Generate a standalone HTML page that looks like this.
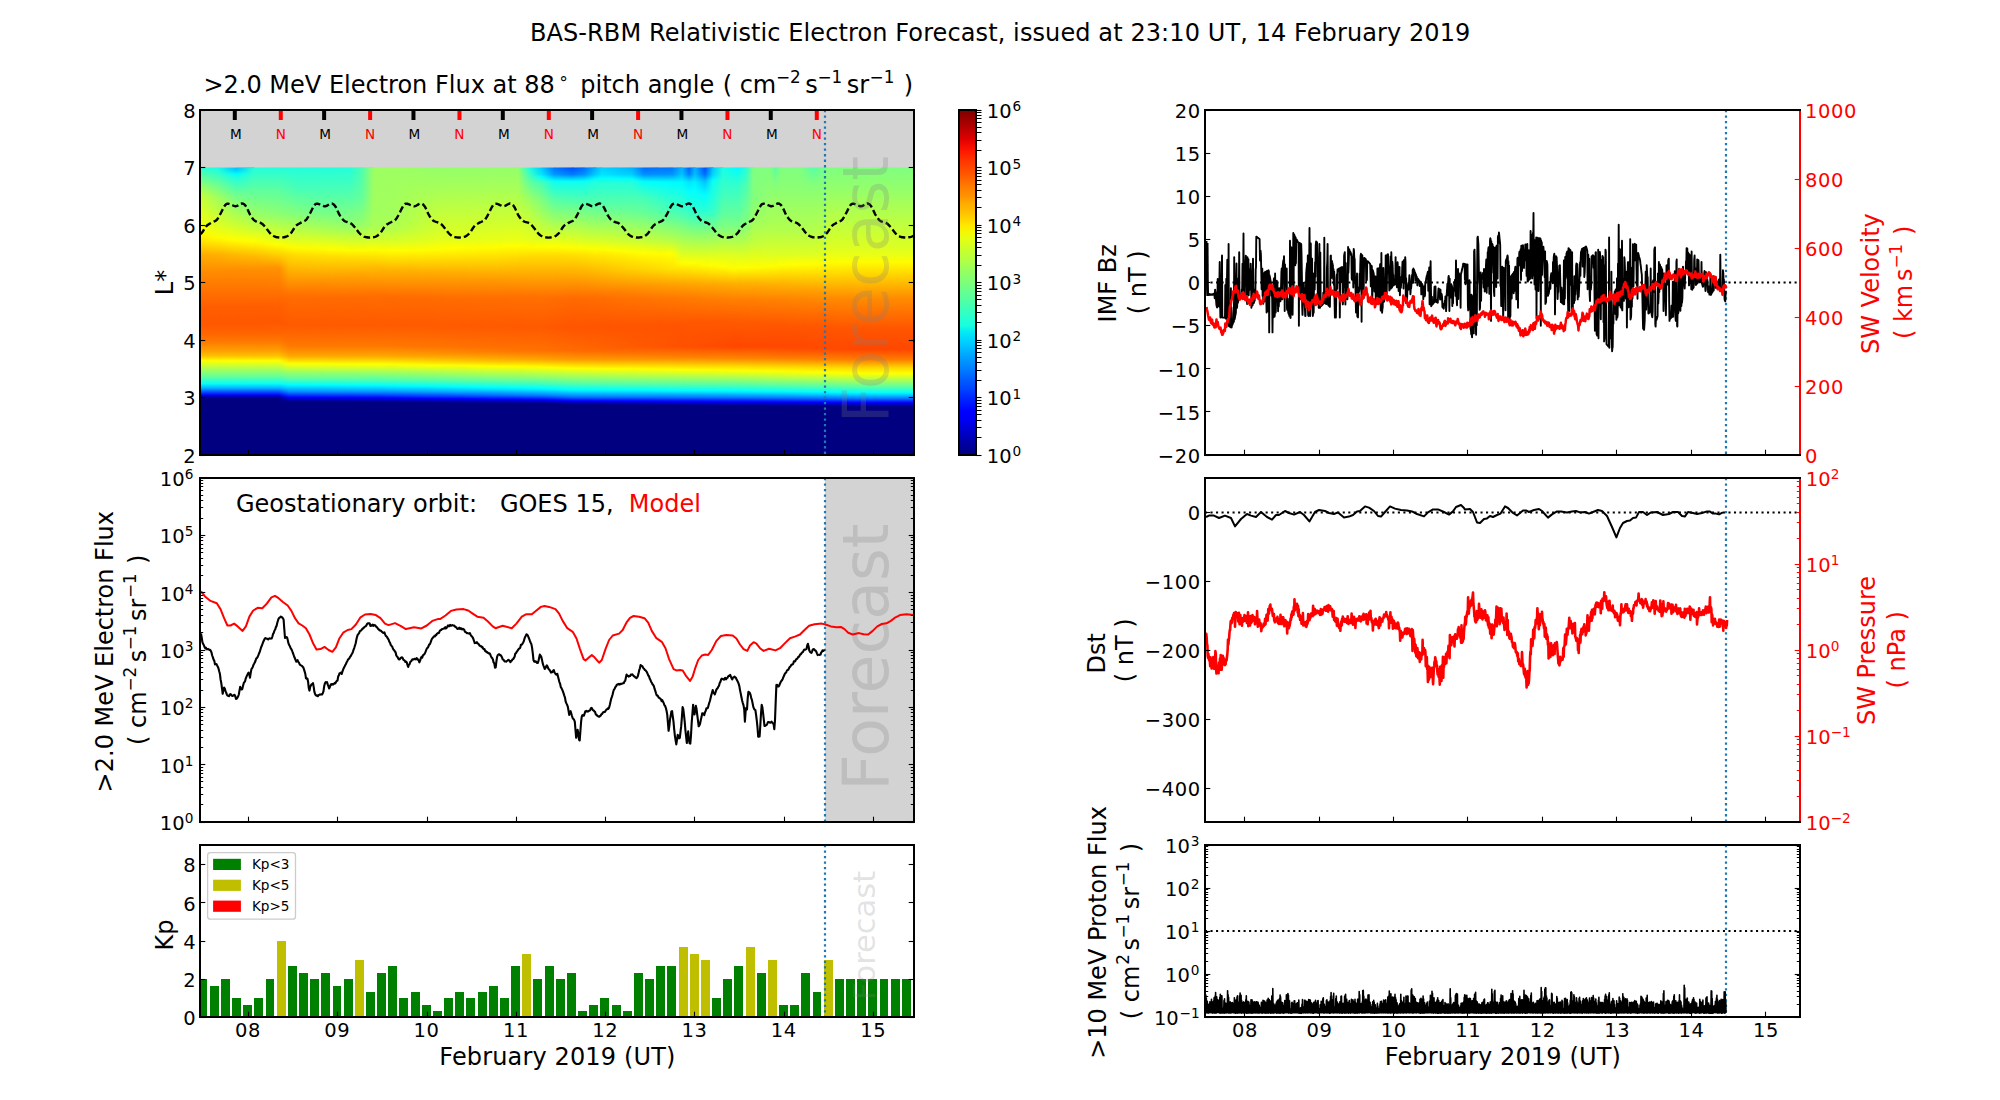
<!DOCTYPE html>
<html><head><meta charset="utf-8"><title>BAS-RBM Relativistic Electron Forecast</title>
<style>html,body{margin:0;padding:0;background:#fff}svg{display:block}text{font-family:'DejaVu Sans','Liberation Sans',sans-serif;white-space:pre}</style>
</head><body>
<svg width="2000" height="1100" viewBox="0 0 2000 1100">
<defs><linearGradient id="hg" x1="0" y1="0" x2="1" y2="0"><stop offset="0" stop-color="#000"/><stop offset="1" stop-color="#fff"/></linearGradient><mask id="mk" maskContentUnits="objectBoundingBox"><rect width="1" height="1" fill="url(#hg)"/></mask><linearGradient id="h0" gradientUnits="userSpaceOnUse" x1="0" y1="167.50" x2="0" y2="455.00"><stop offset=".000" stop-color="#2effd1"/><stop offset=".072" stop-color="#9fff60"/><stop offset=".100" stop-color="#c7ff38"/><stop offset=".172" stop-color="#e6ff19"/><stop offset=".208" stop-color="#f3ff0c"/><stop offset=".228" stop-color="#fffc00"/><stop offset=".256" stop-color="#ffe500"/><stop offset=".304" stop-color="#ffab00"/><stop offset=".380" stop-color="#ff8500"/><stop offset=".488" stop-color="#ff5d00"/><stop offset=".544" stop-color="#ff5800"/><stop offset=".580" stop-color="#ff6700"/><stop offset=".608" stop-color="#ff7c00"/><stop offset=".636" stop-color="#ff9e00"/><stop offset=".656" stop-color="#ffc200"/><stop offset=".672" stop-color="#ffff00"/><stop offset=".704" stop-color="#9fff60"/><stop offset=".724" stop-color="#6eff91"/><stop offset=".748" stop-color="#17ffe8"/><stop offset=".752" stop-color="#04fffb"/><stop offset=".764" stop-color="#00c2ff"/><stop offset=".768" stop-color="#00acff"/><stop offset=".788" stop-color="#001aff"/><stop offset=".792" stop-color="#0000ec"/><stop offset=".800" stop-color="#000094"/><stop offset=".804" stop-color="#000086"/><stop offset=".808" stop-color="#000080"/><stop offset=".840" stop-color="#000080"/></linearGradient><linearGradient id="h1" gradientUnits="userSpaceOnUse" x1="0" y1="167.50" x2="0" y2="455.00"><stop offset=".000" stop-color="#17ffe8"/><stop offset=".064" stop-color="#72ff8d"/><stop offset=".104" stop-color="#a1ff5e"/><stop offset=".172" stop-color="#ccff33"/><stop offset=".208" stop-color="#e1ff1e"/><stop offset=".244" stop-color="#fffc00"/><stop offset=".304" stop-color="#ffb000"/><stop offset=".364" stop-color="#ff8b00"/><stop offset=".484" stop-color="#ff5e00"/><stop offset=".544" stop-color="#ff5800"/><stop offset=".580" stop-color="#ff6700"/><stop offset=".608" stop-color="#ff7c00"/><stop offset=".636" stop-color="#ff9e00"/><stop offset=".656" stop-color="#ffc200"/><stop offset=".672" stop-color="#ffff00"/><stop offset=".704" stop-color="#9fff60"/><stop offset=".724" stop-color="#6eff91"/><stop offset=".748" stop-color="#17ffe8"/><stop offset=".752" stop-color="#04fffb"/><stop offset=".764" stop-color="#00c2ff"/><stop offset=".768" stop-color="#00acff"/><stop offset=".788" stop-color="#001aff"/><stop offset=".792" stop-color="#0000ec"/><stop offset=".800" stop-color="#000094"/><stop offset=".804" stop-color="#000086"/><stop offset=".808" stop-color="#000080"/><stop offset=".840" stop-color="#000080"/></linearGradient><linearGradient id="h2" gradientUnits="userSpaceOnUse" x1="0" y1="167.50" x2="0" y2="455.00"><stop offset=".000" stop-color="#00beff"/><stop offset=".008" stop-color="#00cbff"/><stop offset=".024" stop-color="#02fffd"/><stop offset=".036" stop-color="#22ffdd"/><stop offset=".100" stop-color="#75ff8a"/><stop offset=".220" stop-color="#deff21"/><stop offset=".252" stop-color="#fffe00"/><stop offset=".304" stop-color="#ffb900"/><stop offset=".356" stop-color="#ff8e00"/><stop offset=".484" stop-color="#ff5e00"/><stop offset=".544" stop-color="#ff5800"/><stop offset=".580" stop-color="#ff6700"/><stop offset=".608" stop-color="#ff7c00"/><stop offset=".636" stop-color="#ff9e00"/><stop offset=".656" stop-color="#ffc200"/><stop offset=".672" stop-color="#ffff00"/><stop offset=".704" stop-color="#9fff60"/><stop offset=".724" stop-color="#6eff91"/><stop offset=".748" stop-color="#17ffe8"/><stop offset=".752" stop-color="#04fffb"/><stop offset=".764" stop-color="#00c2ff"/><stop offset=".768" stop-color="#00acff"/><stop offset=".788" stop-color="#001aff"/><stop offset=".792" stop-color="#0000ec"/><stop offset=".800" stop-color="#000094"/><stop offset=".804" stop-color="#000086"/><stop offset=".808" stop-color="#000080"/><stop offset=".840" stop-color="#000080"/></linearGradient><linearGradient id="h3" gradientUnits="userSpaceOnUse" x1="0" y1="167.50" x2="0" y2="455.00"><stop offset=".000" stop-color="#23ffdc"/><stop offset=".068" stop-color="#58ffa7"/><stop offset=".164" stop-color="#9aff65"/><stop offset=".212" stop-color="#c9ff36"/><stop offset=".256" stop-color="#feff01"/><stop offset=".308" stop-color="#ffba00"/><stop offset=".356" stop-color="#ff8e00"/><stop offset=".484" stop-color="#ff5e00"/><stop offset=".544" stop-color="#ff5800"/><stop offset=".580" stop-color="#ff6700"/><stop offset=".608" stop-color="#ff7c00"/><stop offset=".636" stop-color="#ff9e00"/><stop offset=".656" stop-color="#ffc200"/><stop offset=".672" stop-color="#ffff00"/><stop offset=".704" stop-color="#9fff60"/><stop offset=".724" stop-color="#6eff91"/><stop offset=".748" stop-color="#17ffe8"/><stop offset=".752" stop-color="#04fffb"/><stop offset=".764" stop-color="#00c2ff"/><stop offset=".768" stop-color="#00acff"/><stop offset=".788" stop-color="#001aff"/><stop offset=".792" stop-color="#0000ec"/><stop offset=".800" stop-color="#000094"/><stop offset=".804" stop-color="#000086"/><stop offset=".808" stop-color="#000080"/><stop offset=".840" stop-color="#000080"/></linearGradient><linearGradient id="h4" gradientUnits="userSpaceOnUse" x1="0" y1="167.50" x2="0" y2="455.00"><stop offset=".000" stop-color="#24ffdb"/><stop offset=".072" stop-color="#5affa5"/><stop offset=".156" stop-color="#89ff76"/><stop offset=".248" stop-color="#e1ff1e"/><stop offset=".268" stop-color="#feff01"/><stop offset=".348" stop-color="#ff9300"/><stop offset=".476" stop-color="#ff6100"/><stop offset=".536" stop-color="#ff5700"/><stop offset=".576" stop-color="#ff6400"/><stop offset=".608" stop-color="#ff7c00"/><stop offset=".636" stop-color="#ff9e00"/><stop offset=".656" stop-color="#ffc200"/><stop offset=".672" stop-color="#ffff00"/><stop offset=".704" stop-color="#9fff60"/><stop offset=".724" stop-color="#6eff91"/><stop offset=".748" stop-color="#17ffe8"/><stop offset=".752" stop-color="#04fffb"/><stop offset=".764" stop-color="#00c2ff"/><stop offset=".768" stop-color="#00acff"/><stop offset=".788" stop-color="#001aff"/><stop offset=".792" stop-color="#0000ec"/><stop offset=".800" stop-color="#000094"/><stop offset=".804" stop-color="#000086"/><stop offset=".808" stop-color="#000080"/><stop offset=".840" stop-color="#000080"/></linearGradient><linearGradient id="h5" gradientUnits="userSpaceOnUse" x1="0" y1="167.50" x2="0" y2="455.00"><stop offset=".000" stop-color="#24ffdb"/><stop offset=".076" stop-color="#5bffa4"/><stop offset=".156" stop-color="#88ff77"/><stop offset=".248" stop-color="#e1ff1e"/><stop offset=".268" stop-color="#fdff02"/><stop offset=".352" stop-color="#ff9000"/><stop offset=".480" stop-color="#ff5f00"/><stop offset=".540" stop-color="#ff5700"/><stop offset=".576" stop-color="#ff6400"/><stop offset=".608" stop-color="#ff7c00"/><stop offset=".636" stop-color="#ff9e00"/><stop offset=".656" stop-color="#ffc200"/><stop offset=".672" stop-color="#ffff00"/><stop offset=".704" stop-color="#9fff60"/><stop offset=".724" stop-color="#6eff91"/><stop offset=".748" stop-color="#17ffe8"/><stop offset=".752" stop-color="#04fffb"/><stop offset=".764" stop-color="#00c2ff"/><stop offset=".768" stop-color="#00acff"/><stop offset=".788" stop-color="#001aff"/><stop offset=".792" stop-color="#0000ec"/><stop offset=".800" stop-color="#000094"/><stop offset=".804" stop-color="#000086"/><stop offset=".808" stop-color="#000080"/><stop offset=".840" stop-color="#000080"/></linearGradient><linearGradient id="h6" gradientUnits="userSpaceOnUse" x1="0" y1="167.50" x2="0" y2="455.00"><stop offset=".000" stop-color="#24ffdb"/><stop offset=".160" stop-color="#86ff79"/><stop offset=".248" stop-color="#dbff24"/><stop offset=".276" stop-color="#fffc00"/><stop offset=".304" stop-color="#ffd800"/><stop offset=".452" stop-color="#ff6b00"/><stop offset=".548" stop-color="#ff5a00"/><stop offset=".620" stop-color="#ff7800"/><stop offset=".640" stop-color="#ff9100"/><stop offset=".656" stop-color="#ffa800"/><stop offset=".680" stop-color="#fff800"/><stop offset=".684" stop-color="#f8ff07"/><stop offset=".712" stop-color="#99ff66"/><stop offset=".736" stop-color="#57ffa8"/><stop offset=".756" stop-color="#00feff"/><stop offset=".780" stop-color="#008aff"/><stop offset=".796" stop-color="#0014ff"/><stop offset=".800" stop-color="#0000f4"/><stop offset=".812" stop-color="#000090"/><stop offset=".816" stop-color="#000080"/><stop offset=".840" stop-color="#000080"/></linearGradient><linearGradient id="h7" gradientUnits="userSpaceOnUse" x1="0" y1="167.50" x2="0" y2="455.00"><stop offset=".000" stop-color="#24ffdb"/><stop offset=".072" stop-color="#46ffb9"/><stop offset=".164" stop-color="#86ff79"/><stop offset=".252" stop-color="#dcff23"/><stop offset=".280" stop-color="#fffc00"/><stop offset=".304" stop-color="#ffdd00"/><stop offset=".440" stop-color="#ff7200"/><stop offset=".464" stop-color="#ff6900"/><stop offset=".548" stop-color="#ff5a00"/><stop offset=".620" stop-color="#ff7800"/><stop offset=".640" stop-color="#ff9100"/><stop offset=".656" stop-color="#ffa800"/><stop offset=".680" stop-color="#fff800"/><stop offset=".684" stop-color="#f9ff06"/><stop offset=".712" stop-color="#99ff66"/><stop offset=".736" stop-color="#57ffa8"/><stop offset=".756" stop-color="#00feff"/><stop offset=".780" stop-color="#008aff"/><stop offset=".796" stop-color="#0015ff"/><stop offset=".800" stop-color="#0000f5"/><stop offset=".812" stop-color="#000091"/><stop offset=".816" stop-color="#000080"/><stop offset=".840" stop-color="#000080"/></linearGradient><linearGradient id="h8" gradientUnits="userSpaceOnUse" x1="0" y1="167.50" x2="0" y2="455.00"><stop offset=".000" stop-color="#24ffdb"/><stop offset=".072" stop-color="#46ffb9"/><stop offset=".156" stop-color="#75ff8a"/><stop offset=".216" stop-color="#aeff51"/><stop offset=".268" stop-color="#edff12"/><stop offset=".284" stop-color="#fffb00"/><stop offset=".308" stop-color="#ffde00"/><stop offset=".412" stop-color="#ff8600"/><stop offset=".456" stop-color="#ff6a00"/><stop offset=".548" stop-color="#ff5a00"/><stop offset=".620" stop-color="#ff7800"/><stop offset=".640" stop-color="#ff9100"/><stop offset=".656" stop-color="#ffa800"/><stop offset=".680" stop-color="#fff600"/><stop offset=".684" stop-color="#faff05"/><stop offset=".716" stop-color="#8fff70"/><stop offset=".736" stop-color="#59ffa6"/><stop offset=".756" stop-color="#02fffd"/><stop offset=".780" stop-color="#008dff"/><stop offset=".796" stop-color="#0019ff"/><stop offset=".800" stop-color="#0000f9"/><stop offset=".812" stop-color="#000096"/><stop offset=".816" stop-color="#000080"/><stop offset=".840" stop-color="#000080"/></linearGradient><linearGradient id="h9" gradientUnits="userSpaceOnUse" x1="0" y1="167.50" x2="0" y2="455.00"><stop offset=".000" stop-color="#24ffdb"/><stop offset=".072" stop-color="#46ffb9"/><stop offset=".164" stop-color="#7aff85"/><stop offset=".212" stop-color="#a4ff5b"/><stop offset=".264" stop-color="#e3ff1c"/><stop offset=".284" stop-color="#ffff00"/><stop offset=".308" stop-color="#ffe000"/><stop offset=".388" stop-color="#ff9900"/><stop offset=".452" stop-color="#ff6b00"/><stop offset=".548" stop-color="#ff5a00"/><stop offset=".620" stop-color="#ff7800"/><stop offset=".640" stop-color="#ff9100"/><stop offset=".656" stop-color="#ffa800"/><stop offset=".684" stop-color="#fcff03"/><stop offset=".716" stop-color="#90ff6f"/><stop offset=".736" stop-color="#59ffa6"/><stop offset=".756" stop-color="#03fffc"/><stop offset=".768" stop-color="#00c9ff"/><stop offset=".780" stop-color="#008fff"/><stop offset=".800" stop-color="#0000fc"/><stop offset=".812" stop-color="#000098"/><stop offset=".816" stop-color="#000080"/><stop offset=".840" stop-color="#000080"/></linearGradient><linearGradient id="h10" gradientUnits="userSpaceOnUse" x1="0" y1="167.50" x2="0" y2="455.00"><stop offset=".000" stop-color="#24ffdb"/><stop offset=".072" stop-color="#46ffb9"/><stop offset=".176" stop-color="#81ff7e"/><stop offset=".208" stop-color="#9bff64"/><stop offset=".260" stop-color="#d9ff26"/><stop offset=".288" stop-color="#fffc00"/><stop offset=".312" stop-color="#ffde00"/><stop offset=".376" stop-color="#ffa200"/><stop offset=".452" stop-color="#ff6b00"/><stop offset=".548" stop-color="#ff5a00"/><stop offset=".620" stop-color="#ff7800"/><stop offset=".640" stop-color="#ff9100"/><stop offset=".656" stop-color="#ffa800"/><stop offset=".684" stop-color="#fdff02"/><stop offset=".716" stop-color="#91ff6e"/><stop offset=".736" stop-color="#5affa5"/><stop offset=".756" stop-color="#05fffa"/><stop offset=".760" stop-color="#00f2ff"/><stop offset=".780" stop-color="#0090ff"/><stop offset=".800" stop-color="#0000ff"/><stop offset=".812" stop-color="#00009b"/><stop offset=".816" stop-color="#000080"/><stop offset=".840" stop-color="#000080"/></linearGradient><linearGradient id="h11" gradientUnits="userSpaceOnUse" x1="0" y1="167.50" x2="0" y2="455.00"><stop offset=".000" stop-color="#4dffb2"/><stop offset=".108" stop-color="#65ff9a"/><stop offset=".200" stop-color="#97ff68"/><stop offset=".256" stop-color="#d3ff2c"/><stop offset=".288" stop-color="#fffc00"/><stop offset=".312" stop-color="#ffde00"/><stop offset=".376" stop-color="#ffa200"/><stop offset=".452" stop-color="#ff6b00"/><stop offset=".548" stop-color="#ff5a00"/><stop offset=".620" stop-color="#ff7800"/><stop offset=".640" stop-color="#ff9100"/><stop offset=".656" stop-color="#ffa800"/><stop offset=".684" stop-color="#feff01"/><stop offset=".716" stop-color="#92ff6d"/><stop offset=".736" stop-color="#5bffa4"/><stop offset=".756" stop-color="#06fff9"/><stop offset=".760" stop-color="#00f3ff"/><stop offset=".780" stop-color="#0092ff"/><stop offset=".792" stop-color="#003dff"/><stop offset=".800" stop-color="#0002ff"/><stop offset=".816" stop-color="#000080"/><stop offset=".840" stop-color="#000080"/></linearGradient><linearGradient id="h12" gradientUnits="userSpaceOnUse" x1="0" y1="167.50" x2="0" y2="455.00"><stop offset=".000" stop-color="#9eff61"/><stop offset=".156" stop-color="#a3ff5c"/><stop offset=".204" stop-color="#aaff55"/><stop offset=".256" stop-color="#d7ff28"/><stop offset=".284" stop-color="#feff01"/><stop offset=".344" stop-color="#ffbe00"/><stop offset=".440" stop-color="#ff7200"/><stop offset=".464" stop-color="#ff6900"/><stop offset=".548" stop-color="#ff5a00"/><stop offset=".620" stop-color="#ff7800"/><stop offset=".640" stop-color="#ff9100"/><stop offset=".656" stop-color="#ffa800"/><stop offset=".684" stop-color="#ffff00"/><stop offset=".716" stop-color="#93ff6c"/><stop offset=".740" stop-color="#4dffb2"/><stop offset=".756" stop-color="#07fff8"/><stop offset=".760" stop-color="#00f4ff"/><stop offset=".780" stop-color="#0093ff"/><stop offset=".788" stop-color="#005dff"/><stop offset=".800" stop-color="#0004ff"/><stop offset=".812" stop-color="#0000a0"/><stop offset=".816" stop-color="#000080"/><stop offset=".840" stop-color="#000080"/></linearGradient><linearGradient id="h13" gradientUnits="userSpaceOnUse" x1="0" y1="167.50" x2="0" y2="455.00"><stop offset=".000" stop-color="#9eff61"/><stop offset=".152" stop-color="#a2ff5d"/><stop offset=".204" stop-color="#abff54"/><stop offset=".256" stop-color="#d7ff28"/><stop offset=".288" stop-color="#fffc00"/><stop offset=".352" stop-color="#ffb600"/><stop offset=".448" stop-color="#ff6d00"/><stop offset=".548" stop-color="#ff5a00"/><stop offset=".620" stop-color="#ff7800"/><stop offset=".640" stop-color="#ff9100"/><stop offset=".656" stop-color="#ffa800"/><stop offset=".684" stop-color="#ffff00"/><stop offset=".716" stop-color="#93ff6c"/><stop offset=".740" stop-color="#4effb1"/><stop offset=".756" stop-color="#07fff8"/><stop offset=".760" stop-color="#00f5ff"/><stop offset=".780" stop-color="#0093ff"/><stop offset=".788" stop-color="#005eff"/><stop offset=".800" stop-color="#0005ff"/><stop offset=".808" stop-color="#0000c2"/><stop offset=".816" stop-color="#000080"/><stop offset=".840" stop-color="#000080"/></linearGradient><linearGradient id="h14" gradientUnits="userSpaceOnUse" x1="0" y1="167.50" x2="0" y2="455.00"><stop offset=".000" stop-color="#9eff61"/><stop offset=".152" stop-color="#a3ff5c"/><stop offset=".204" stop-color="#aeff51"/><stop offset=".256" stop-color="#d7ff28"/><stop offset=".288" stop-color="#ffff00"/><stop offset=".360" stop-color="#ffb000"/><stop offset=".452" stop-color="#ff6b00"/><stop offset=".548" stop-color="#ff5a00"/><stop offset=".620" stop-color="#ff7700"/><stop offset=".644" stop-color="#ff9500"/><stop offset=".656" stop-color="#ffa600"/><stop offset=".684" stop-color="#fffc00"/><stop offset=".716" stop-color="#96ff69"/><stop offset=".740" stop-color="#50ffaf"/><stop offset=".756" stop-color="#0bfff4"/><stop offset=".760" stop-color="#00f8ff"/><stop offset=".780" stop-color="#0097ff"/><stop offset=".788" stop-color="#0062ff"/><stop offset=".800" stop-color="#0009ff"/><stop offset=".804" stop-color="#0000e7"/><stop offset=".816" stop-color="#000083"/><stop offset=".840" stop-color="#000080"/></linearGradient><linearGradient id="h15" gradientUnits="userSpaceOnUse" x1="0" y1="167.50" x2="0" y2="455.00"><stop offset=".000" stop-color="#9bff64"/><stop offset=".160" stop-color="#aeff51"/><stop offset=".208" stop-color="#bbff44"/><stop offset=".256" stop-color="#dcff23"/><stop offset=".288" stop-color="#fffd00"/><stop offset=".360" stop-color="#ffb000"/><stop offset=".452" stop-color="#ff6c00"/><stop offset=".548" stop-color="#ff5a00"/><stop offset=".624" stop-color="#ff7800"/><stop offset=".656" stop-color="#ffa400"/><stop offset=".684" stop-color="#fff900"/><stop offset=".688" stop-color="#f7ff08"/><stop offset=".716" stop-color="#9aff65"/><stop offset=".740" stop-color="#54ffab"/><stop offset=".760" stop-color="#00fdff"/><stop offset=".780" stop-color="#009cff"/><stop offset=".792" stop-color="#004bff"/><stop offset=".800" stop-color="#000fff"/><stop offset=".804" stop-color="#0000ed"/><stop offset=".816" stop-color="#000087"/><stop offset=".820" stop-color="#000080"/><stop offset=".840" stop-color="#000080"/></linearGradient><linearGradient id="h16" gradientUnits="userSpaceOnUse" x1="0" y1="167.50" x2="0" y2="455.00"><stop offset=".000" stop-color="#97ff68"/><stop offset=".112" stop-color="#adff52"/><stop offset=".212" stop-color="#c8ff37"/><stop offset=".256" stop-color="#e1ff1e"/><stop offset=".288" stop-color="#fffc00"/><stop offset=".364" stop-color="#ffae00"/><stop offset=".452" stop-color="#ff6c00"/><stop offset=".548" stop-color="#ff5a00"/><stop offset=".624" stop-color="#ff7600"/><stop offset=".656" stop-color="#ffa200"/><stop offset=".680" stop-color="#ffe800"/><stop offset=".688" stop-color="#fbff04"/><stop offset=".716" stop-color="#9eff61"/><stop offset=".740" stop-color="#57ffa8"/><stop offset=".760" stop-color="#02fffd"/><stop offset=".780" stop-color="#00a0ff"/><stop offset=".792" stop-color="#0052ff"/><stop offset=".800" stop-color="#0015ff"/><stop offset=".804" stop-color="#0000f2"/><stop offset=".816" stop-color="#00008b"/><stop offset=".820" stop-color="#000080"/><stop offset=".840" stop-color="#000080"/></linearGradient><linearGradient id="h17" gradientUnits="userSpaceOnUse" x1="0" y1="167.50" x2="0" y2="455.00"><stop offset=".000" stop-color="#94ff6b"/><stop offset=".080" stop-color="#a9ff56"/><stop offset=".244" stop-color="#deff21"/><stop offset=".284" stop-color="#fffe00"/><stop offset=".364" stop-color="#ffae00"/><stop offset=".452" stop-color="#ff6d00"/><stop offset=".552" stop-color="#ff5b00"/><stop offset=".624" stop-color="#ff7500"/><stop offset=".648" stop-color="#ff9300"/><stop offset=".660" stop-color="#ffaa00"/><stop offset=".680" stop-color="#ffe400"/><stop offset=".688" stop-color="#feff01"/><stop offset=".716" stop-color="#a2ff5d"/><stop offset=".740" stop-color="#5affa5"/><stop offset=".760" stop-color="#06fff9"/><stop offset=".764" stop-color="#00f3ff"/><stop offset=".780" stop-color="#00a5ff"/><stop offset=".796" stop-color="#003bff"/><stop offset=".800" stop-color="#001bff"/><stop offset=".804" stop-color="#0000f8"/><stop offset=".816" stop-color="#00008f"/><stop offset=".820" stop-color="#000080"/><stop offset=".840" stop-color="#000080"/></linearGradient><linearGradient id="h18" gradientUnits="userSpaceOnUse" x1="0" y1="167.50" x2="0" y2="455.00"><stop offset=".000" stop-color="#94ff6b"/><stop offset=".076" stop-color="#a8ff57"/><stop offset=".248" stop-color="#e2ff1d"/><stop offset=".280" stop-color="#ffff00"/><stop offset=".372" stop-color="#ffa800"/><stop offset=".456" stop-color="#ff6c00"/><stop offset=".552" stop-color="#ff5a00"/><stop offset=".624" stop-color="#ff7300"/><stop offset=".644" stop-color="#ff8900"/><stop offset=".660" stop-color="#ffa600"/><stop offset=".676" stop-color="#ffd200"/><stop offset=".688" stop-color="#fffb00"/><stop offset=".708" stop-color="#c0ff3f"/><stop offset=".740" stop-color="#5effa1"/><stop offset=".760" stop-color="#0cfff3"/><stop offset=".764" stop-color="#00f9ff"/><stop offset=".780" stop-color="#00abff"/><stop offset=".792" stop-color="#0060ff"/><stop offset=".804" stop-color="#0000ff"/><stop offset=".816" stop-color="#000094"/><stop offset=".820" stop-color="#000080"/><stop offset=".840" stop-color="#000080"/></linearGradient><linearGradient id="h19" gradientUnits="userSpaceOnUse" x1="0" y1="167.50" x2="0" y2="455.00"><stop offset=".000" stop-color="#94ff6b"/><stop offset=".072" stop-color="#a7ff58"/><stop offset=".196" stop-color="#d0ff2f"/><stop offset=".252" stop-color="#e6ff19"/><stop offset=".280" stop-color="#fffc00"/><stop offset=".388" stop-color="#ff9c00"/><stop offset=".456" stop-color="#ff6d00"/><stop offset=".552" stop-color="#ff5a00"/><stop offset=".624" stop-color="#ff7100"/><stop offset=".640" stop-color="#ff7f00"/><stop offset=".660" stop-color="#ffa200"/><stop offset=".672" stop-color="#ffc000"/><stop offset=".688" stop-color="#fff700"/><stop offset=".692" stop-color="#f9ff06"/><stop offset=".740" stop-color="#62ff9d"/><stop offset=".764" stop-color="#00ffff"/><stop offset=".776" stop-color="#00c6ff"/><stop offset=".792" stop-color="#0067ff"/><stop offset=".800" stop-color="#0029ff"/><stop offset=".804" stop-color="#0006ff"/><stop offset=".808" stop-color="#0000e3"/><stop offset=".816" stop-color="#000098"/><stop offset=".820" stop-color="#000080"/><stop offset=".840" stop-color="#000080"/></linearGradient><linearGradient id="h20" gradientUnits="userSpaceOnUse" x1="0" y1="167.50" x2="0" y2="455.00"><stop offset=".000" stop-color="#94ff6b"/><stop offset=".072" stop-color="#a7ff58"/><stop offset=".192" stop-color="#d0ff2f"/><stop offset=".252" stop-color="#e8ff17"/><stop offset=".276" stop-color="#fffe00"/><stop offset=".388" stop-color="#ff9c00"/><stop offset=".456" stop-color="#ff6d00"/><stop offset=".552" stop-color="#ff5a00"/><stop offset=".624" stop-color="#ff6f00"/><stop offset=".640" stop-color="#ff7c00"/><stop offset=".664" stop-color="#ffa700"/><stop offset=".676" stop-color="#ffc900"/><stop offset=".692" stop-color="#fdff02"/><stop offset=".740" stop-color="#66ff99"/><stop offset=".760" stop-color="#17ffe8"/><stop offset=".764" stop-color="#05fffa"/><stop offset=".772" stop-color="#00e1ff"/><stop offset=".792" stop-color="#006fff"/><stop offset=".800" stop-color="#0030ff"/><stop offset=".804" stop-color="#000dff"/><stop offset=".808" stop-color="#0000e9"/><stop offset=".816" stop-color="#00009d"/><stop offset=".820" stop-color="#000080"/><stop offset=".840" stop-color="#000080"/></linearGradient><linearGradient id="h21" gradientUnits="userSpaceOnUse" x1="0" y1="167.50" x2="0" y2="455.00"><stop offset=".000" stop-color="#94ff6b"/><stop offset=".072" stop-color="#a7ff58"/><stop offset=".192" stop-color="#d2ff2d"/><stop offset=".252" stop-color="#ebff14"/><stop offset=".272" stop-color="#ffff00"/><stop offset=".320" stop-color="#ffd300"/><stop offset=".448" stop-color="#ff7100"/><stop offset=".552" stop-color="#ff5900"/><stop offset=".628" stop-color="#ff7000"/><stop offset=".640" stop-color="#ff7800"/><stop offset=".668" stop-color="#ffab00"/><stop offset=".692" stop-color="#fffd00"/><stop offset=".740" stop-color="#6aff95"/><stop offset=".760" stop-color="#1cffe3"/><stop offset=".764" stop-color="#0bfff4"/><stop offset=".768" stop-color="#00f9ff"/><stop offset=".776" stop-color="#00d2ff"/><stop offset=".792" stop-color="#0077ff"/><stop offset=".800" stop-color="#0037ff"/><stop offset=".804" stop-color="#0014ff"/><stop offset=".808" stop-color="#0000ef"/><stop offset=".820" stop-color="#000080"/><stop offset=".840" stop-color="#000080"/></linearGradient><linearGradient id="h22" gradientUnits="userSpaceOnUse" x1="0" y1="167.50" x2="0" y2="455.00"><stop offset=".000" stop-color="#1affe5"/><stop offset=".056" stop-color="#67ff98"/><stop offset=".108" stop-color="#99ff66"/><stop offset=".160" stop-color="#baff45"/><stop offset=".248" stop-color="#e2ff1d"/><stop offset=".276" stop-color="#fffc00"/><stop offset=".308" stop-color="#ffdb00"/><stop offset=".452" stop-color="#ff6f00"/><stop offset=".556" stop-color="#ff5a00"/><stop offset=".632" stop-color="#ff7000"/><stop offset=".644" stop-color="#ff7d00"/><stop offset=".668" stop-color="#ffa800"/><stop offset=".692" stop-color="#fffa00"/><stop offset=".700" stop-color="#eaff15"/><stop offset=".740" stop-color="#6cff93"/><stop offset=".760" stop-color="#1fffe0"/><stop offset=".768" stop-color="#00fdff"/><stop offset=".776" stop-color="#00d6ff"/><stop offset=".792" stop-color="#007cff"/><stop offset=".796" stop-color="#005fff"/><stop offset=".804" stop-color="#0018ff"/><stop offset=".808" stop-color="#0000f3"/><stop offset=".820" stop-color="#000080"/><stop offset=".840" stop-color="#000080"/></linearGradient><linearGradient id="h23" gradientUnits="userSpaceOnUse" x1="0" y1="167.50" x2="0" y2="455.00"><stop offset=".000" stop-color="#00c7ff"/><stop offset=".024" stop-color="#00e4ff"/><stop offset=".032" stop-color="#00ffff"/><stop offset=".048" stop-color="#3bffc4"/><stop offset=".056" stop-color="#48ffb7"/><stop offset=".108" stop-color="#7bff84"/><stop offset=".252" stop-color="#e1ff1e"/><stop offset=".276" stop-color="#ffff00"/><stop offset=".304" stop-color="#ffde00"/><stop offset=".452" stop-color="#ff7000"/><stop offset=".556" stop-color="#ff5a00"/><stop offset=".636" stop-color="#ff7000"/><stop offset=".668" stop-color="#ffa500"/><stop offset=".688" stop-color="#ffe900"/><stop offset=".692" stop-color="#fff800"/><stop offset=".696" stop-color="#f9ff06"/><stop offset=".736" stop-color="#7cff83"/><stop offset=".756" stop-color="#33ffcc"/><stop offset=".768" stop-color="#01fffe"/><stop offset=".772" stop-color="#00f0ff"/><stop offset=".792" stop-color="#0080ff"/><stop offset=".796" stop-color="#0063ff"/><stop offset=".804" stop-color="#001cff"/><stop offset=".808" stop-color="#0000f7"/><stop offset=".820" stop-color="#000080"/><stop offset=".840" stop-color="#000080"/></linearGradient><linearGradient id="h24" gradientUnits="userSpaceOnUse" x1="0" y1="167.50" x2="0" y2="455.00"><stop offset=".000" stop-color="#0075ff"/><stop offset=".024" stop-color="#009aff"/><stop offset=".044" stop-color="#00f3ff"/><stop offset=".048" stop-color="#06fff9"/><stop offset=".052" stop-color="#12ffed"/><stop offset=".108" stop-color="#54ffab"/><stop offset=".172" stop-color="#92ff6d"/><stop offset=".236" stop-color="#d2ff2d"/><stop offset=".276" stop-color="#ffff00"/><stop offset=".304" stop-color="#ffde00"/><stop offset=".456" stop-color="#ff6d00"/><stop offset=".556" stop-color="#ff5800"/><stop offset=".636" stop-color="#ff6e00"/><stop offset=".668" stop-color="#ffa100"/><stop offset=".688" stop-color="#ffe400"/><stop offset=".696" stop-color="#feff01"/><stop offset=".740" stop-color="#73ff8c"/><stop offset=".756" stop-color="#3affc5"/><stop offset=".768" stop-color="#08fff7"/><stop offset=".772" stop-color="#00f6ff"/><stop offset=".792" stop-color="#0089ff"/><stop offset=".796" stop-color="#006fff"/><stop offset=".808" stop-color="#0006ff"/><stop offset=".812" stop-color="#0000e0"/><stop offset=".820" stop-color="#00008d"/><stop offset=".824" stop-color="#000080"/><stop offset=".840" stop-color="#000080"/></linearGradient><linearGradient id="h25" gradientUnits="userSpaceOnUse" x1="0" y1="167.50" x2="0" y2="455.00"><stop offset=".000" stop-color="#004dff"/><stop offset=".024" stop-color="#007bff"/><stop offset=".040" stop-color="#00d4ff"/><stop offset=".048" stop-color="#04fffb"/><stop offset=".052" stop-color="#11ffee"/><stop offset=".228" stop-color="#c5ff3a"/><stop offset=".260" stop-color="#e7ff18"/><stop offset=".280" stop-color="#fffd00"/><stop offset=".304" stop-color="#ffdf00"/><stop offset=".456" stop-color="#ff6a00"/><stop offset=".556" stop-color="#ff5500"/><stop offset=".636" stop-color="#ff6b00"/><stop offset=".668" stop-color="#ff9b00"/><stop offset=".688" stop-color="#ffdd00"/><stop offset=".696" stop-color="#fff800"/><stop offset=".700" stop-color="#f8ff07"/><stop offset=".752" stop-color="#53ffac"/><stop offset=".772" stop-color="#01fffe"/><stop offset=".776" stop-color="#00efff"/><stop offset=".796" stop-color="#007fff"/><stop offset=".800" stop-color="#0062ff"/><stop offset=".808" stop-color="#001bff"/><stop offset=".812" stop-color="#0000f6"/><stop offset=".820" stop-color="#0000a0"/><stop offset=".824" stop-color="#000080"/><stop offset=".840" stop-color="#000080"/></linearGradient><linearGradient id="h26" gradientUnits="userSpaceOnUse" x1="0" y1="167.50" x2="0" y2="455.00"><stop offset=".000" stop-color="#004fff"/><stop offset=".024" stop-color="#007dff"/><stop offset=".040" stop-color="#00d5ff"/><stop offset=".048" stop-color="#04fffb"/><stop offset=".052" stop-color="#11ffee"/><stop offset=".196" stop-color="#a7ff58"/><stop offset=".256" stop-color="#e1ff1e"/><stop offset=".280" stop-color="#fffd00"/><stop offset=".304" stop-color="#ffe000"/><stop offset=".456" stop-color="#ff6a00"/><stop offset=".556" stop-color="#ff5500"/><stop offset=".636" stop-color="#ff6a00"/><stop offset=".668" stop-color="#ff9b00"/><stop offset=".688" stop-color="#ffdc00"/><stop offset=".696" stop-color="#fff800"/><stop offset=".700" stop-color="#f9ff06"/><stop offset=".752" stop-color="#53ffac"/><stop offset=".772" stop-color="#01fffe"/><stop offset=".776" stop-color="#00f0ff"/><stop offset=".796" stop-color="#0080ff"/><stop offset=".800" stop-color="#0063ff"/><stop offset=".808" stop-color="#001cff"/><stop offset=".812" stop-color="#0000f7"/><stop offset=".820" stop-color="#0000a2"/><stop offset=".824" stop-color="#000080"/><stop offset=".840" stop-color="#000080"/></linearGradient><linearGradient id="h27" gradientUnits="userSpaceOnUse" x1="0" y1="167.50" x2="0" y2="455.00"><stop offset=".000" stop-color="#006bff"/><stop offset=".024" stop-color="#0092ff"/><stop offset=".044" stop-color="#00f1ff"/><stop offset=".048" stop-color="#06fff9"/><stop offset=".052" stop-color="#11ffee"/><stop offset=".176" stop-color="#8cff73"/><stop offset=".256" stop-color="#dcff23"/><stop offset=".280" stop-color="#fdff02"/><stop offset=".304" stop-color="#ffe300"/><stop offset=".392" stop-color="#ff9d00"/><stop offset=".456" stop-color="#ff6b00"/><stop offset=".556" stop-color="#ff5500"/><stop offset=".628" stop-color="#ff6600"/><stop offset=".640" stop-color="#ff6d00"/><stop offset=".668" stop-color="#ff9a00"/><stop offset=".696" stop-color="#fff700"/><stop offset=".700" stop-color="#faff05"/><stop offset=".752" stop-color="#54ffab"/><stop offset=".772" stop-color="#03fffc"/><stop offset=".776" stop-color="#00f1ff"/><stop offset=".796" stop-color="#0081ff"/><stop offset=".800" stop-color="#0065ff"/><stop offset=".808" stop-color="#001eff"/><stop offset=".812" stop-color="#0000f9"/><stop offset=".820" stop-color="#0000a5"/><stop offset=".824" stop-color="#000082"/><stop offset=".840" stop-color="#000080"/></linearGradient><linearGradient id="h28" gradientUnits="userSpaceOnUse" x1="0" y1="167.50" x2="0" y2="455.00"><stop offset=".000" stop-color="#00b2ff"/><stop offset=".024" stop-color="#00cdff"/><stop offset=".040" stop-color="#02fffd"/><stop offset=".048" stop-color="#1dffe2"/><stop offset=".056" stop-color="#27ffd8"/><stop offset=".124" stop-color="#55ffaa"/><stop offset=".164" stop-color="#7aff85"/><stop offset=".228" stop-color="#bbff44"/><stop offset=".260" stop-color="#ddff22"/><stop offset=".284" stop-color="#feff01"/><stop offset=".308" stop-color="#ffe500"/><stop offset=".376" stop-color="#ffae00"/><stop offset=".452" stop-color="#ff6e00"/><stop offset=".552" stop-color="#ff5400"/><stop offset=".628" stop-color="#ff6400"/><stop offset=".640" stop-color="#ff6c00"/><stop offset=".668" stop-color="#ff9a00"/><stop offset=".696" stop-color="#fff500"/><stop offset=".700" stop-color="#fcff03"/><stop offset=".752" stop-color="#56ffa9"/><stop offset=".772" stop-color="#04fffb"/><stop offset=".776" stop-color="#00f2ff"/><stop offset=".796" stop-color="#0082ff"/><stop offset=".800" stop-color="#0066ff"/><stop offset=".812" stop-color="#0000fb"/><stop offset=".820" stop-color="#0000a8"/><stop offset=".824" stop-color="#000085"/><stop offset=".832" stop-color="#000080"/><stop offset=".840" stop-color="#000080"/></linearGradient><linearGradient id="h29" gradientUnits="userSpaceOnUse" x1="0" y1="167.50" x2="0" y2="455.00"><stop offset=".000" stop-color="#00d1ff"/><stop offset=".024" stop-color="#00e5ff"/><stop offset=".036" stop-color="#01fffe"/><stop offset=".052" stop-color="#25ffda"/><stop offset=".124" stop-color="#55ffaa"/><stop offset=".164" stop-color="#7aff85"/><stop offset=".228" stop-color="#bbff44"/><stop offset=".260" stop-color="#ddff22"/><stop offset=".284" stop-color="#feff01"/><stop offset=".304" stop-color="#ffe800"/><stop offset=".364" stop-color="#ffbb00"/><stop offset=".452" stop-color="#ff6f00"/><stop offset=".552" stop-color="#ff5400"/><stop offset=".628" stop-color="#ff6300"/><stop offset=".640" stop-color="#ff6c00"/><stop offset=".668" stop-color="#ff9900"/><stop offset=".700" stop-color="#fdff02"/><stop offset=".752" stop-color="#56ffa9"/><stop offset=".772" stop-color="#05fffa"/><stop offset=".776" stop-color="#00f3ff"/><stop offset=".796" stop-color="#0083ff"/><stop offset=".800" stop-color="#0067ff"/><stop offset=".812" stop-color="#0000fc"/><stop offset=".820" stop-color="#0000aa"/><stop offset=".824" stop-color="#000087"/><stop offset=".828" stop-color="#000080"/><stop offset=".840" stop-color="#000080"/></linearGradient><linearGradient id="h30" gradientUnits="userSpaceOnUse" x1="0" y1="167.50" x2="0" y2="455.00"><stop offset=".000" stop-color="#00c2ff"/><stop offset=".024" stop-color="#00d9ff"/><stop offset=".036" stop-color="#00faff"/><stop offset=".044" stop-color="#12ffed"/><stop offset=".052" stop-color="#25ffda"/><stop offset=".140" stop-color="#60ff9f"/><stop offset=".256" stop-color="#d2ff2d"/><stop offset=".288" stop-color="#feff01"/><stop offset=".308" stop-color="#ffea00"/><stop offset=".360" stop-color="#ffc500"/><stop offset=".432" stop-color="#ff8100"/><stop offset=".460" stop-color="#ff6f00"/><stop offset=".556" stop-color="#ff5400"/><stop offset=".628" stop-color="#ff6000"/><stop offset=".644" stop-color="#ff7000"/><stop offset=".668" stop-color="#ff9900"/><stop offset=".700" stop-color="#ffff00"/><stop offset=".752" stop-color="#58ffa7"/><stop offset=".772" stop-color="#06fff9"/><stop offset=".776" stop-color="#00f5ff"/><stop offset=".796" stop-color="#0084ff"/><stop offset=".800" stop-color="#0068ff"/><stop offset=".812" stop-color="#0000ff"/><stop offset=".824" stop-color="#00008b"/><stop offset=".828" stop-color="#000080"/><stop offset=".840" stop-color="#000080"/></linearGradient><linearGradient id="h31" gradientUnits="userSpaceOnUse" x1="0" y1="167.50" x2="0" y2="455.00"><stop offset=".000" stop-color="#00b2ff"/><stop offset=".024" stop-color="#00cdff"/><stop offset=".040" stop-color="#02fffd"/><stop offset=".048" stop-color="#1dffe2"/><stop offset=".056" stop-color="#27ffd8"/><stop offset=".156" stop-color="#6bff94"/><stop offset=".256" stop-color="#cdff32"/><stop offset=".292" stop-color="#feff01"/><stop offset=".308" stop-color="#fff000"/><stop offset=".356" stop-color="#ffce00"/><stop offset=".416" stop-color="#ff9100"/><stop offset=".456" stop-color="#ff7200"/><stop offset=".552" stop-color="#ff5400"/><stop offset=".624" stop-color="#ff5b00"/><stop offset=".644" stop-color="#ff6f00"/><stop offset=".668" stop-color="#ff9800"/><stop offset=".700" stop-color="#fffd00"/><stop offset=".736" stop-color="#8fff70"/><stop offset=".756" stop-color="#4bffb4"/><stop offset=".772" stop-color="#08fff7"/><stop offset=".776" stop-color="#00f6ff"/><stop offset=".796" stop-color="#0085ff"/><stop offset=".800" stop-color="#006aff"/><stop offset=".812" stop-color="#0002ff"/><stop offset=".824" stop-color="#00008e"/><stop offset=".828" stop-color="#000080"/><stop offset=".840" stop-color="#000080"/></linearGradient><linearGradient id="h32" gradientUnits="userSpaceOnUse" x1="0" y1="167.50" x2="0" y2="455.00"><stop offset=".000" stop-color="#006bff"/><stop offset=".024" stop-color="#0090ff"/><stop offset=".048" stop-color="#00fbff"/><stop offset=".060" stop-color="#11ffee"/><stop offset=".104" stop-color="#45ffba"/><stop offset=".156" stop-color="#66ff99"/><stop offset=".256" stop-color="#c8ff37"/><stop offset=".296" stop-color="#ffff00"/><stop offset=".356" stop-color="#ffd300"/><stop offset=".412" stop-color="#ff9700"/><stop offset=".456" stop-color="#ff7400"/><stop offset=".552" stop-color="#ff5400"/><stop offset=".624" stop-color="#ff5900"/><stop offset=".644" stop-color="#ff6e00"/><stop offset=".668" stop-color="#ff9700"/><stop offset=".700" stop-color="#fffc00"/><stop offset=".712" stop-color="#deff21"/><stop offset=".756" stop-color="#4cffb3"/><stop offset=".772" stop-color="#0afff5"/><stop offset=".776" stop-color="#00f8ff"/><stop offset=".796" stop-color="#0086ff"/><stop offset=".800" stop-color="#006bff"/><stop offset=".812" stop-color="#0004ff"/><stop offset=".816" stop-color="#0000de"/><stop offset=".824" stop-color="#000091"/><stop offset=".828" stop-color="#000080"/><stop offset=".840" stop-color="#000080"/></linearGradient><linearGradient id="h33" gradientUnits="userSpaceOnUse" x1="0" y1="167.50" x2="0" y2="455.00"><stop offset=".000" stop-color="#0070ff"/><stop offset=".024" stop-color="#0092ff"/><stop offset=".048" stop-color="#00f6ff"/><stop offset=".052" stop-color="#02fffd"/><stop offset=".108" stop-color="#38ffc7"/><stop offset=".156" stop-color="#59ffa6"/><stop offset=".256" stop-color="#c1ff3e"/><stop offset=".300" stop-color="#fffc00"/><stop offset=".352" stop-color="#ffdd00"/><stop offset=".408" stop-color="#ff9d00"/><stop offset=".456" stop-color="#ff7600"/><stop offset=".548" stop-color="#ff5400"/><stop offset=".624" stop-color="#ff5600"/><stop offset=".648" stop-color="#ff7300"/><stop offset=".664" stop-color="#ff8d00"/><stop offset=".680" stop-color="#ffbc00"/><stop offset=".700" stop-color="#fffa00"/><stop offset=".708" stop-color="#edff12"/><stop offset=".756" stop-color="#4effb1"/><stop offset=".772" stop-color="#0bfff4"/><stop offset=".776" stop-color="#00f9ff"/><stop offset=".800" stop-color="#006dff"/><stop offset=".812" stop-color="#0007ff"/><stop offset=".816" stop-color="#0000e1"/><stop offset=".824" stop-color="#000095"/><stop offset=".828" stop-color="#000080"/><stop offset=".840" stop-color="#000080"/></linearGradient><linearGradient id="h34" gradientUnits="userSpaceOnUse" x1="0" y1="167.50" x2="0" y2="455.00"><stop offset=".000" stop-color="#0075ff"/><stop offset=".024" stop-color="#0095ff"/><stop offset=".048" stop-color="#00f2ff"/><stop offset=".052" stop-color="#00fcff"/><stop offset=".104" stop-color="#26ffd9"/><stop offset=".156" stop-color="#4dffb2"/><stop offset=".256" stop-color="#baff45"/><stop offset=".300" stop-color="#ffff00"/><stop offset=".352" stop-color="#ffe300"/><stop offset=".408" stop-color="#ffa000"/><stop offset=".456" stop-color="#ff7800"/><stop offset=".548" stop-color="#ff5400"/><stop offset=".624" stop-color="#ff5300"/><stop offset=".652" stop-color="#ff7700"/><stop offset=".664" stop-color="#ff8c00"/><stop offset=".700" stop-color="#fff800"/><stop offset=".704" stop-color="#fbff04"/><stop offset=".756" stop-color="#4fffb0"/><stop offset=".772" stop-color="#0dfff2"/><stop offset=".776" stop-color="#00fbff"/><stop offset=".800" stop-color="#006eff"/><stop offset=".812" stop-color="#0009ff"/><stop offset=".816" stop-color="#0000e4"/><stop offset=".824" stop-color="#000098"/><stop offset=".828" stop-color="#000080"/><stop offset=".840" stop-color="#000080"/></linearGradient><linearGradient id="h35" gradientUnits="userSpaceOnUse" x1="0" y1="167.50" x2="0" y2="455.00"><stop offset=".000" stop-color="#00b2ff"/><stop offset=".024" stop-color="#00c4ff"/><stop offset=".052" stop-color="#00fbff"/><stop offset=".092" stop-color="#19ffe6"/><stop offset=".152" stop-color="#3fffc0"/><stop offset=".212" stop-color="#83ff7c"/><stop offset=".300" stop-color="#dbff24"/><stop offset=".332" stop-color="#fffe00"/><stop offset=".408" stop-color="#ffa100"/><stop offset=".456" stop-color="#ff7900"/><stop offset=".548" stop-color="#ff5400"/><stop offset=".624" stop-color="#ff5100"/><stop offset=".656" stop-color="#ff7c00"/><stop offset=".668" stop-color="#ff9500"/><stop offset=".700" stop-color="#fff700"/><stop offset=".704" stop-color="#fcff03"/><stop offset=".756" stop-color="#51ffae"/><stop offset=".776" stop-color="#00fcff"/><stop offset=".800" stop-color="#006fff"/><stop offset=".812" stop-color="#000bff"/><stop offset=".816" stop-color="#0000e6"/><stop offset=".824" stop-color="#00009b"/><stop offset=".828" stop-color="#000080"/><stop offset=".840" stop-color="#000080"/></linearGradient><linearGradient id="h36" gradientUnits="userSpaceOnUse" x1="0" y1="167.50" x2="0" y2="455.00"><stop offset=".000" stop-color="#0061ff"/><stop offset=".024" stop-color="#0081ff"/><stop offset=".048" stop-color="#00deff"/><stop offset=".052" stop-color="#00e7ff"/><stop offset=".084" stop-color="#02fffd"/><stop offset=".156" stop-color="#39ffc6"/><stop offset=".224" stop-color="#87ff78"/><stop offset=".332" stop-color="#feff01"/><stop offset=".380" stop-color="#ffc400"/><stop offset=".408" stop-color="#ffa300"/><stop offset=".456" stop-color="#ff7a00"/><stop offset=".544" stop-color="#ff5600"/><stop offset=".624" stop-color="#ff5000"/><stop offset=".660" stop-color="#ff8200"/><stop offset=".676" stop-color="#ffae00"/><stop offset=".700" stop-color="#fff600"/><stop offset=".704" stop-color="#fdff02"/><stop offset=".756" stop-color="#51ffae"/><stop offset=".776" stop-color="#00fdff"/><stop offset=".800" stop-color="#0070ff"/><stop offset=".812" stop-color="#000cff"/><stop offset=".816" stop-color="#0000e8"/><stop offset=".824" stop-color="#00009d"/><stop offset=".828" stop-color="#000080"/><stop offset=".840" stop-color="#000080"/></linearGradient><linearGradient id="h37" gradientUnits="userSpaceOnUse" x1="0" y1="167.50" x2="0" y2="455.00"><stop offset=".000" stop-color="#00b2ff"/><stop offset=".024" stop-color="#00c1ff"/><stop offset=".052" stop-color="#00f1ff"/><stop offset=".080" stop-color="#03fffc"/><stop offset=".152" stop-color="#2affd5"/><stop offset=".224" stop-color="#84ff7b"/><stop offset=".332" stop-color="#fdff02"/><stop offset=".360" stop-color="#ffe100"/><stop offset=".404" stop-color="#ffa700"/><stop offset=".456" stop-color="#ff7b00"/><stop offset=".540" stop-color="#ff5700"/><stop offset=".624" stop-color="#ff4f00"/><stop offset=".660" stop-color="#ff8100"/><stop offset=".676" stop-color="#ffad00"/><stop offset=".700" stop-color="#fff500"/><stop offset=".704" stop-color="#feff01"/><stop offset=".756" stop-color="#52ffad"/><stop offset=".776" stop-color="#00feff"/><stop offset=".800" stop-color="#0071ff"/><stop offset=".812" stop-color="#000dff"/><stop offset=".816" stop-color="#0000e9"/><stop offset=".824" stop-color="#00009e"/><stop offset=".828" stop-color="#000080"/><stop offset=".840" stop-color="#000080"/></linearGradient><linearGradient id="h38" gradientUnits="userSpaceOnUse" x1="0" y1="167.50" x2="0" y2="455.00"><stop offset=".000" stop-color="#004dff"/><stop offset=".024" stop-color="#006aff"/><stop offset=".048" stop-color="#00c0ff"/><stop offset=".056" stop-color="#00ceff"/><stop offset=".096" stop-color="#00ffff"/><stop offset=".156" stop-color="#30ffcf"/><stop offset=".224" stop-color="#84ff7b"/><stop offset=".320" stop-color="#eeff11"/><stop offset=".340" stop-color="#fffc00"/><stop offset=".376" stop-color="#ffce00"/><stop offset=".408" stop-color="#ffa600"/><stop offset=".460" stop-color="#ff7b00"/><stop offset=".540" stop-color="#ff5700"/><stop offset=".624" stop-color="#ff4d00"/><stop offset=".660" stop-color="#ff8000"/><stop offset=".676" stop-color="#ffad00"/><stop offset=".700" stop-color="#fff400"/><stop offset=".704" stop-color="#fffe00"/><stop offset=".756" stop-color="#53ffac"/><stop offset=".776" stop-color="#00ffff"/><stop offset=".800" stop-color="#0072ff"/><stop offset=".812" stop-color="#000eff"/><stop offset=".816" stop-color="#0000eb"/><stop offset=".828" stop-color="#000080"/><stop offset=".840" stop-color="#000080"/></linearGradient><linearGradient id="h39" gradientUnits="userSpaceOnUse" x1="0" y1="167.50" x2="0" y2="455.00"><stop offset=".000" stop-color="#00c7ff"/><stop offset=".024" stop-color="#00d8ff"/><stop offset=".044" stop-color="#02fffd"/><stop offset=".052" stop-color="#10ffef"/><stop offset=".152" stop-color="#34ffcb"/><stop offset=".224" stop-color="#87ff78"/><stop offset=".316" stop-color="#eaff15"/><stop offset=".340" stop-color="#ffff00"/><stop offset=".364" stop-color="#ffe200"/><stop offset=".404" stop-color="#ffab00"/><stop offset=".460" stop-color="#ff7c00"/><stop offset=".540" stop-color="#ff5700"/><stop offset=".624" stop-color="#ff4c00"/><stop offset=".664" stop-color="#ff8800"/><stop offset=".696" stop-color="#ffe800"/><stop offset=".704" stop-color="#fffd00"/><stop offset=".740" stop-color="#8bff74"/><stop offset=".760" stop-color="#43ffbc"/><stop offset=".776" stop-color="#01fffe"/><stop offset=".792" stop-color="#00a4ff"/><stop offset=".800" stop-color="#0073ff"/><stop offset=".812" stop-color="#0010ff"/><stop offset=".816" stop-color="#0000ed"/><stop offset=".828" stop-color="#000080"/><stop offset=".840" stop-color="#000080"/></linearGradient><linearGradient id="h40" gradientUnits="userSpaceOnUse" x1="0" y1="167.50" x2="0" y2="455.00"><stop offset=".000" stop-color="#1affe5"/><stop offset=".152" stop-color="#5cffa3"/><stop offset=".208" stop-color="#80ff7f"/><stop offset=".296" stop-color="#d7ff28"/><stop offset=".344" stop-color="#ffff00"/><stop offset=".376" stop-color="#ffd400"/><stop offset=".404" stop-color="#ffad00"/><stop offset=".460" stop-color="#ff7d00"/><stop offset=".536" stop-color="#ff5900"/><stop offset=".624" stop-color="#ff4a00"/><stop offset=".664" stop-color="#ff8700"/><stop offset=".692" stop-color="#ffdc00"/><stop offset=".704" stop-color="#fffc00"/><stop offset=".712" stop-color="#e9ff16"/><stop offset=".760" stop-color="#45ffba"/><stop offset=".776" stop-color="#02fffd"/><stop offset=".784" stop-color="#00d4ff"/><stop offset=".800" stop-color="#0074ff"/><stop offset=".812" stop-color="#0011ff"/><stop offset=".816" stop-color="#0000ef"/><stop offset=".820" stop-color="#0000ce"/><stop offset=".828" stop-color="#000080"/><stop offset=".840" stop-color="#000080"/></linearGradient><linearGradient id="h41" gradientUnits="userSpaceOnUse" x1="0" y1="167.50" x2="0" y2="455.00"><stop offset=".000" stop-color="#01fffe"/><stop offset=".056" stop-color="#30ffcf"/><stop offset=".168" stop-color="#65ff9a"/><stop offset=".212" stop-color="#83ff7c"/><stop offset=".308" stop-color="#e1ff1e"/><stop offset=".352" stop-color="#fffc00"/><stop offset=".404" stop-color="#ffaf00"/><stop offset=".460" stop-color="#ff7f00"/><stop offset=".532" stop-color="#ff5b00"/><stop offset=".592" stop-color="#ff4d00"/><stop offset=".624" stop-color="#ff4700"/><stop offset=".664" stop-color="#ff8600"/><stop offset=".692" stop-color="#ffdb00"/><stop offset=".704" stop-color="#fffa00"/><stop offset=".708" stop-color="#f8ff07"/><stop offset=".760" stop-color="#46ffb9"/><stop offset=".776" stop-color="#03fffc"/><stop offset=".780" stop-color="#00eeff"/><stop offset=".800" stop-color="#0075ff"/><stop offset=".812" stop-color="#0013ff"/><stop offset=".816" stop-color="#0000f2"/><stop offset=".820" stop-color="#0000d1"/><stop offset=".828" stop-color="#000080"/><stop offset=".840" stop-color="#000080"/></linearGradient><linearGradient id="h42" gradientUnits="userSpaceOnUse" x1="0" y1="167.50" x2="0" y2="455.00"><stop offset=".000" stop-color="#00faff"/><stop offset=".016" stop-color="#0bfff4"/><stop offset=".056" stop-color="#30ffcf"/><stop offset=".168" stop-color="#65ff9a"/><stop offset=".212" stop-color="#83ff7c"/><stop offset=".312" stop-color="#e4ff1b"/><stop offset=".348" stop-color="#feff01"/><stop offset=".404" stop-color="#ffaf00"/><stop offset=".460" stop-color="#ff7f00"/><stop offset=".532" stop-color="#ff5b00"/><stop offset=".592" stop-color="#ff4d00"/><stop offset=".624" stop-color="#ff4700"/><stop offset=".664" stop-color="#ff8500"/><stop offset=".692" stop-color="#ffdb00"/><stop offset=".704" stop-color="#fff900"/><stop offset=".708" stop-color="#f9ff06"/><stop offset=".760" stop-color="#47ffb8"/><stop offset=".776" stop-color="#04fffb"/><stop offset=".780" stop-color="#00efff"/><stop offset=".800" stop-color="#0076ff"/><stop offset=".812" stop-color="#0014ff"/><stop offset=".816" stop-color="#0000f2"/><stop offset=".820" stop-color="#0000d2"/><stop offset=".828" stop-color="#000080"/><stop offset=".840" stop-color="#000080"/></linearGradient><linearGradient id="h43" gradientUnits="userSpaceOnUse" x1="0" y1="167.50" x2="0" y2="455.00"><stop offset=".000" stop-color="#2effd1"/><stop offset=".072" stop-color="#55ffaa"/><stop offset=".176" stop-color="#7cff83"/><stop offset=".212" stop-color="#91ff6e"/><stop offset=".348" stop-color="#fffe00"/><stop offset=".404" stop-color="#ffb000"/><stop offset=".460" stop-color="#ff8000"/><stop offset=".536" stop-color="#ff5a00"/><stop offset=".624" stop-color="#ff4800"/><stop offset=".664" stop-color="#ff8400"/><stop offset=".692" stop-color="#ffda00"/><stop offset=".704" stop-color="#fff800"/><stop offset=".708" stop-color="#fbff04"/><stop offset=".760" stop-color="#49ffb6"/><stop offset=".776" stop-color="#06fff9"/><stop offset=".780" stop-color="#00f1ff"/><stop offset=".800" stop-color="#0078ff"/><stop offset=".812" stop-color="#0016ff"/><stop offset=".816" stop-color="#0000f4"/><stop offset=".820" stop-color="#0000d3"/><stop offset=".828" stop-color="#000083"/><stop offset=".840" stop-color="#000080"/></linearGradient><linearGradient id="h44" gradientUnits="userSpaceOnUse" x1="0" y1="167.50" x2="0" y2="455.00"><stop offset=".000" stop-color="#80ff80"/><stop offset=".072" stop-color="#82ff7d"/><stop offset=".108" stop-color="#82ff7d"/><stop offset=".172" stop-color="#99ff66"/><stop offset=".264" stop-color="#c4ff3b"/><stop offset=".348" stop-color="#fffd00"/><stop offset=".404" stop-color="#ffb000"/><stop offset=".460" stop-color="#ff8000"/><stop offset=".540" stop-color="#ff5900"/><stop offset=".624" stop-color="#ff4800"/><stop offset=".664" stop-color="#ff8400"/><stop offset=".696" stop-color="#ffe300"/><stop offset=".708" stop-color="#fcff03"/><stop offset=".760" stop-color="#4affb5"/><stop offset=".776" stop-color="#07fff8"/><stop offset=".780" stop-color="#00f2ff"/><stop offset=".800" stop-color="#0079ff"/><stop offset=".812" stop-color="#0017ff"/><stop offset=".816" stop-color="#0000f5"/><stop offset=".820" stop-color="#0000d4"/><stop offset=".828" stop-color="#000084"/><stop offset=".836" stop-color="#000080"/><stop offset=".840" stop-color="#000080"/></linearGradient><linearGradient id="h45" gradientUnits="userSpaceOnUse" x1="0" y1="167.50" x2="0" y2="455.00"><stop offset=".000" stop-color="#80ff80"/><stop offset=".072" stop-color="#8bff74"/><stop offset=".212" stop-color="#b0ff4f"/><stop offset=".300" stop-color="#dbff24"/><stop offset=".344" stop-color="#fffd00"/><stop offset=".408" stop-color="#ffae00"/><stop offset=".460" stop-color="#ff8200"/><stop offset=".548" stop-color="#ff5600"/><stop offset=".624" stop-color="#ff4800"/><stop offset=".660" stop-color="#ff7900"/><stop offset=".676" stop-color="#ffa500"/><stop offset=".696" stop-color="#ffe100"/><stop offset=".708" stop-color="#ffff00"/><stop offset=".756" stop-color="#5fffa0"/><stop offset=".776" stop-color="#0bfff4"/><stop offset=".780" stop-color="#00f6ff"/><stop offset=".800" stop-color="#007dff"/><stop offset=".812" stop-color="#001bff"/><stop offset=".816" stop-color="#0000f8"/><stop offset=".824" stop-color="#0000b0"/><stop offset=".828" stop-color="#000089"/><stop offset=".832" stop-color="#000080"/><stop offset=".840" stop-color="#000080"/></linearGradient><linearGradient id="h46" gradientUnits="userSpaceOnUse" x1="0" y1="167.50" x2="0" y2="455.00"><stop offset=".000" stop-color="#57ffa8"/><stop offset=".056" stop-color="#82ff7d"/><stop offset=".116" stop-color="#97ff68"/><stop offset=".216" stop-color="#b2ff4d"/><stop offset=".300" stop-color="#dbff24"/><stop offset=".344" stop-color="#fffc00"/><stop offset=".408" stop-color="#ffae00"/><stop offset=".460" stop-color="#ff8200"/><stop offset=".548" stop-color="#ff5600"/><stop offset=".624" stop-color="#ff4800"/><stop offset=".652" stop-color="#ff6d00"/><stop offset=".664" stop-color="#ff8100"/><stop offset=".696" stop-color="#ffe000"/><stop offset=".708" stop-color="#fffe00"/><stop offset=".732" stop-color="#b2ff4d"/><stop offset=".760" stop-color="#50ffaf"/><stop offset=".776" stop-color="#0cfff3"/><stop offset=".780" stop-color="#00f7ff"/><stop offset=".800" stop-color="#007eff"/><stop offset=".812" stop-color="#001cff"/><stop offset=".816" stop-color="#0000f9"/><stop offset=".824" stop-color="#0000b1"/><stop offset=".828" stop-color="#00008a"/><stop offset=".832" stop-color="#000080"/><stop offset=".840" stop-color="#000080"/></linearGradient><linearGradient id="h47" gradientUnits="userSpaceOnUse" x1="0" y1="167.50" x2="0" y2="455.00"><stop offset=".000" stop-color="#80ff80"/><stop offset=".072" stop-color="#8bff74"/><stop offset=".212" stop-color="#b0ff4f"/><stop offset=".300" stop-color="#dbff24"/><stop offset=".340" stop-color="#ffff00"/><stop offset=".396" stop-color="#ffbb00"/><stop offset=".456" stop-color="#ff8500"/><stop offset=".548" stop-color="#ff5600"/><stop offset=".624" stop-color="#ff4800"/><stop offset=".644" stop-color="#ff6100"/><stop offset=".664" stop-color="#ff8000"/><stop offset=".696" stop-color="#ffe000"/><stop offset=".708" stop-color="#fffd00"/><stop offset=".724" stop-color="#ceff31"/><stop offset=".760" stop-color="#51ffae"/><stop offset=".776" stop-color="#0dfff2"/><stop offset=".780" stop-color="#00f8ff"/><stop offset=".800" stop-color="#007fff"/><stop offset=".812" stop-color="#001dff"/><stop offset=".816" stop-color="#0000fa"/><stop offset=".824" stop-color="#0000b2"/><stop offset=".828" stop-color="#00008c"/><stop offset=".832" stop-color="#000080"/><stop offset=".840" stop-color="#000080"/></linearGradient><linearGradient id="h48" gradientUnits="userSpaceOnUse" x1="0" y1="167.50" x2="0" y2="455.00"><stop offset=".000" stop-color="#80ff80"/><stop offset=".072" stop-color="#8bff74"/><stop offset=".212" stop-color="#b0ff4f"/><stop offset=".300" stop-color="#dbff24"/><stop offset=".336" stop-color="#ffff00"/><stop offset=".420" stop-color="#ffa500"/><stop offset=".460" stop-color="#ff8400"/><stop offset=".552" stop-color="#ff5600"/><stop offset=".624" stop-color="#ff4800"/><stop offset=".636" stop-color="#ff5300"/><stop offset=".664" stop-color="#ff7e00"/><stop offset=".676" stop-color="#ff9f00"/><stop offset=".696" stop-color="#ffdd00"/><stop offset=".708" stop-color="#fff900"/><stop offset=".716" stop-color="#efff10"/><stop offset=".764" stop-color="#47ffb8"/><stop offset=".780" stop-color="#00fdff"/><stop offset=".792" stop-color="#00b7ff"/><stop offset=".804" stop-color="#0066ff"/><stop offset=".816" stop-color="#0000fe"/><stop offset=".828" stop-color="#000091"/><stop offset=".832" stop-color="#000080"/><stop offset=".840" stop-color="#000080"/></linearGradient><linearGradient id="h49" gradientUnits="userSpaceOnUse" x1="0" y1="167.50" x2="0" y2="455.00"><stop offset=".000" stop-color="#57ffa8"/><stop offset=".056" stop-color="#82ff7d"/><stop offset=".116" stop-color="#97ff68"/><stop offset=".216" stop-color="#b2ff4d"/><stop offset=".300" stop-color="#dbff24"/><stop offset=".336" stop-color="#fffe00"/><stop offset=".424" stop-color="#ffa300"/><stop offset=".464" stop-color="#ff8300"/><stop offset=".556" stop-color="#ff5500"/><stop offset=".628" stop-color="#ff4a00"/><stop offset=".640" stop-color="#ff5800"/><stop offset=".668" stop-color="#ff8500"/><stop offset=".696" stop-color="#ffdb00"/><stop offset=".712" stop-color="#fdff02"/><stop offset=".740" stop-color="#a0ff5f"/><stop offset=".764" stop-color="#4affb5"/><stop offset=".780" stop-color="#01fffe"/><stop offset=".788" stop-color="#00d4ff"/><stop offset=".804" stop-color="#0069ff"/><stop offset=".816" stop-color="#0001ff"/><stop offset=".828" stop-color="#000095"/><stop offset=".832" stop-color="#000080"/><stop offset=".840" stop-color="#000080"/></linearGradient><linearGradient id="h50" gradientUnits="userSpaceOnUse" x1="0" y1="167.50" x2="0" y2="455.00"><stop offset=".000" stop-color="#75ff8a"/><stop offset=".228" stop-color="#bcff43"/><stop offset=".304" stop-color="#e0ff1f"/><stop offset=".336" stop-color="#fffc00"/><stop offset=".440" stop-color="#ff9500"/><stop offset=".508" stop-color="#ff6b00"/><stop offset=".568" stop-color="#ff5300"/><stop offset=".628" stop-color="#ff4a00"/><stop offset=".636" stop-color="#ff5100"/><stop offset=".668" stop-color="#ff8300"/><stop offset=".696" stop-color="#ffda00"/><stop offset=".712" stop-color="#ffff00"/><stop offset=".728" stop-color="#ccff33"/><stop offset=".764" stop-color="#4dffb2"/><stop offset=".780" stop-color="#04fffb"/><stop offset=".784" stop-color="#00efff"/><stop offset=".804" stop-color="#006cff"/><stop offset=".816" stop-color="#0003ff"/><stop offset=".824" stop-color="#0000bc"/><stop offset=".828" stop-color="#000098"/><stop offset=".832" stop-color="#000080"/><stop offset=".840" stop-color="#000080"/></linearGradient><linearGradient id="h51" gradientUnits="userSpaceOnUse" x1="0" y1="167.50" x2="0" y2="455.00"><stop offset=".000" stop-color="#80ff80"/><stop offset=".072" stop-color="#93ff6c"/><stop offset=".280" stop-color="#ddff22"/><stop offset=".308" stop-color="#edff12"/><stop offset=".332" stop-color="#fffc00"/><stop offset=".456" stop-color="#ff8900"/><stop offset=".556" stop-color="#ff5600"/><stop offset=".628" stop-color="#ff4a00"/><stop offset=".636" stop-color="#ff5100"/><stop offset=".668" stop-color="#ff8300"/><stop offset=".696" stop-color="#ffda00"/><stop offset=".712" stop-color="#ffff00"/><stop offset=".724" stop-color="#daff25"/><stop offset=".764" stop-color="#4dffb2"/><stop offset=".780" stop-color="#04fffb"/><stop offset=".784" stop-color="#00efff"/><stop offset=".804" stop-color="#006cff"/><stop offset=".816" stop-color="#0004ff"/><stop offset=".824" stop-color="#0000bc"/><stop offset=".828" stop-color="#000098"/><stop offset=".832" stop-color="#000080"/><stop offset=".840" stop-color="#000080"/></linearGradient><linearGradient id="h52" gradientUnits="userSpaceOnUse" x1="0" y1="167.50" x2="0" y2="455.00"><stop offset=".000" stop-color="#80ff80"/><stop offset=".072" stop-color="#93ff6c"/><stop offset=".280" stop-color="#ddff22"/><stop offset=".308" stop-color="#edff12"/><stop offset=".328" stop-color="#fffe00"/><stop offset=".456" stop-color="#ff8a00"/><stop offset=".560" stop-color="#ff5600"/><stop offset=".632" stop-color="#ff4900"/><stop offset=".668" stop-color="#ff7f00"/><stop offset=".696" stop-color="#ffd700"/><stop offset=".712" stop-color="#fffa00"/><stop offset=".716" stop-color="#fbff04"/><stop offset=".764" stop-color="#52ffad"/><stop offset=".780" stop-color="#09fff6"/><stop offset=".784" stop-color="#00f4ff"/><stop offset=".800" stop-color="#008dff"/><stop offset=".804" stop-color="#0071ff"/><stop offset=".816" stop-color="#0007ff"/><stop offset=".820" stop-color="#0000e3"/><stop offset=".828" stop-color="#00009d"/><stop offset=".832" stop-color="#000080"/><stop offset=".840" stop-color="#000080"/></linearGradient><linearGradient id="h53" gradientUnits="userSpaceOnUse" x1="0" y1="167.50" x2="0" y2="455.00"><stop offset=".000" stop-color="#80ff80"/><stop offset=".072" stop-color="#93ff6c"/><stop offset=".280" stop-color="#ddff22"/><stop offset=".304" stop-color="#eaff15"/><stop offset=".328" stop-color="#fffc00"/><stop offset=".456" stop-color="#ff8b00"/><stop offset=".560" stop-color="#ff5600"/><stop offset=".632" stop-color="#ff4700"/><stop offset=".668" stop-color="#ff7d00"/><stop offset=".684" stop-color="#ffaf00"/><stop offset=".696" stop-color="#ffd500"/><stop offset=".716" stop-color="#ffff00"/><stop offset=".764" stop-color="#57ffa8"/><stop offset=".780" stop-color="#0dfff2"/><stop offset=".784" stop-color="#00f9ff"/><stop offset=".796" stop-color="#00acff"/><stop offset=".804" stop-color="#0075ff"/><stop offset=".816" stop-color="#000aff"/><stop offset=".820" stop-color="#0000e6"/><stop offset=".832" stop-color="#000080"/><stop offset=".840" stop-color="#000080"/></linearGradient><linearGradient id="h54" gradientUnits="userSpaceOnUse" x1="0" y1="167.50" x2="0" y2="455.00"><stop offset=".000" stop-color="#80ff80"/><stop offset=".072" stop-color="#93ff6c"/><stop offset=".280" stop-color="#ddff22"/><stop offset=".304" stop-color="#eaff15"/><stop offset=".328" stop-color="#fffc00"/><stop offset=".456" stop-color="#ff8b00"/><stop offset=".560" stop-color="#ff5600"/><stop offset=".632" stop-color="#ff4700"/><stop offset=".668" stop-color="#ff7d00"/><stop offset=".684" stop-color="#ffaf00"/><stop offset=".696" stop-color="#ffd500"/><stop offset=".716" stop-color="#ffff00"/><stop offset=".764" stop-color="#57ffa8"/><stop offset=".780" stop-color="#0dfff2"/><stop offset=".784" stop-color="#00f9ff"/><stop offset=".796" stop-color="#00acff"/><stop offset=".804" stop-color="#0075ff"/><stop offset=".816" stop-color="#000aff"/><stop offset=".820" stop-color="#0000e6"/><stop offset=".832" stop-color="#000080"/><stop offset=".840" stop-color="#000080"/></linearGradient><linearGradient id="h55" gradientUnits="userSpaceOnUse" x1="0" y1="167.50" x2="0" y2="455.00"><stop offset=".000" stop-color="#80ff80"/><stop offset=".072" stop-color="#93ff6c"/><stop offset=".280" stop-color="#ddff22"/><stop offset=".304" stop-color="#eaff15"/><stop offset=".328" stop-color="#fffc00"/><stop offset=".456" stop-color="#ff8b00"/><stop offset=".560" stop-color="#ff5600"/><stop offset=".632" stop-color="#ff4700"/><stop offset=".668" stop-color="#ff7d00"/><stop offset=".684" stop-color="#ffaf00"/><stop offset=".696" stop-color="#ffd500"/><stop offset=".716" stop-color="#ffff00"/><stop offset=".764" stop-color="#57ffa8"/><stop offset=".780" stop-color="#0dfff2"/><stop offset=".784" stop-color="#00f9ff"/><stop offset=".796" stop-color="#00acff"/><stop offset=".804" stop-color="#0075ff"/><stop offset=".816" stop-color="#000aff"/><stop offset=".820" stop-color="#0000e6"/><stop offset=".832" stop-color="#000080"/><stop offset=".840" stop-color="#000080"/></linearGradient><linearGradient id="h56" gradientUnits="userSpaceOnUse" x1="0" y1="167.50" x2="0" y2="455.00"><stop offset=".000" stop-color="#80ff80"/><stop offset=".072" stop-color="#93ff6c"/><stop offset=".280" stop-color="#ddff22"/><stop offset=".304" stop-color="#eaff15"/><stop offset=".328" stop-color="#fffc00"/><stop offset=".456" stop-color="#ff8b00"/><stop offset=".560" stop-color="#ff5600"/><stop offset=".632" stop-color="#ff4700"/><stop offset=".668" stop-color="#ff7d00"/><stop offset=".684" stop-color="#ffaf00"/><stop offset=".696" stop-color="#ffd500"/><stop offset=".716" stop-color="#ffff00"/><stop offset=".764" stop-color="#57ffa8"/><stop offset=".780" stop-color="#0dfff2"/><stop offset=".784" stop-color="#00f9ff"/><stop offset=".796" stop-color="#00acff"/><stop offset=".804" stop-color="#0075ff"/><stop offset=".816" stop-color="#000aff"/><stop offset=".820" stop-color="#0000e6"/><stop offset=".832" stop-color="#000080"/><stop offset=".840" stop-color="#000080"/></linearGradient><linearGradient id="cb" x1="0" y1="0" x2="0" y2="1"><stop offset="0.0000" stop-color="#800000"/><stop offset="0.0208" stop-color="#960000"/><stop offset="0.0417" stop-color="#ad0000"/><stop offset="0.0625" stop-color="#c40000"/><stop offset="0.0833" stop-color="#df0000"/><stop offset="0.1042" stop-color="#f60b00"/><stop offset="0.1250" stop-color="#ff1e00"/><stop offset="0.1458" stop-color="#ff3400"/><stop offset="0.1667" stop-color="#ff4700"/><stop offset="0.1875" stop-color="#ff5900"/><stop offset="0.2083" stop-color="#ff6f00"/><stop offset="0.2292" stop-color="#ff8200"/><stop offset="0.2500" stop-color="#ff9400"/><stop offset="0.2708" stop-color="#ffab00"/><stop offset="0.2917" stop-color="#ffbd00"/><stop offset="0.3125" stop-color="#ffd000"/><stop offset="0.3333" stop-color="#ffe600"/><stop offset="0.3542" stop-color="#f4f802"/><stop offset="0.3750" stop-color="#e4ff13"/><stop offset="0.3958" stop-color="#d1ff26"/><stop offset="0.4167" stop-color="#c1ff36"/><stop offset="0.4375" stop-color="#b1ff46"/><stop offset="0.4583" stop-color="#9dff5a"/><stop offset="0.4792" stop-color="#8dff6a"/><stop offset="0.5000" stop-color="#7dff7a"/><stop offset="0.5208" stop-color="#6aff8d"/><stop offset="0.5417" stop-color="#5aff9d"/><stop offset="0.5625" stop-color="#49ffad"/><stop offset="0.5833" stop-color="#36ffc1"/><stop offset="0.6042" stop-color="#26ffd1"/><stop offset="0.6250" stop-color="#16ffe1"/><stop offset="0.6458" stop-color="#02e8f4"/><stop offset="0.6667" stop-color="#00d4ff"/><stop offset="0.6875" stop-color="#00c0ff"/><stop offset="0.7083" stop-color="#00a8ff"/><stop offset="0.7292" stop-color="#0094ff"/><stop offset="0.7500" stop-color="#0080ff"/><stop offset="0.7708" stop-color="#0068ff"/><stop offset="0.7917" stop-color="#0054ff"/><stop offset="0.8125" stop-color="#0040ff"/><stop offset="0.8333" stop-color="#0028ff"/><stop offset="0.8542" stop-color="#0014ff"/><stop offset="0.8750" stop-color="#0000ff"/><stop offset="0.8958" stop-color="#0000f6"/><stop offset="0.9167" stop-color="#0000df"/><stop offset="0.9375" stop-color="#0000c8"/><stop offset="0.9583" stop-color="#0000ad"/><stop offset="0.9792" stop-color="#000096"/><stop offset="1.0000" stop-color="#000080"/></linearGradient></defs>
<rect x="0" y="0" width="2000" height="1100" fill="#fff"/>
<text x="1000.20" y="40.75" font-size="24.00" text-anchor="middle" fill="#000" letter-spacing="0.1">BAS-RBM Relativistic Electron Forecast, issued at 23:10 UT, 14 February 2019</text>
<rect x="200.00" y="110.00" width="714.00" height="345.00" fill="#d3d3d3"/>
<rect x="200" y="167.50" width="18.5" height="287.50" fill="url(#h0)"/>
<rect x="200" y="167.50" width="18" height="287.50" fill="url(#h1)" mask="url(#mk)"/>
<rect x="218" y="167.50" width="18.5" height="287.50" fill="url(#h1)"/>
<rect x="218" y="167.50" width="18" height="287.50" fill="url(#h2)" mask="url(#mk)"/>
<rect x="236" y="167.50" width="18.5" height="287.50" fill="url(#h2)"/>
<rect x="236" y="167.50" width="18" height="287.50" fill="url(#h3)" mask="url(#mk)"/>
<rect x="254" y="167.50" width="24.5" height="287.50" fill="url(#h3)"/>
<rect x="254" y="167.50" width="24" height="287.50" fill="url(#h4)" mask="url(#mk)"/>
<rect x="278" y="167.50" width="1.5" height="287.50" fill="url(#h4)"/>
<rect x="278" y="167.50" width="1" height="287.50" fill="url(#h5)" mask="url(#mk)"/>
<rect x="279" y="167.50" width="10.5" height="287.50" fill="url(#h5)"/>
<rect x="279" y="167.50" width="10" height="287.50" fill="url(#h6)" mask="url(#mk)"/>
<rect x="289" y="167.50" width="7.5" height="287.50" fill="url(#h6)"/>
<rect x="289" y="167.50" width="7" height="287.50" fill="url(#h7)" mask="url(#mk)"/>
<rect x="296" y="167.50" width="24.5" height="287.50" fill="url(#h7)"/>
<rect x="296" y="167.50" width="24" height="287.50" fill="url(#h8)" mask="url(#mk)"/>
<rect x="320" y="167.50" width="15.5" height="287.50" fill="url(#h8)"/>
<rect x="320" y="167.50" width="15" height="287.50" fill="url(#h9)" mask="url(#mk)"/>
<rect x="335" y="167.50" width="15.5" height="287.50" fill="url(#h9)"/>
<rect x="335" y="167.50" width="15" height="287.50" fill="url(#h10)" mask="url(#mk)"/>
<rect x="350" y="167.50" width="12.5" height="287.50" fill="url(#h10)"/>
<rect x="350" y="167.50" width="12" height="287.50" fill="url(#h11)" mask="url(#mk)"/>
<rect x="362" y="167.50" width="12.5" height="287.50" fill="url(#h11)"/>
<rect x="362" y="167.50" width="12" height="287.50" fill="url(#h12)" mask="url(#mk)"/>
<rect x="374" y="167.50" width="6.5" height="287.50" fill="url(#h12)"/>
<rect x="374" y="167.50" width="6" height="287.50" fill="url(#h13)" mask="url(#mk)"/>
<rect x="380" y="167.50" width="12.5" height="287.50" fill="url(#h13)"/>
<rect x="380" y="167.50" width="12" height="287.50" fill="url(#h14)" mask="url(#mk)"/>
<rect x="392" y="167.50" width="16.5" height="287.50" fill="url(#h14)"/>
<rect x="392" y="167.50" width="16" height="287.50" fill="url(#h15)" mask="url(#mk)"/>
<rect x="408" y="167.50" width="16.5" height="287.50" fill="url(#h15)"/>
<rect x="408" y="167.50" width="16" height="287.50" fill="url(#h16)" mask="url(#mk)"/>
<rect x="424" y="167.50" width="16.5" height="287.50" fill="url(#h16)"/>
<rect x="424" y="167.50" width="16" height="287.50" fill="url(#h17)" mask="url(#mk)"/>
<rect x="440" y="167.50" width="20.5" height="287.50" fill="url(#h17)"/>
<rect x="440" y="167.50" width="20" height="287.50" fill="url(#h18)" mask="url(#mk)"/>
<rect x="460" y="167.50" width="19.5" height="287.50" fill="url(#h18)"/>
<rect x="460" y="167.50" width="19" height="287.50" fill="url(#h19)" mask="url(#mk)"/>
<rect x="479" y="167.50" width="19.5" height="287.50" fill="url(#h19)"/>
<rect x="479" y="167.50" width="19" height="287.50" fill="url(#h20)" mask="url(#mk)"/>
<rect x="498" y="167.50" width="20.5" height="287.50" fill="url(#h20)"/>
<rect x="498" y="167.50" width="20" height="287.50" fill="url(#h21)" mask="url(#mk)"/>
<rect x="518" y="167.50" width="12.5" height="287.50" fill="url(#h21)"/>
<rect x="518" y="167.50" width="12" height="287.50" fill="url(#h22)" mask="url(#mk)"/>
<rect x="530" y="167.50" width="12.5" height="287.50" fill="url(#h22)"/>
<rect x="530" y="167.50" width="12" height="287.50" fill="url(#h23)" mask="url(#mk)"/>
<rect x="542" y="167.50" width="12.5" height="287.50" fill="url(#h23)"/>
<rect x="542" y="167.50" width="12" height="287.50" fill="url(#h24)" mask="url(#mk)"/>
<rect x="554" y="167.50" width="18.5" height="287.50" fill="url(#h24)"/>
<rect x="554" y="167.50" width="18" height="287.50" fill="url(#h25)" mask="url(#mk)"/>
<rect x="572" y="167.50" width="1.5" height="287.50" fill="url(#h25)"/>
<rect x="572" y="167.50" width="1" height="287.50" fill="url(#h26)" mask="url(#mk)"/>
<rect x="573" y="167.50" width="11.5" height="287.50" fill="url(#h26)"/>
<rect x="573" y="167.50" width="11" height="287.50" fill="url(#h27)" mask="url(#mk)"/>
<rect x="584" y="167.50" width="12.5" height="287.50" fill="url(#h27)"/>
<rect x="584" y="167.50" width="12" height="287.50" fill="url(#h28)" mask="url(#mk)"/>
<rect x="596" y="167.50" width="6.5" height="287.50" fill="url(#h28)"/>
<rect x="596" y="167.50" width="6" height="287.50" fill="url(#h29)" mask="url(#mk)"/>
<rect x="602" y="167.50" width="15.5" height="287.50" fill="url(#h29)"/>
<rect x="602" y="167.50" width="15" height="287.50" fill="url(#h30)" mask="url(#mk)"/>
<rect x="617" y="167.50" width="15.5" height="287.50" fill="url(#h30)"/>
<rect x="617" y="167.50" width="15" height="287.50" fill="url(#h31)" mask="url(#mk)"/>
<rect x="632" y="167.50" width="12.5" height="287.50" fill="url(#h31)"/>
<rect x="632" y="167.50" width="12" height="287.50" fill="url(#h32)" mask="url(#mk)"/>
<rect x="644" y="167.50" width="14.5" height="287.50" fill="url(#h32)"/>
<rect x="644" y="167.50" width="14" height="287.50" fill="url(#h33)" mask="url(#mk)"/>
<rect x="658" y="167.50" width="14.5" height="287.50" fill="url(#h33)"/>
<rect x="658" y="167.50" width="14" height="287.50" fill="url(#h34)" mask="url(#mk)"/>
<rect x="672" y="167.50" width="10.5" height="287.50" fill="url(#h34)"/>
<rect x="672" y="167.50" width="10" height="287.50" fill="url(#h35)" mask="url(#mk)"/>
<rect x="682" y="167.50" width="7.5" height="287.50" fill="url(#h35)"/>
<rect x="682" y="167.50" width="7" height="287.50" fill="url(#h36)" mask="url(#mk)"/>
<rect x="689" y="167.50" width="6.5" height="287.50" fill="url(#h36)"/>
<rect x="689" y="167.50" width="6" height="287.50" fill="url(#h37)" mask="url(#mk)"/>
<rect x="695" y="167.50" width="10.5" height="287.50" fill="url(#h37)"/>
<rect x="695" y="167.50" width="10" height="287.50" fill="url(#h38)" mask="url(#mk)"/>
<rect x="705" y="167.50" width="8.5" height="287.50" fill="url(#h38)"/>
<rect x="705" y="167.50" width="8" height="287.50" fill="url(#h39)" mask="url(#mk)"/>
<rect x="713" y="167.50" width="10.5" height="287.50" fill="url(#h39)"/>
<rect x="713" y="167.50" width="10" height="287.50" fill="url(#h40)" mask="url(#mk)"/>
<rect x="723" y="167.50" width="12.5" height="287.50" fill="url(#h40)"/>
<rect x="723" y="167.50" width="12" height="287.50" fill="url(#h41)" mask="url(#mk)"/>
<rect x="735" y="167.50" width="3.5" height="287.50" fill="url(#h41)"/>
<rect x="735" y="167.50" width="3" height="287.50" fill="url(#h42)" mask="url(#mk)"/>
<rect x="738" y="167.50" width="9.5" height="287.50" fill="url(#h42)"/>
<rect x="738" y="167.50" width="9" height="287.50" fill="url(#h43)" mask="url(#mk)"/>
<rect x="747" y="167.50" width="6.5" height="287.50" fill="url(#h43)"/>
<rect x="747" y="167.50" width="6" height="287.50" fill="url(#h44)" mask="url(#mk)"/>
<rect x="753" y="167.50" width="18.5" height="287.50" fill="url(#h44)"/>
<rect x="753" y="167.50" width="18" height="287.50" fill="url(#h45)" mask="url(#mk)"/>
<rect x="771" y="167.50" width="4.5" height="287.50" fill="url(#h45)"/>
<rect x="771" y="167.50" width="4" height="287.50" fill="url(#h46)" mask="url(#mk)"/>
<rect x="775" y="167.50" width="5.5" height="287.50" fill="url(#h46)"/>
<rect x="775" y="167.50" width="5" height="287.50" fill="url(#h47)" mask="url(#mk)"/>
<rect x="780" y="167.50" width="21.5" height="287.50" fill="url(#h47)"/>
<rect x="780" y="167.50" width="21" height="287.50" fill="url(#h48)" mask="url(#mk)"/>
<rect x="801" y="167.50" width="12.5" height="287.50" fill="url(#h48)"/>
<rect x="801" y="167.50" width="12" height="287.50" fill="url(#h49)" mask="url(#mk)"/>
<rect x="813" y="167.50" width="11.5" height="287.50" fill="url(#h49)"/>
<rect x="813" y="167.50" width="11" height="287.50" fill="url(#h50)" mask="url(#mk)"/>
<rect x="824" y="167.50" width="2.5" height="287.50" fill="url(#h50)"/>
<rect x="824" y="167.50" width="2" height="287.50" fill="url(#h51)" mask="url(#mk)"/>
<rect x="826" y="167.50" width="18.5" height="287.50" fill="url(#h51)"/>
<rect x="826" y="167.50" width="18" height="287.50" fill="url(#h52)" mask="url(#mk)"/>
<rect x="844" y="167.50" width="17.5" height="287.50" fill="url(#h52)"/>
<rect x="844" y="167.50" width="17" height="287.50" fill="url(#h53)" mask="url(#mk)"/>
<rect x="861" y="167.50" width="18.5" height="287.50" fill="url(#h53)"/>
<rect x="861" y="167.50" width="18" height="287.50" fill="url(#h54)" mask="url(#mk)"/>
<rect x="879" y="167.50" width="17.5" height="287.50" fill="url(#h54)"/>
<rect x="879" y="167.50" width="17" height="287.50" fill="url(#h55)" mask="url(#mk)"/>
<rect x="896" y="167.50" width="18.5" height="287.50" fill="url(#h55)"/>
<rect x="896" y="167.50" width="18" height="287.50" fill="url(#h56)" mask="url(#mk)"/>
<path d="M200.0,234.3 L201.0,233.6 L202.0,232.6 L203.0,231.2 L204.0,229.6 L205.0,228.0 L206.0,226.6 L207.0,225.5 L208.0,224.7 L209.0,224.1 L210.0,223.5 L211.0,222.9 L212.0,222.4 L213.0,222.0 L214.0,221.5 L215.0,221.1 L216.0,220.5 L217.0,219.6 L218.0,218.2 L219.0,216.6 L220.0,214.7 L221.0,212.8 L222.0,210.8 L223.0,208.8 L224.0,206.8 L225.0,205.3 L226.0,204.3 L227.0,203.8 L228.0,203.7 L229.0,203.9 L230.0,204.2 L231.0,204.6 L232.0,205.1 L233.0,205.5 L234.0,205.9 L235.0,206.2 L236.0,206.2 L237.0,205.9 L238.0,205.4 L239.0,204.8 L240.0,204.2 L241.0,203.7 L242.0,203.5 L243.0,203.6 L244.0,204.2 L245.0,205.1 L246.0,206.4 L247.0,208.2 L248.0,210.3 L249.0,212.5 L250.0,214.6 L251.0,216.3 L252.0,217.7 L253.0,219.0 L254.0,220.1 L255.0,220.9 L256.0,221.4 L257.0,221.8 L258.0,222.1 L259.0,222.4 L260.0,222.7 L261.0,223.1 L262.0,223.7 L263.0,224.5 L264.0,225.6 L265.0,226.8 L266.0,228.0 L267.0,229.3 L268.0,230.5 L269.0,231.9 L270.0,233.1 L271.0,234.2 L272.0,235.0 L273.0,235.7 L274.0,236.2 L275.0,236.7 L276.0,237.0 L277.0,237.2 L278.0,237.4 L279.0,237.5 L280.0,237.6 L281.0,237.6 L282.0,237.5 L283.0,237.4 L284.0,237.2 L285.0,237.0 L286.0,236.8 L287.0,236.3 L288.0,235.7 L289.0,234.9 L290.0,234.0 L291.0,233.0 L292.0,231.7 L293.0,230.1 L294.0,228.5 L295.0,227.0 L296.0,225.8 L297.0,224.9 L298.0,224.2 L299.0,223.7 L300.0,223.1 L301.0,222.6 L302.0,222.1 L303.0,221.7 L304.0,221.2 L305.0,220.7 L306.0,219.9 L307.0,218.7 L308.0,217.1 L309.0,215.4 L310.0,213.5 L311.0,211.5 L312.0,209.5 L313.0,207.5 L314.0,205.8 L315.0,204.5 L316.0,203.9 L317.0,203.7 L318.0,203.8 L319.0,204.1 L320.0,204.5 L321.0,204.9 L322.0,205.4 L323.0,205.8 L324.0,206.2 L325.0,206.3 L326.0,206.1 L327.0,205.6 L328.0,205.0 L329.0,204.4 L330.0,203.9 L331.0,203.5 L332.0,203.5 L333.0,204.0 L334.0,204.8 L335.0,205.9 L336.0,207.5 L337.0,209.6 L338.0,211.8 L339.0,213.9 L340.0,215.7 L341.0,217.2 L342.0,218.6 L343.0,219.7 L344.0,220.7 L345.0,221.3 L346.0,221.7 L347.0,222.0 L348.0,222.3 L349.0,222.6 L350.0,222.9 L351.0,223.5 L352.0,224.2 L353.0,225.3 L354.0,226.4 L355.0,227.6 L356.0,228.8 L357.0,230.1 L358.0,231.4 L359.0,232.7 L360.0,233.8 L361.0,234.7 L362.0,235.5 L363.0,236.0 L364.0,236.6 L365.0,236.9 L366.0,237.2 L367.0,237.3 L368.0,237.5 L369.0,237.5 L370.0,237.6 L371.0,237.5 L372.0,237.4 L373.0,237.2 L374.0,237.1 L375.0,236.9 L376.0,236.5 L377.0,235.9 L378.0,235.2 L379.0,234.3 L380.0,233.3 L381.0,232.1 L382.0,230.7 L383.0,229.1 L384.0,227.5 L385.0,226.2 L386.0,225.2 L387.0,224.4 L388.0,223.9 L389.0,223.3 L390.0,222.8 L391.0,222.3 L392.0,221.8 L393.0,221.4 L394.0,220.9 L395.0,220.2 L396.0,219.1 L397.0,217.7 L398.0,216.0 L399.0,214.1 L400.0,212.2 L401.0,210.1 L402.0,208.1 L403.0,206.2 L404.0,204.8 L405.0,204.0 L406.0,203.7 L407.0,203.7 L408.0,204.0 L409.0,204.3 L410.0,204.8 L411.0,205.2 L412.0,205.7 L413.0,206.1 L414.0,206.3 L415.0,206.1 L416.0,205.8 L417.0,205.2 L418.0,204.6 L419.0,204.0 L420.0,203.6 L421.0,203.5 L422.0,203.8 L423.0,204.4 L424.0,205.5 L425.0,206.9 L426.0,208.8 L427.0,211.0 L428.0,213.2 L429.0,215.2 L430.0,216.8 L431.0,218.2 L432.0,219.4 L433.0,220.4 L434.0,221.1 L435.0,221.5 L436.0,221.9 L437.0,222.2 L438.0,222.5 L439.0,222.8 L440.0,223.3 L441.0,224.0 L442.0,224.9 L443.0,226.0 L444.0,227.2 L445.0,228.4 L446.0,229.7 L447.0,231.0 L448.0,232.3 L449.0,233.5 L450.0,234.5 L451.0,235.2 L452.0,235.9 L453.0,236.4 L454.0,236.8 L455.0,237.1 L456.0,237.3 L457.0,237.4 L458.0,237.5 L459.0,237.6 L460.0,237.5 L461.0,237.4 L462.0,237.3 L463.0,237.1 L464.0,236.9 L465.0,236.6 L466.0,236.1 L467.0,235.4 L468.0,234.6 L469.0,233.7 L470.0,232.6 L471.0,231.2 L472.0,229.6 L473.0,228.0 L474.0,226.6 L475.0,225.5 L476.0,224.7 L477.0,224.0 L478.0,223.5 L479.0,222.9 L480.0,222.4 L481.0,222.0 L482.0,221.5 L483.0,221.1 L484.0,220.5 L485.0,219.6 L486.0,218.2 L487.0,216.6 L488.0,214.7 L489.0,212.8 L490.0,210.8 L491.0,208.8 L492.0,206.8 L493.0,205.2 L494.0,204.3 L495.0,203.8 L496.0,203.7 L497.0,203.9 L498.0,204.2 L499.0,204.6 L500.0,205.1 L501.0,205.5 L502.0,206.0 L503.0,206.2 L504.0,206.2 L505.0,205.9 L506.0,205.4 L507.0,204.8 L508.0,204.2 L509.0,203.7 L510.0,203.5 L511.0,203.6 L512.0,204.2 L513.0,205.1 L514.0,206.4 L515.0,208.2 L516.0,210.3 L517.0,212.6 L518.0,214.6 L519.0,216.3 L520.0,217.7 L521.0,219.0 L522.0,220.1 L523.0,220.9 L524.0,221.4 L525.0,221.8 L526.0,222.1 L527.0,222.4 L528.0,222.7 L529.0,223.1 L530.0,223.7 L531.0,224.6 L532.0,225.6 L533.0,226.8 L534.0,228.0 L535.0,229.3 L536.0,230.6 L537.0,231.9 L538.0,233.1 L539.0,234.2 L540.0,235.0 L541.0,235.7 L542.0,236.2 L543.0,236.7 L544.0,237.0 L545.0,237.2 L546.0,237.4 L547.0,237.5 L548.0,237.6 L549.0,237.6 L550.0,237.5 L551.0,237.4 L552.0,237.2 L553.0,237.0 L554.0,236.8 L555.0,236.3 L556.0,235.7 L557.0,234.9 L558.0,234.0 L559.0,233.0 L560.0,231.6 L561.0,230.1 L562.0,228.5 L563.0,227.0 L564.0,225.8 L565.0,224.9 L566.0,224.2 L567.0,223.7 L568.0,223.1 L569.0,222.6 L570.0,222.1 L571.0,221.7 L572.0,221.2 L573.0,220.7 L574.0,219.9 L575.0,218.7 L576.0,217.1 L577.0,215.3 L578.0,213.5 L579.0,211.5 L580.0,209.4 L581.0,207.4 L582.0,205.7 L583.0,204.5 L584.0,203.9 L585.0,203.7 L586.0,203.8 L587.0,204.1 L588.0,204.5 L589.0,204.9 L590.0,205.4 L591.0,205.8 L592.0,206.2 L593.0,206.3 L594.0,206.1 L595.0,205.6 L596.0,205.0 L597.0,204.4 L598.0,203.9 L599.0,203.5 L600.0,203.5 L601.0,204.0 L602.0,204.8 L603.0,205.9 L604.0,207.6 L605.0,209.6 L606.0,211.8 L607.0,213.9 L608.0,215.7 L609.0,217.2 L610.0,218.6 L611.0,219.8 L612.0,220.7 L613.0,221.3 L614.0,221.7 L615.0,222.0 L616.0,222.3 L617.0,222.6 L618.0,222.9 L619.0,223.5 L620.0,224.3 L621.0,225.3 L622.0,226.4 L623.0,227.6 L624.0,228.8 L625.0,230.1 L626.0,231.4 L627.0,232.7 L628.0,233.9 L629.0,234.8 L630.0,235.5 L631.0,236.1 L632.0,236.6 L633.0,236.9 L634.0,237.2 L635.0,237.3 L636.0,237.5 L637.0,237.5 L638.0,237.6 L639.0,237.5 L640.0,237.4 L641.0,237.2 L642.0,237.1 L643.0,236.9 L644.0,236.5 L645.0,235.9 L646.0,235.2 L647.0,234.3 L648.0,233.3 L649.0,232.1 L650.0,230.6 L651.0,229.0 L652.0,227.5 L653.0,226.1 L654.0,225.2 L655.0,224.4 L656.0,223.9 L657.0,223.3 L658.0,222.8 L659.0,222.3 L660.0,221.8 L661.0,221.4 L662.0,220.9 L663.0,220.2 L664.0,219.1 L665.0,217.7 L666.0,215.9 L667.0,214.1 L668.0,212.2 L669.0,210.1 L670.0,208.1 L671.0,206.2 L672.0,204.8 L673.0,204.0 L674.0,203.7 L675.0,203.7 L676.0,204.0 L677.0,204.4 L678.0,204.8 L679.0,205.2 L680.0,205.7 L681.0,206.1 L682.0,206.3 L683.0,206.1 L684.0,205.8 L685.0,205.2 L686.0,204.6 L687.0,204.0 L688.0,203.6 L689.0,203.5 L690.0,203.8 L691.0,204.4 L692.0,205.5 L693.0,206.9 L694.0,208.9 L695.0,211.1 L696.0,213.3 L697.0,215.2 L698.0,216.8 L699.0,218.2 L700.0,219.4 L701.0,220.4 L702.0,221.1 L703.0,221.6 L704.0,221.9 L705.0,222.2 L706.0,222.5 L707.0,222.8 L708.0,223.3 L709.0,224.0 L710.0,224.9 L711.0,226.0 L712.0,227.2 L713.0,228.4 L714.0,229.7 L715.0,231.0 L716.0,232.3 L717.0,233.5 L718.0,234.5 L719.0,235.2 L720.0,235.9 L721.0,236.4 L722.0,236.8 L723.0,237.1 L724.0,237.3 L725.0,237.4 L726.0,237.5 L727.0,237.6 L728.0,237.5 L729.0,237.4 L730.0,237.3 L731.0,237.1 L732.0,236.9 L733.0,236.6 L734.0,236.1 L735.0,235.4 L736.0,234.6 L737.0,233.7 L738.0,232.6 L739.0,231.2 L740.0,229.6 L741.0,228.0 L742.0,226.6 L743.0,225.5 L744.0,224.7 L745.0,224.0 L746.0,223.5 L747.0,222.9 L748.0,222.4 L749.0,222.0 L750.0,221.5 L751.0,221.1 L752.0,220.5 L753.0,219.6 L754.0,218.2 L755.0,216.5 L756.0,214.7 L757.0,212.8 L758.0,210.8 L759.0,208.7 L760.0,206.8 L761.0,205.2 L762.0,204.2 L763.0,203.8 L764.0,203.7 L765.0,203.9 L766.0,204.2 L767.0,204.7 L768.0,205.1 L769.0,205.5 L770.0,206.0 L771.0,206.2 L772.0,206.2 L773.0,205.9 L774.0,205.4 L775.0,204.8 L776.0,204.2 L777.0,203.7 L778.0,203.5 L779.0,203.6 L780.0,204.2 L781.0,205.1 L782.0,206.4 L783.0,208.2 L784.0,210.3 L785.0,212.6 L786.0,214.6 L787.0,216.3 L788.0,217.7 L789.0,219.0 L790.0,220.1 L791.0,220.9 L792.0,221.4 L793.0,221.8 L794.0,222.1 L795.0,222.4 L796.0,222.7 L797.0,223.1 L798.0,223.7 L799.0,224.6 L800.0,225.6 L801.0,226.8 L802.0,228.0 L803.0,229.3 L804.0,230.6 L805.0,231.9 L806.0,233.1 L807.0,234.2 L808.0,235.0 L809.0,235.7 L810.0,236.2 L811.0,236.7 L812.0,237.0 L813.0,237.3 L814.0,237.4 L815.0,237.5 L816.0,237.6 L817.0,237.6 L818.0,237.5 L819.0,237.3 L820.0,237.2 L821.0,237.0 L822.0,236.7 L823.0,236.3 L824.0,235.7 L825.0,234.9 L826.0,234.0 L827.0,232.9 L828.0,231.6 L829.0,230.1 L830.0,228.5 L831.0,227.0 L832.0,225.8 L833.0,224.9 L834.0,224.2 L835.0,223.7 L836.0,223.1 L837.0,222.6 L838.0,222.1 L839.0,221.7 L840.0,221.2 L841.0,220.7 L842.0,219.9 L843.0,218.7 L844.0,217.1 L845.0,215.3 L846.0,213.4 L847.0,211.5 L848.0,209.4 L849.0,207.4 L850.0,205.7 L851.0,204.5 L852.0,203.9 L853.0,203.7 L854.0,203.8 L855.0,204.1 L856.0,204.5 L857.0,204.9 L858.0,205.4 L859.0,205.8 L860.0,206.2 L861.0,206.3 L862.0,206.1 L863.0,205.6 L864.0,205.0 L865.0,204.4 L866.0,203.9 L867.0,203.5 L868.0,203.5 L869.0,204.0 L870.0,204.8 L871.0,206.0 L872.0,207.6 L873.0,209.6 L874.0,211.8 L875.0,214.0 L876.0,215.7 L877.0,217.3 L878.0,218.6 L879.0,219.8 L880.0,220.7 L881.0,221.3 L882.0,221.7 L883.0,222.0 L884.0,222.3 L885.0,222.6 L886.0,222.9 L887.0,223.5 L888.0,224.3 L889.0,225.3 L890.0,226.4 L891.0,227.6 L892.0,228.9 L893.0,230.1 L894.0,231.5 L895.0,232.7 L896.0,233.9 L897.0,234.8 L898.0,235.5 L899.0,236.1 L900.0,236.6 L901.0,237.0 L902.0,237.2 L903.0,237.3 L904.0,237.5 L905.0,237.5 L906.0,237.6 L907.0,237.5 L908.0,237.4 L909.0,237.2 L910.0,237.1 L911.0,236.9 L912.0,236.5 L913.0,236.0 L914.0,235.5" fill="none" stroke="#000" stroke-width="2.4" stroke-linejoin="round" stroke-dasharray="6.5 3.0"/>
<line x1="825.00" y1="110.00" x2="825.00" y2="455.00" stroke="#1f77b4" stroke-width="2.2" stroke-dasharray="2.3 3.21"/>
<text x="888.30" y="289.60" font-size="63.20" text-anchor="middle" fill="#808080" transform="rotate(-90 888.30 289.60)" fill-opacity="0.25">Forecast</text>
<line x1="234.80" y1="110.00" x2="234.80" y2="120.00" stroke="#000" stroke-width="4"/>
<line x1="280.80" y1="110.00" x2="280.80" y2="120.00" stroke="#f00" stroke-width="4"/>
<text x="235.80" y="138.90" font-size="13.60" text-anchor="middle" fill="#000">M</text>
<text x="280.80" y="138.90" font-size="13.60" text-anchor="middle" fill="#f00">N</text>
<line x1="324.13" y1="110.00" x2="324.13" y2="120.00" stroke="#000" stroke-width="4"/>
<line x1="370.13" y1="110.00" x2="370.13" y2="120.00" stroke="#f00" stroke-width="4"/>
<text x="325.13" y="138.90" font-size="13.60" text-anchor="middle" fill="#000">M</text>
<text x="370.13" y="138.90" font-size="13.60" text-anchor="middle" fill="#f00">N</text>
<line x1="413.46" y1="110.00" x2="413.46" y2="120.00" stroke="#000" stroke-width="4"/>
<line x1="459.46" y1="110.00" x2="459.46" y2="120.00" stroke="#f00" stroke-width="4"/>
<text x="414.46" y="138.90" font-size="13.60" text-anchor="middle" fill="#000">M</text>
<text x="459.46" y="138.90" font-size="13.60" text-anchor="middle" fill="#f00">N</text>
<line x1="502.79" y1="110.00" x2="502.79" y2="120.00" stroke="#000" stroke-width="4"/>
<line x1="548.79" y1="110.00" x2="548.79" y2="120.00" stroke="#f00" stroke-width="4"/>
<text x="503.79" y="138.90" font-size="13.60" text-anchor="middle" fill="#000">M</text>
<text x="548.79" y="138.90" font-size="13.60" text-anchor="middle" fill="#f00">N</text>
<line x1="592.12" y1="110.00" x2="592.12" y2="120.00" stroke="#000" stroke-width="4"/>
<line x1="638.12" y1="110.00" x2="638.12" y2="120.00" stroke="#f00" stroke-width="4"/>
<text x="593.12" y="138.90" font-size="13.60" text-anchor="middle" fill="#000">M</text>
<text x="638.12" y="138.90" font-size="13.60" text-anchor="middle" fill="#f00">N</text>
<line x1="681.45" y1="110.00" x2="681.45" y2="120.00" stroke="#000" stroke-width="4"/>
<line x1="727.45" y1="110.00" x2="727.45" y2="120.00" stroke="#f00" stroke-width="4"/>
<text x="682.45" y="138.90" font-size="13.60" text-anchor="middle" fill="#000">M</text>
<text x="727.45" y="138.90" font-size="13.60" text-anchor="middle" fill="#f00">N</text>
<line x1="770.78" y1="110.00" x2="770.78" y2="120.00" stroke="#000" stroke-width="4"/>
<line x1="816.78" y1="110.00" x2="816.78" y2="120.00" stroke="#f00" stroke-width="4"/>
<text x="771.78" y="138.90" font-size="13.60" text-anchor="middle" fill="#000">M</text>
<text x="816.78" y="138.90" font-size="13.60" text-anchor="middle" fill="#f00">N</text>
<line x1="248.50" y1="455.00" x2="248.50" y2="449.70" stroke="#000" stroke-width="1.1"/>
<line x1="337.50" y1="455.00" x2="337.50" y2="449.70" stroke="#000" stroke-width="1.1"/>
<line x1="427.50" y1="455.00" x2="427.50" y2="449.70" stroke="#000" stroke-width="1.1"/>
<line x1="516.50" y1="455.00" x2="516.50" y2="449.70" stroke="#000" stroke-width="1.1"/>
<line x1="605.50" y1="455.00" x2="605.50" y2="449.70" stroke="#000" stroke-width="1.1"/>
<line x1="694.50" y1="455.00" x2="694.50" y2="449.70" stroke="#000" stroke-width="1.1"/>
<line x1="784.50" y1="455.00" x2="784.50" y2="449.70" stroke="#000" stroke-width="1.1"/>
<line x1="873.50" y1="455.00" x2="873.50" y2="449.70" stroke="#000" stroke-width="1.1"/>
<line x1="200.00" y1="455.50" x2="205.30" y2="455.50" stroke="#000" stroke-width="1.1"/>
<line x1="914.00" y1="455.50" x2="908.70" y2="455.50" stroke="#000" stroke-width="1.1"/>
<line x1="200.00" y1="397.50" x2="205.30" y2="397.50" stroke="#000" stroke-width="1.1"/>
<line x1="914.00" y1="397.50" x2="908.70" y2="397.50" stroke="#000" stroke-width="1.1"/>
<line x1="200.00" y1="340.50" x2="205.30" y2="340.50" stroke="#000" stroke-width="1.1"/>
<line x1="914.00" y1="340.50" x2="908.70" y2="340.50" stroke="#000" stroke-width="1.1"/>
<line x1="200.00" y1="282.50" x2="205.30" y2="282.50" stroke="#000" stroke-width="1.1"/>
<line x1="914.00" y1="282.50" x2="908.70" y2="282.50" stroke="#000" stroke-width="1.1"/>
<line x1="200.00" y1="225.50" x2="205.30" y2="225.50" stroke="#000" stroke-width="1.1"/>
<line x1="914.00" y1="225.50" x2="908.70" y2="225.50" stroke="#000" stroke-width="1.1"/>
<line x1="200.00" y1="167.50" x2="205.30" y2="167.50" stroke="#000" stroke-width="1.1"/>
<line x1="914.00" y1="167.50" x2="908.70" y2="167.50" stroke="#000" stroke-width="1.1"/>
<line x1="200.00" y1="110.50" x2="205.30" y2="110.50" stroke="#000" stroke-width="1.1"/>
<line x1="914.00" y1="110.50" x2="908.70" y2="110.50" stroke="#000" stroke-width="1.1"/>
<rect x="200" y="110" width="714" height="345" fill="none" stroke="#000" stroke-width="2.0"/>
<text x="195.70" y="462.80" font-size="19.50" text-anchor="end" fill="#000">2</text>
<text x="195.70" y="405.30" font-size="19.50" text-anchor="end" fill="#000">3</text>
<text x="195.70" y="347.80" font-size="19.50" text-anchor="end" fill="#000">4</text>
<text x="195.70" y="290.30" font-size="19.50" text-anchor="end" fill="#000">5</text>
<text x="195.70" y="232.80" font-size="19.50" text-anchor="end" fill="#000">6</text>
<text x="195.70" y="175.30" font-size="19.50" text-anchor="end" fill="#000">7</text>
<text x="195.70" y="117.80" font-size="19.50" text-anchor="end" fill="#000">8</text>
<text x="172.90" y="282.50" font-size="24.00" text-anchor="middle" fill="#000" transform="rotate(-90 172.90 282.50)">L*</text>
<g transform="translate(203.45 92.60)" fill="#000">
<text x="0.00" y="0.00" font-size="24.00">&gt;2.0 MeV Electron Flux at 88</text>
<text x="354.85" y="-8.80" font-size="16.90">∘</text>
<text x="376.85" y="0.00" font-size="24.00">pitch angle</text>
<text x="519.19" y="0.00" font-size="24.00">( cm</text>
<text x="572.55" y="-9.90" font-size="16.80">−2</text>
<text x="601.85" y="0.00" font-size="24.00">s</text>
<text x="613.95" y="-9.90" font-size="16.80">−1</text>
<text x="643.25" y="0.00" font-size="24.00">sr</text>
<text x="666.15" y="-9.90" font-size="16.80">−1</text>
<text x="700.25" y="0.00" font-size="24.00">)</text>
</g>
<rect x="959.00" y="110.00" width="17.00" height="345.00" fill="url(#cb)"/>
<line x1="976.00" y1="455.50" x2="981.50" y2="455.50" stroke="#000" stroke-width="1.1"/>
<line x1="976.00" y1="437.50" x2="981.50" y2="437.50" stroke="#000" stroke-width="1.0"/>
<line x1="976.00" y1="427.50" x2="981.50" y2="427.50" stroke="#000" stroke-width="1.0"/>
<line x1="976.00" y1="420.50" x2="981.50" y2="420.50" stroke="#000" stroke-width="1.0"/>
<line x1="976.00" y1="414.50" x2="981.50" y2="414.50" stroke="#000" stroke-width="1.0"/>
<line x1="976.00" y1="410.50" x2="981.50" y2="410.50" stroke="#000" stroke-width="1.0"/>
<line x1="976.00" y1="406.50" x2="981.50" y2="406.50" stroke="#000" stroke-width="1.0"/>
<line x1="976.00" y1="403.50" x2="981.50" y2="403.50" stroke="#000" stroke-width="1.0"/>
<line x1="976.00" y1="400.50" x2="981.50" y2="400.50" stroke="#000" stroke-width="1.0"/>
<text x="986.75" y="462.90" font-size="19.50" text-anchor="start" fill="#000">10<tspan dx="0.8" dy="-6.88" font-size="13.65">0</tspan></text>
<line x1="976.00" y1="397.50" x2="981.50" y2="397.50" stroke="#000" stroke-width="1.1"/>
<line x1="976.00" y1="380.50" x2="981.50" y2="380.50" stroke="#000" stroke-width="1.0"/>
<line x1="976.00" y1="370.50" x2="981.50" y2="370.50" stroke="#000" stroke-width="1.0"/>
<line x1="976.00" y1="362.50" x2="981.50" y2="362.50" stroke="#000" stroke-width="1.0"/>
<line x1="976.00" y1="357.50" x2="981.50" y2="357.50" stroke="#000" stroke-width="1.0"/>
<line x1="976.00" y1="352.50" x2="981.50" y2="352.50" stroke="#000" stroke-width="1.0"/>
<line x1="976.00" y1="348.50" x2="981.50" y2="348.50" stroke="#000" stroke-width="1.0"/>
<line x1="976.00" y1="345.50" x2="981.50" y2="345.50" stroke="#000" stroke-width="1.0"/>
<line x1="976.00" y1="342.50" x2="981.50" y2="342.50" stroke="#000" stroke-width="1.0"/>
<text x="986.75" y="405.40" font-size="19.50" text-anchor="start" fill="#000">10<tspan dx="0.8" dy="-6.88" font-size="13.65">1</tspan></text>
<line x1="976.00" y1="340.50" x2="981.50" y2="340.50" stroke="#000" stroke-width="1.1"/>
<line x1="976.00" y1="322.50" x2="981.50" y2="322.50" stroke="#000" stroke-width="1.0"/>
<line x1="976.00" y1="312.50" x2="981.50" y2="312.50" stroke="#000" stroke-width="1.0"/>
<line x1="976.00" y1="305.50" x2="981.50" y2="305.50" stroke="#000" stroke-width="1.0"/>
<line x1="976.00" y1="299.50" x2="981.50" y2="299.50" stroke="#000" stroke-width="1.0"/>
<line x1="976.00" y1="295.50" x2="981.50" y2="295.50" stroke="#000" stroke-width="1.0"/>
<line x1="976.00" y1="291.50" x2="981.50" y2="291.50" stroke="#000" stroke-width="1.0"/>
<line x1="976.00" y1="288.50" x2="981.50" y2="288.50" stroke="#000" stroke-width="1.0"/>
<line x1="976.00" y1="285.50" x2="981.50" y2="285.50" stroke="#000" stroke-width="1.0"/>
<text x="986.75" y="347.90" font-size="19.50" text-anchor="start" fill="#000">10<tspan dx="0.8" dy="-6.88" font-size="13.65">2</tspan></text>
<line x1="976.00" y1="282.50" x2="981.50" y2="282.50" stroke="#000" stroke-width="1.1"/>
<line x1="976.00" y1="265.50" x2="981.50" y2="265.50" stroke="#000" stroke-width="1.0"/>
<line x1="976.00" y1="255.50" x2="981.50" y2="255.50" stroke="#000" stroke-width="1.0"/>
<line x1="976.00" y1="247.50" x2="981.50" y2="247.50" stroke="#000" stroke-width="1.0"/>
<line x1="976.00" y1="242.50" x2="981.50" y2="242.50" stroke="#000" stroke-width="1.0"/>
<line x1="976.00" y1="237.50" x2="981.50" y2="237.50" stroke="#000" stroke-width="1.0"/>
<line x1="976.00" y1="233.50" x2="981.50" y2="233.50" stroke="#000" stroke-width="1.0"/>
<line x1="976.00" y1="230.50" x2="981.50" y2="230.50" stroke="#000" stroke-width="1.0"/>
<line x1="976.00" y1="227.50" x2="981.50" y2="227.50" stroke="#000" stroke-width="1.0"/>
<text x="986.75" y="290.40" font-size="19.50" text-anchor="start" fill="#000">10<tspan dx="0.8" dy="-6.88" font-size="13.65">3</tspan></text>
<line x1="976.00" y1="225.50" x2="981.50" y2="225.50" stroke="#000" stroke-width="1.1"/>
<line x1="976.00" y1="207.50" x2="981.50" y2="207.50" stroke="#000" stroke-width="1.0"/>
<line x1="976.00" y1="197.50" x2="981.50" y2="197.50" stroke="#000" stroke-width="1.0"/>
<line x1="976.00" y1="190.50" x2="981.50" y2="190.50" stroke="#000" stroke-width="1.0"/>
<line x1="976.00" y1="184.50" x2="981.50" y2="184.50" stroke="#000" stroke-width="1.0"/>
<line x1="976.00" y1="180.50" x2="981.50" y2="180.50" stroke="#000" stroke-width="1.0"/>
<line x1="976.00" y1="176.50" x2="981.50" y2="176.50" stroke="#000" stroke-width="1.0"/>
<line x1="976.00" y1="173.50" x2="981.50" y2="173.50" stroke="#000" stroke-width="1.0"/>
<line x1="976.00" y1="170.50" x2="981.50" y2="170.50" stroke="#000" stroke-width="1.0"/>
<text x="986.75" y="232.90" font-size="19.50" text-anchor="start" fill="#000">10<tspan dx="0.8" dy="-6.88" font-size="13.65">4</tspan></text>
<line x1="976.00" y1="167.50" x2="981.50" y2="167.50" stroke="#000" stroke-width="1.1"/>
<line x1="976.00" y1="150.50" x2="981.50" y2="150.50" stroke="#000" stroke-width="1.0"/>
<line x1="976.00" y1="140.50" x2="981.50" y2="140.50" stroke="#000" stroke-width="1.0"/>
<line x1="976.00" y1="132.50" x2="981.50" y2="132.50" stroke="#000" stroke-width="1.0"/>
<line x1="976.00" y1="127.50" x2="981.50" y2="127.50" stroke="#000" stroke-width="1.0"/>
<line x1="976.00" y1="122.50" x2="981.50" y2="122.50" stroke="#000" stroke-width="1.0"/>
<line x1="976.00" y1="118.50" x2="981.50" y2="118.50" stroke="#000" stroke-width="1.0"/>
<line x1="976.00" y1="115.50" x2="981.50" y2="115.50" stroke="#000" stroke-width="1.0"/>
<line x1="976.00" y1="112.50" x2="981.50" y2="112.50" stroke="#000" stroke-width="1.0"/>
<text x="986.75" y="175.40" font-size="19.50" text-anchor="start" fill="#000">10<tspan dx="0.8" dy="-6.88" font-size="13.65">5</tspan></text>
<line x1="976.00" y1="110.50" x2="981.50" y2="110.50" stroke="#000" stroke-width="1.1"/>
<text x="986.75" y="117.90" font-size="19.50" text-anchor="start" fill="#000">10<tspan dx="0.8" dy="-6.88" font-size="13.65">6</tspan></text>
<rect x="959" y="110" width="17" height="345" fill="none" stroke="#000" stroke-width="2.0"/>
<rect x="200.00" y="478.00" width="714.00" height="344.00" fill="#fff"/>
<rect x="825.00" y="478.00" width="89.00" height="344.00" fill="#d3d3d3"/>
<text x="888.30" y="657.10" font-size="63.20" text-anchor="middle" fill="#808080" transform="rotate(-90 888.30 657.10)" fill-opacity="0.25">Forecast</text>
<line x1="825.00" y1="478.00" x2="825.00" y2="822.00" stroke="#1f77b4" stroke-width="2.2" stroke-dasharray="2.3 3.21"/>
<clipPath id="c2"><rect x="200" y="478" width="714" height="344"/></clipPath>
<g clip-path="url(#c2)">
<path d="M201.0,591.3 L205.0,596.4 L210.5,600.9 L216.8,603.3 L220.5,609.1 L224.1,618.2 L227.4,625.5 L230.5,625.5 L234.1,623.6 L237.7,626.4 L242.6,630.9 L245.9,626.4 L249.5,616.4 L253.2,610.5 L257.7,607.8 L262.3,608.2 L266.8,603.6 L271.4,597.3 L275.0,595.8 L278.6,598.2 L283.2,602.2 L287.7,605.5 L291.4,610.9 L295.0,618.2 L298.6,623.3 L302.3,625.5 L305.9,628.2 L309.5,634.5 L313.2,643.6 L316.5,649.5 L320.5,649.1 L324.5,646.9 L328.6,650.0 L332.3,651.8 L335.9,647.3 L339.5,638.2 L343.2,632.7 L347.7,630.0 L351.4,629.1 L355.9,624.5 L360.5,617.3 L365.0,614.5 L370.5,614.0 L375.9,615.1 L380.5,618.2 L385.0,623.6 L388.6,625.1 L395.0,623.1 L400.5,625.8 L405.9,629.1 L414.1,627.3 L421.4,628.4 L426.8,625.5 L432.3,620.9 L437.7,619.1 L440.0,619.1 L445.5,615.5 L450.9,610.9 L456.4,609.5 L463.6,609.1 L468.2,610.5 L472.7,613.6 L477.3,616.7 L483.6,617.8 L488.2,621.8 L492.7,626.4 L495.5,628.2 L502.7,625.8 L511.8,628.2 L516.4,623.6 L521.8,616.7 L526.4,614.2 L531.8,614.2 L536.4,610.5 L540.9,606.9 L544.5,606.0 L549.1,606.9 L555.5,609.1 L559.1,613.6 L562.7,620.9 L567.3,628.2 L572.7,631.8 L576.4,638.2 L580.0,649.1 L583.6,659.1 L585.5,660.4 L589.1,657.3 L591.8,655.1 L594.5,657.3 L599.1,662.7 L601.8,660.0 L605.5,649.1 L609.1,640.0 L612.7,635.5 L619.1,633.6 L622.7,630.0 L626.4,622.7 L630.0,617.8 L633.6,616.0 L639.1,616.7 L644.5,618.2 L648.2,622.7 L651.8,630.9 L656.4,638.2 L661.8,641.8 L665.5,648.2 L669.1,659.1 L673.6,669.1 L676.4,670.4 L680.0,670.0 L682.7,670.4 L686.4,676.4 L690.0,680.9 L692.7,676.4 L695.5,667.3 L698.2,660.0 L701.8,655.5 L705.5,654.5 L708.2,654.9 L711.8,650.0 L716.4,640.9 L720.9,636.0 L726.4,635.1 L732.7,635.5 L736.4,638.5 L740.0,644.5 L743.6,649.1 L747.3,650.9 L750.0,645.5 L753.6,642.2 L756.4,643.6 L760.0,648.2 L763.6,650.9 L769.1,648.7 L775.5,650.4 L780.0,648.2 L784.5,643.6 L790.0,638.2 L795.5,636.4 L800.0,634.5 L804.5,630.0 L809.1,625.8 L814.5,624.2 L821.8,623.6 L825.5,624.5 L830.9,626.4 L836.4,627.3 L840.9,626.9 L844.5,629.1 L848.2,632.7 L852.7,634.5 L859.1,633.1 L863.6,634.2 L868.2,634.5 L872.7,630.9 L877.3,626.4 L881.8,624.0 L886.4,623.3 L890.9,620.9 L895.5,617.3 L900.0,615.1 L906.4,614.2 L913.6,614.9" fill="none" stroke="#f00" stroke-width="2.0" stroke-linejoin="round"/>
<path d="M201.0,633.5 L201.7,637.5 L202.4,642.1 L203.1,643.9 L203.8,645.0 L204.5,647.0 L205.2,648.2 L205.9,647.7 L206.6,649.2 L207.3,649.2 L208.0,648.9 L208.7,649.3 L209.4,649.9 L210.1,649.8 L210.8,650.9 L211.5,652.5 L212.2,655.5 L212.9,657.4 L213.6,659.6 L214.3,660.8 L215.0,664.4 L215.7,664.0 L216.4,664.0 L217.1,665.4 L217.8,666.7 L218.5,668.5 L219.2,671.3 L219.9,673.8 L220.6,679.5 L221.3,683.1 L222.0,688.3 L222.7,693.8 L223.4,689.6 L224.1,687.5 L224.8,688.5 L225.5,691.2 L226.2,692.6 L226.9,694.7 L227.6,695.8 L228.3,695.8 L229.0,696.2 L229.7,694.7 L230.4,694.0 L231.1,694.6 L231.8,695.6 L232.5,696.0 L233.2,695.6 L233.9,695.0 L234.6,694.9 L235.3,696.2 L236.0,698.9 L236.7,698.8 L237.4,697.6 L238.1,696.5 L238.8,694.5 L239.5,690.5 L240.2,686.8 L240.9,688.7 L241.6,689.5 L242.3,689.1 L243.0,685.9 L243.7,683.2 L244.4,682.2 L245.1,681.1 L245.8,678.3 L246.5,676.6 L247.2,675.1 L247.9,673.7 L248.6,672.7 L249.3,674.3 L250.0,677.7 L250.7,673.2 L251.4,669.1 L252.1,668.3 L252.8,666.9 L253.5,664.7 L254.2,663.6 L254.9,662.3 L255.6,660.5 L256.3,658.4 L257.0,658.1 L257.7,656.8 L258.4,655.2 L259.1,653.2 L259.8,651.8 L260.5,649.3 L261.2,647.1 L261.9,645.5 L262.6,643.6 L263.3,641.7 L264.0,640.2 L264.7,638.8 L265.4,638.1 L266.1,638.6 L266.8,638.8 L267.5,638.7 L268.2,639.4 L268.9,638.7 L269.6,638.3 L270.3,638.5 L271.0,638.6 L271.7,638.4 L272.4,636.5 L273.1,633.8 L273.8,632.8 L274.5,630.5 L275.2,629.5 L275.9,627.1 L276.6,625.9 L277.3,622.7 L278.0,620.5 L278.7,618.4 L279.4,617.7 L280.1,617.4 L280.8,616.5 L281.5,617.0 L282.2,617.4 L282.9,618.4 L283.6,619.5 L284.3,629.0 L285.0,638.0 L285.7,637.1 L286.4,637.1 L287.1,637.5 L287.8,640.3 L288.5,643.4 L289.2,645.0 L289.9,646.3 L290.6,648.0 L291.3,649.1 L292.0,650.5 L292.7,652.5 L293.4,654.3 L294.1,656.5 L294.8,658.0 L295.5,659.8 L296.2,661.7 L296.9,660.7 L297.6,660.1 L298.3,662.0 L299.0,662.7 L299.7,664.4 L300.4,665.1 L301.1,665.4 L301.8,665.8 L302.5,666.6 L303.2,667.2 L303.9,669.1 L304.6,671.4 L305.3,673.8 L306.0,678.4 L306.7,678.7 L307.4,678.5 L308.1,681.8 L308.8,688.1 L309.5,690.6 L310.2,686.8 L310.9,685.5 L311.6,684.2 L312.3,684.1 L313.0,683.2 L313.7,686.9 L314.4,691.8 L315.1,693.9 L315.8,695.2 L316.5,695.8 L317.2,695.4 L317.9,696.2 L318.6,695.1 L319.3,694.8 L320.0,694.4 L320.7,694.6 L321.4,694.2 L322.1,694.4 L322.8,693.3 L323.5,691.1 L324.2,686.1 L324.9,683.5 L325.6,682.2 L326.3,682.5 L327.0,682.1 L327.7,684.4 L328.4,686.2 L329.1,688.5 L329.8,687.2 L330.5,685.2 L331.2,684.2 L331.9,684.7 L332.6,684.0 L333.3,684.4 L334.0,683.8 L334.7,682.9 L335.4,683.3 L336.1,681.9 L336.8,680.9 L337.5,680.5 L338.2,676.4 L338.9,675.2 L339.6,673.2 L340.3,673.1 L341.0,672.5 L341.7,674.0 L342.4,671.6 L343.1,669.6 L343.8,668.0 L344.5,666.8 L345.2,665.2 L345.9,664.0 L346.6,662.3 L347.3,661.2 L348.0,659.6 L348.7,658.9 L349.4,658.2 L350.1,656.8 L350.8,656.1 L351.5,654.5 L352.2,653.5 L352.9,651.8 L353.6,649.6 L354.3,647.8 L355.0,645.5 L355.7,643.3 L356.4,639.5 L357.1,636.6 L357.8,634.7 L358.5,633.8 L359.2,632.8 L359.9,631.1 L360.6,630.7 L361.3,630.4 L362.0,629.3 L362.7,628.4 L363.4,628.4 L364.1,627.3 L364.8,626.7 L365.5,626.4 L366.2,625.7 L366.9,624.3 L367.6,623.5 L368.3,623.2 L369.0,623.2 L369.7,623.5 L370.4,625.9 L371.1,625.4 L371.8,625.7 L372.5,624.7 L373.2,625.8 L373.9,624.8 L374.6,625.4 L375.3,625.4 L376.0,626.5 L376.7,627.1 L377.4,627.8 L378.1,628.8 L378.8,629.3 L379.5,630.4 L380.2,630.4 L380.9,630.7 L381.6,631.5 L382.3,632.1 L383.0,632.7 L383.7,632.9 L384.4,632.4 L385.1,634.4 L385.8,635.9 L386.5,636.4 L387.2,637.2 L387.9,638.7 L388.6,639.7 L389.3,641.6 L390.0,642.7 L390.7,644.8 L391.4,645.7 L392.1,646.4 L392.8,648.2 L393.5,649.6 L394.2,650.2 L394.9,651.5 L395.6,652.3 L396.3,655.5 L397.0,656.5 L397.7,657.2 L398.4,658.7 L399.1,659.4 L399.8,659.2 L400.5,658.1 L401.2,657.6 L401.9,657.3 L402.6,657.9 L403.3,659.6 L404.0,660.1 L404.7,660.6 L405.4,661.9 L406.1,661.6 L406.8,662.5 L407.5,665.1 L408.2,667.0 L408.9,664.8 L409.6,664.2 L410.3,661.8 L411.0,661.4 L411.7,660.5 L412.4,659.2 L413.1,659.3 L413.8,659.4 L414.5,658.9 L415.2,658.9 L415.9,659.4 L416.6,658.2 L417.3,658.6 L418.0,659.8 L418.7,660.3 L419.4,662.3 L420.1,660.6 L420.8,658.3 L421.5,656.9 L422.2,657.7 L422.9,655.5 L423.6,654.7 L424.3,654.3 L425.0,653.0 L425.7,651.4 L426.4,649.5 L427.1,648.1 L427.8,647.7 L428.5,646.3 L429.2,644.4 L429.9,644.2 L430.6,642.4 L431.3,640.3 L432.0,638.7 L432.7,638.0 L433.4,637.0 L434.1,636.2 L434.8,636.4 L435.5,635.1 L436.2,635.3 L436.9,633.7 L437.6,633.5 L438.3,632.7 L439.0,632.9 L439.7,631.0 L440.4,630.3 L441.1,630.0 L441.8,629.2 L442.5,628.9 L443.2,628.7 L443.9,628.4 L444.6,628.5 L445.3,627.2 L446.0,628.4 L446.7,627.8 L447.4,626.6 L448.1,625.4 L448.8,626.2 L449.5,626.1 L450.2,624.9 L450.9,625.8 L451.6,625.5 L452.3,625.0 L453.0,625.5 L453.7,625.6 L454.4,625.6 L455.1,626.7 L455.8,627.0 L456.5,627.6 L457.2,628.7 L457.9,629.0 L458.6,628.5 L459.3,627.7 L460.0,629.0 L460.7,628.0 L461.4,628.8 L462.1,629.5 L462.8,628.8 L463.5,629.1 L464.2,629.7 L464.9,631.7 L465.6,631.9 L466.3,632.6 L467.0,633.2 L467.7,633.1 L468.4,633.4 L469.1,633.6 L469.8,633.0 L470.5,634.4 L471.2,635.7 L471.9,636.4 L472.6,637.3 L473.3,638.8 L474.0,640.8 L474.7,643.1 L475.4,642.8 L476.1,642.9 L476.8,642.1 L477.5,643.4 L478.2,643.6 L478.9,644.4 L479.6,645.6 L480.3,646.0 L481.0,646.1 L481.7,647.2 L482.4,646.9 L483.1,648.5 L483.8,649.1 L484.5,649.1 L485.2,651.2 L485.9,651.0 L486.6,652.2 L487.3,652.1 L488.0,653.0 L488.7,653.5 L489.4,653.2 L490.1,654.1 L490.8,655.9 L491.5,657.4 L492.2,658.1 L492.9,659.4 L493.6,662.4 L494.3,663.4 L495.0,667.7 L495.7,667.5 L496.4,661.5 L497.1,656.9 L497.8,655.0 L498.5,654.5 L499.2,654.2 L499.9,655.1 L500.6,655.0 L501.3,656.1 L502.0,657.3 L502.7,659.4 L503.4,659.7 L504.1,660.7 L504.8,661.4 L505.5,661.4 L506.2,661.6 L506.9,661.0 L507.6,660.5 L508.3,659.9 L509.0,660.2 L509.7,661.2 L510.4,662.2 L511.1,660.9 L511.8,660.6 L512.5,659.4 L513.2,659.1 L513.9,657.9 L514.6,656.7 L515.3,653.6 L516.0,653.2 L516.7,651.8 L517.4,651.1 L518.1,649.8 L518.8,648.8 L519.5,648.3 L520.2,647.8 L520.9,644.7 L521.6,644.7 L522.3,644.0 L523.0,642.8 L523.7,641.5 L524.4,638.9 L525.1,637.0 L525.8,635.7 L526.5,634.3 L527.2,634.9 L527.9,635.6 L528.6,637.5 L529.3,639.1 L530.0,641.2 L530.7,642.7 L531.4,644.1 L532.1,647.9 L532.8,653.3 L533.5,660.1 L534.2,661.7 L534.9,661.0 L535.6,662.0 L536.3,661.7 L537.0,662.9 L537.7,663.0 L538.4,661.4 L539.1,658.0 L539.8,654.6 L540.5,655.6 L541.2,656.6 L541.9,659.4 L542.6,662.9 L543.3,665.3 L544.0,666.9 L544.7,668.9 L545.4,668.2 L546.1,666.6 L546.8,665.4 L547.5,666.3 L548.2,668.3 L548.9,669.4 L549.6,669.9 L550.3,671.3 L551.0,672.6 L551.7,671.8 L552.4,672.1 L553.1,670.7 L553.8,670.0 L554.5,672.4 L555.2,673.3 L555.9,674.5 L556.6,674.6 L557.3,673.8 L558.0,676.5 L558.7,679.3 L559.4,682.1 L560.1,683.7 L560.8,687.1 L561.5,688.1 L562.2,689.6 L562.9,691.4 L563.6,693.4 L564.3,695.6 L565.0,697.6 L565.7,701.7 L566.4,703.4 L567.1,704.8 L567.8,706.6 L568.5,710.5 L569.2,714.9 L569.9,712.3 L570.6,711.2 L571.3,713.5 L572.0,716.0 L572.7,718.2 L573.4,718.9 L574.1,719.9 L574.8,721.7 L575.5,730.1 L576.2,737.8 L576.9,733.7 L577.6,729.7 L578.3,733.3 L579.0,739.6 L579.7,740.5 L580.4,731.2 L581.1,721.6 L581.8,716.4 L582.5,715.1 L583.2,715.7 L583.9,715.6 L584.6,713.7 L585.3,711.3 L586.0,711.5 L586.7,710.9 L587.4,711.6 L588.1,711.4 L588.8,710.7 L589.5,710.8 L590.2,710.1 L590.9,708.2 L591.6,707.9 L592.3,709.0 L593.0,710.2 L593.7,710.4 L594.4,711.5 L595.1,711.9 L595.8,714.6 L596.5,714.6 L597.2,715.8 L597.9,716.1 L598.6,716.6 L599.3,716.8 L600.0,716.1 L600.7,715.6 L601.4,714.3 L602.1,714.0 L602.8,712.6 L603.5,712.1 L604.2,712.1 L604.9,711.9 L605.6,710.8 L606.3,709.7 L607.0,709.3 L607.7,708.4 L608.4,708.8 L609.1,707.6 L609.8,705.0 L610.5,701.8 L611.2,698.7 L611.9,696.9 L612.6,694.5 L613.3,691.5 L614.0,689.4 L614.7,688.7 L615.4,686.9 L616.1,686.2 L616.8,684.8 L617.5,684.3 L618.2,684.5 L618.9,683.9 L619.6,684.6 L620.3,683.8 L621.0,684.1 L621.7,683.8 L622.4,683.6 L623.1,683.2 L623.8,683.1 L624.5,681.3 L625.2,680.9 L625.9,677.5 L626.6,674.6 L627.3,675.9 L628.0,675.7 L628.7,676.6 L629.4,676.0 L630.1,676.0 L630.8,674.6 L631.5,674.7 L632.2,674.3 L632.9,675.0 L633.6,676.0 L634.3,676.4 L635.0,676.9 L635.7,677.7 L636.4,678.1 L637.1,677.5 L637.8,676.3 L638.5,673.6 L639.2,670.2 L639.9,668.3 L640.6,665.0 L641.3,665.7 L642.0,665.9 L642.7,666.9 L643.4,668.4 L644.1,668.7 L644.8,670.0 L645.5,670.2 L646.2,671.3 L646.9,672.1 L647.6,673.8 L648.3,675.5 L649.0,676.3 L649.7,678.6 L650.4,679.8 L651.1,681.7 L651.8,682.8 L652.5,684.2 L653.2,685.0 L653.9,686.3 L654.6,688.9 L655.3,690.9 L656.0,693.3 L656.7,695.5 L657.4,695.3 L658.1,696.4 L658.8,697.7 L659.5,697.7 L660.2,698.8 L660.9,699.1 L661.6,701.2 L662.3,700.2 L663.0,701.8 L663.7,703.0 L664.4,705.3 L665.1,705.9 L665.8,707.8 L666.5,710.5 L667.2,714.4 L667.9,722.4 L668.6,730.8 L669.3,726.3 L670.0,719.5 L670.7,715.8 L671.4,711.5 L672.1,711.1 L672.8,716.7 L673.5,721.7 L674.2,729.3 L674.9,735.8 L675.6,740.3 L676.3,744.4 L677.0,739.9 L677.7,734.9 L678.4,736.7 L679.1,738.3 L679.8,737.9 L680.5,731.8 L681.2,726.2 L681.9,717.2 L682.6,707.0 L683.3,709.1 L684.0,715.1 L684.7,721.6 L685.4,730.1 L686.1,736.5 L686.8,743.0 L687.5,737.5 L688.2,731.3 L688.9,739.5 L689.6,743.3 L690.3,743.6 L691.0,735.3 L691.7,722.5 L692.4,713.9 L693.1,704.7 L693.8,710.3 L694.5,714.5 L695.2,709.9 L695.9,705.9 L696.6,709.3 L697.3,715.4 L698.0,720.5 L698.7,726.3 L699.4,725.4 L700.1,723.6 L700.8,720.1 L701.5,717.1 L702.2,713.4 L702.9,713.3 L703.6,714.1 L704.3,715.1 L705.0,712.3 L705.7,710.9 L706.4,708.2 L707.1,708.4 L707.8,708.0 L708.5,705.4 L709.2,703.0 L709.9,701.0 L710.6,698.0 L711.3,695.1 L712.0,692.7 L712.7,690.1 L713.4,692.6 L714.1,693.3 L714.8,694.4 L715.5,692.5 L716.2,690.1 L716.9,688.9 L717.6,688.3 L718.3,686.8 L719.0,685.7 L719.7,682.9 L720.4,681.9 L721.1,679.5 L721.8,678.6 L722.5,679.1 L723.2,679.3 L723.9,679.7 L724.6,678.4 L725.3,677.8 L726.0,679.3 L726.7,678.3 L727.4,677.9 L728.1,676.6 L728.8,675.7 L729.5,675.9 L730.2,674.9 L730.9,676.6 L731.6,678.3 L732.3,679.3 L733.0,677.6 L733.7,677.5 L734.4,676.6 L735.1,677.2 L735.8,677.6 L736.5,679.3 L737.2,680.6 L737.9,681.9 L738.6,683.6 L739.3,685.9 L740.0,690.1 L740.7,693.4 L741.4,697.0 L742.1,700.5 L742.8,703.1 L743.5,705.1 L744.2,709.2 L744.9,721.6 L745.6,711.6 L746.3,707.7 L747.0,709.5 L747.7,698.1 L748.4,691.8 L749.1,692.1 L749.8,693.0 L750.5,694.7 L751.2,697.8 L751.9,699.9 L752.6,703.3 L753.3,706.9 L754.0,708.6 L754.7,709.7 L755.4,710.1 L756.1,715.0 L756.8,720.6 L757.5,727.3 L758.2,736.7 L758.9,736.6 L759.6,736.5 L760.3,725.5 L761.0,713.5 L761.7,704.8 L762.4,707.3 L763.1,713.4 L763.8,719.5 L764.5,726.0 L765.2,725.8 L765.9,725.3 L766.6,724.9 L767.3,723.7 L768.0,722.1 L768.7,722.0 L769.4,722.2 L770.1,722.8 L770.8,722.4 L771.5,721.6 L772.2,722.5 L772.9,723.3 L773.6,724.0 L774.3,729.2 L775.0,720.1 L775.7,701.9 L776.4,684.9 L777.1,684.7 L777.8,686.5 L778.5,686.5 L779.2,685.6 L779.9,683.8 L780.6,682.3 L781.3,681.0 L782.0,680.2 L782.7,678.9 L783.4,677.2 L784.1,675.5 L784.8,673.9 L785.5,673.0 L786.2,672.5 L786.9,670.5 L787.6,670.0 L788.3,669.7 L789.0,668.3 L789.7,667.0 L790.4,666.6 L791.1,665.1 L791.8,664.6 L792.5,664.4 L793.2,663.7 L793.9,661.3 L794.6,661.5 L795.3,661.2 L796.0,659.3 L796.7,658.9 L797.4,658.7 L798.1,657.1 L798.8,656.9 L799.5,655.9 L800.2,654.3 L800.9,654.3 L801.6,653.0 L802.3,652.4 L803.0,651.9 L803.7,650.3 L804.4,649.6 L805.1,649.7 L805.8,649.4 L806.5,649.1 L807.2,645.5 L807.9,643.8 L808.6,646.4 L809.3,650.5 L810.0,651.7 L810.7,652.5 L811.4,653.0 L812.1,651.3 L812.8,649.4 L813.5,649.1 L814.2,649.3 L814.9,650.4 L815.6,650.5 L816.3,651.7 L817.0,653.6 L817.7,655.1 L818.4,654.7 L819.1,654.7 L819.8,654.9 L820.5,654.6 L821.2,652.4 L821.9,651.7 L822.6,650.3 L823.3,651.0 L824.0,650.4 L824.7,650.1" fill="none" stroke="#000" stroke-width="2.1" stroke-linejoin="round"/>
</g>
<line x1="248.50" y1="822.00" x2="248.50" y2="816.70" stroke="#000" stroke-width="1.1"/>
<line x1="337.50" y1="822.00" x2="337.50" y2="816.70" stroke="#000" stroke-width="1.1"/>
<line x1="427.50" y1="822.00" x2="427.50" y2="816.70" stroke="#000" stroke-width="1.1"/>
<line x1="516.50" y1="822.00" x2="516.50" y2="816.70" stroke="#000" stroke-width="1.1"/>
<line x1="605.50" y1="822.00" x2="605.50" y2="816.70" stroke="#000" stroke-width="1.1"/>
<line x1="694.50" y1="822.00" x2="694.50" y2="816.70" stroke="#000" stroke-width="1.1"/>
<line x1="784.50" y1="822.00" x2="784.50" y2="816.70" stroke="#000" stroke-width="1.1"/>
<line x1="873.50" y1="822.00" x2="873.50" y2="816.70" stroke="#000" stroke-width="1.1"/>
<line x1="200.00" y1="822.50" x2="205.30" y2="822.50" stroke="#000" stroke-width="1.1"/>
<line x1="914.00" y1="822.50" x2="908.70" y2="822.50" stroke="#000" stroke-width="1.1"/>
<line x1="200.00" y1="804.50" x2="203.20" y2="804.50" stroke="#000" stroke-width="1.0"/>
<line x1="914.00" y1="804.50" x2="910.80" y2="804.50" stroke="#000" stroke-width="1.0"/>
<line x1="200.00" y1="794.50" x2="203.20" y2="794.50" stroke="#000" stroke-width="1.0"/>
<line x1="914.00" y1="794.50" x2="910.80" y2="794.50" stroke="#000" stroke-width="1.0"/>
<line x1="200.00" y1="787.50" x2="203.20" y2="787.50" stroke="#000" stroke-width="1.0"/>
<line x1="914.00" y1="787.50" x2="910.80" y2="787.50" stroke="#000" stroke-width="1.0"/>
<line x1="200.00" y1="781.50" x2="203.20" y2="781.50" stroke="#000" stroke-width="1.0"/>
<line x1="914.00" y1="781.50" x2="910.80" y2="781.50" stroke="#000" stroke-width="1.0"/>
<line x1="200.00" y1="777.50" x2="203.20" y2="777.50" stroke="#000" stroke-width="1.0"/>
<line x1="914.00" y1="777.50" x2="910.80" y2="777.50" stroke="#000" stroke-width="1.0"/>
<line x1="200.00" y1="773.50" x2="203.20" y2="773.50" stroke="#000" stroke-width="1.0"/>
<line x1="914.00" y1="773.50" x2="910.80" y2="773.50" stroke="#000" stroke-width="1.0"/>
<line x1="200.00" y1="770.50" x2="203.20" y2="770.50" stroke="#000" stroke-width="1.0"/>
<line x1="914.00" y1="770.50" x2="910.80" y2="770.50" stroke="#000" stroke-width="1.0"/>
<line x1="200.00" y1="767.50" x2="203.20" y2="767.50" stroke="#000" stroke-width="1.0"/>
<line x1="914.00" y1="767.50" x2="910.80" y2="767.50" stroke="#000" stroke-width="1.0"/>
<line x1="200.00" y1="764.50" x2="205.30" y2="764.50" stroke="#000" stroke-width="1.1"/>
<line x1="914.00" y1="764.50" x2="908.70" y2="764.50" stroke="#000" stroke-width="1.1"/>
<line x1="200.00" y1="747.50" x2="203.20" y2="747.50" stroke="#000" stroke-width="1.0"/>
<line x1="914.00" y1="747.50" x2="910.80" y2="747.50" stroke="#000" stroke-width="1.0"/>
<line x1="200.00" y1="737.50" x2="203.20" y2="737.50" stroke="#000" stroke-width="1.0"/>
<line x1="914.00" y1="737.50" x2="910.80" y2="737.50" stroke="#000" stroke-width="1.0"/>
<line x1="200.00" y1="730.50" x2="203.20" y2="730.50" stroke="#000" stroke-width="1.0"/>
<line x1="914.00" y1="730.50" x2="910.80" y2="730.50" stroke="#000" stroke-width="1.0"/>
<line x1="200.00" y1="724.50" x2="203.20" y2="724.50" stroke="#000" stroke-width="1.0"/>
<line x1="914.00" y1="724.50" x2="910.80" y2="724.50" stroke="#000" stroke-width="1.0"/>
<line x1="200.00" y1="720.50" x2="203.20" y2="720.50" stroke="#000" stroke-width="1.0"/>
<line x1="914.00" y1="720.50" x2="910.80" y2="720.50" stroke="#000" stroke-width="1.0"/>
<line x1="200.00" y1="716.50" x2="203.20" y2="716.50" stroke="#000" stroke-width="1.0"/>
<line x1="914.00" y1="716.50" x2="910.80" y2="716.50" stroke="#000" stroke-width="1.0"/>
<line x1="200.00" y1="712.50" x2="203.20" y2="712.50" stroke="#000" stroke-width="1.0"/>
<line x1="914.00" y1="712.50" x2="910.80" y2="712.50" stroke="#000" stroke-width="1.0"/>
<line x1="200.00" y1="709.50" x2="203.20" y2="709.50" stroke="#000" stroke-width="1.0"/>
<line x1="914.00" y1="709.50" x2="910.80" y2="709.50" stroke="#000" stroke-width="1.0"/>
<line x1="200.00" y1="707.50" x2="205.30" y2="707.50" stroke="#000" stroke-width="1.1"/>
<line x1="914.00" y1="707.50" x2="908.70" y2="707.50" stroke="#000" stroke-width="1.1"/>
<line x1="200.00" y1="690.50" x2="203.20" y2="690.50" stroke="#000" stroke-width="1.0"/>
<line x1="914.00" y1="690.50" x2="910.80" y2="690.50" stroke="#000" stroke-width="1.0"/>
<line x1="200.00" y1="679.50" x2="203.20" y2="679.50" stroke="#000" stroke-width="1.0"/>
<line x1="914.00" y1="679.50" x2="910.80" y2="679.50" stroke="#000" stroke-width="1.0"/>
<line x1="200.00" y1="672.50" x2="203.20" y2="672.50" stroke="#000" stroke-width="1.0"/>
<line x1="914.00" y1="672.50" x2="910.80" y2="672.50" stroke="#000" stroke-width="1.0"/>
<line x1="200.00" y1="667.50" x2="203.20" y2="667.50" stroke="#000" stroke-width="1.0"/>
<line x1="914.00" y1="667.50" x2="910.80" y2="667.50" stroke="#000" stroke-width="1.0"/>
<line x1="200.00" y1="662.50" x2="203.20" y2="662.50" stroke="#000" stroke-width="1.0"/>
<line x1="914.00" y1="662.50" x2="910.80" y2="662.50" stroke="#000" stroke-width="1.0"/>
<line x1="200.00" y1="658.50" x2="203.20" y2="658.50" stroke="#000" stroke-width="1.0"/>
<line x1="914.00" y1="658.50" x2="910.80" y2="658.50" stroke="#000" stroke-width="1.0"/>
<line x1="200.00" y1="655.50" x2="203.20" y2="655.50" stroke="#000" stroke-width="1.0"/>
<line x1="914.00" y1="655.50" x2="910.80" y2="655.50" stroke="#000" stroke-width="1.0"/>
<line x1="200.00" y1="652.50" x2="203.20" y2="652.50" stroke="#000" stroke-width="1.0"/>
<line x1="914.00" y1="652.50" x2="910.80" y2="652.50" stroke="#000" stroke-width="1.0"/>
<line x1="200.00" y1="650.50" x2="205.30" y2="650.50" stroke="#000" stroke-width="1.1"/>
<line x1="914.00" y1="650.50" x2="908.70" y2="650.50" stroke="#000" stroke-width="1.1"/>
<line x1="200.00" y1="632.50" x2="203.20" y2="632.50" stroke="#000" stroke-width="1.0"/>
<line x1="914.00" y1="632.50" x2="910.80" y2="632.50" stroke="#000" stroke-width="1.0"/>
<line x1="200.00" y1="622.50" x2="203.20" y2="622.50" stroke="#000" stroke-width="1.0"/>
<line x1="914.00" y1="622.50" x2="910.80" y2="622.50" stroke="#000" stroke-width="1.0"/>
<line x1="200.00" y1="615.50" x2="203.20" y2="615.50" stroke="#000" stroke-width="1.0"/>
<line x1="914.00" y1="615.50" x2="910.80" y2="615.50" stroke="#000" stroke-width="1.0"/>
<line x1="200.00" y1="609.50" x2="203.20" y2="609.50" stroke="#000" stroke-width="1.0"/>
<line x1="914.00" y1="609.50" x2="910.80" y2="609.50" stroke="#000" stroke-width="1.0"/>
<line x1="200.00" y1="605.50" x2="203.20" y2="605.50" stroke="#000" stroke-width="1.0"/>
<line x1="914.00" y1="605.50" x2="910.80" y2="605.50" stroke="#000" stroke-width="1.0"/>
<line x1="200.00" y1="601.50" x2="203.20" y2="601.50" stroke="#000" stroke-width="1.0"/>
<line x1="914.00" y1="601.50" x2="910.80" y2="601.50" stroke="#000" stroke-width="1.0"/>
<line x1="200.00" y1="598.50" x2="203.20" y2="598.50" stroke="#000" stroke-width="1.0"/>
<line x1="914.00" y1="598.50" x2="910.80" y2="598.50" stroke="#000" stroke-width="1.0"/>
<line x1="200.00" y1="595.50" x2="203.20" y2="595.50" stroke="#000" stroke-width="1.0"/>
<line x1="914.00" y1="595.50" x2="910.80" y2="595.50" stroke="#000" stroke-width="1.0"/>
<line x1="200.00" y1="592.50" x2="205.30" y2="592.50" stroke="#000" stroke-width="1.1"/>
<line x1="914.00" y1="592.50" x2="908.70" y2="592.50" stroke="#000" stroke-width="1.1"/>
<line x1="200.00" y1="575.50" x2="203.20" y2="575.50" stroke="#000" stroke-width="1.0"/>
<line x1="914.00" y1="575.50" x2="910.80" y2="575.50" stroke="#000" stroke-width="1.0"/>
<line x1="200.00" y1="565.50" x2="203.20" y2="565.50" stroke="#000" stroke-width="1.0"/>
<line x1="914.00" y1="565.50" x2="910.80" y2="565.50" stroke="#000" stroke-width="1.0"/>
<line x1="200.00" y1="558.50" x2="203.20" y2="558.50" stroke="#000" stroke-width="1.0"/>
<line x1="914.00" y1="558.50" x2="910.80" y2="558.50" stroke="#000" stroke-width="1.0"/>
<line x1="200.00" y1="552.50" x2="203.20" y2="552.50" stroke="#000" stroke-width="1.0"/>
<line x1="914.00" y1="552.50" x2="910.80" y2="552.50" stroke="#000" stroke-width="1.0"/>
<line x1="200.00" y1="548.50" x2="203.20" y2="548.50" stroke="#000" stroke-width="1.0"/>
<line x1="914.00" y1="548.50" x2="910.80" y2="548.50" stroke="#000" stroke-width="1.0"/>
<line x1="200.00" y1="544.50" x2="203.20" y2="544.50" stroke="#000" stroke-width="1.0"/>
<line x1="914.00" y1="544.50" x2="910.80" y2="544.50" stroke="#000" stroke-width="1.0"/>
<line x1="200.00" y1="540.50" x2="203.20" y2="540.50" stroke="#000" stroke-width="1.0"/>
<line x1="914.00" y1="540.50" x2="910.80" y2="540.50" stroke="#000" stroke-width="1.0"/>
<line x1="200.00" y1="537.50" x2="203.20" y2="537.50" stroke="#000" stroke-width="1.0"/>
<line x1="914.00" y1="537.50" x2="910.80" y2="537.50" stroke="#000" stroke-width="1.0"/>
<line x1="200.00" y1="535.50" x2="205.30" y2="535.50" stroke="#000" stroke-width="1.1"/>
<line x1="914.00" y1="535.50" x2="908.70" y2="535.50" stroke="#000" stroke-width="1.1"/>
<line x1="200.00" y1="518.50" x2="203.20" y2="518.50" stroke="#000" stroke-width="1.0"/>
<line x1="914.00" y1="518.50" x2="910.80" y2="518.50" stroke="#000" stroke-width="1.0"/>
<line x1="200.00" y1="507.50" x2="203.20" y2="507.50" stroke="#000" stroke-width="1.0"/>
<line x1="914.00" y1="507.50" x2="910.80" y2="507.50" stroke="#000" stroke-width="1.0"/>
<line x1="200.00" y1="500.50" x2="203.20" y2="500.50" stroke="#000" stroke-width="1.0"/>
<line x1="914.00" y1="500.50" x2="910.80" y2="500.50" stroke="#000" stroke-width="1.0"/>
<line x1="200.00" y1="495.50" x2="203.20" y2="495.50" stroke="#000" stroke-width="1.0"/>
<line x1="914.00" y1="495.50" x2="910.80" y2="495.50" stroke="#000" stroke-width="1.0"/>
<line x1="200.00" y1="490.50" x2="203.20" y2="490.50" stroke="#000" stroke-width="1.0"/>
<line x1="914.00" y1="490.50" x2="910.80" y2="490.50" stroke="#000" stroke-width="1.0"/>
<line x1="200.00" y1="486.50" x2="203.20" y2="486.50" stroke="#000" stroke-width="1.0"/>
<line x1="914.00" y1="486.50" x2="910.80" y2="486.50" stroke="#000" stroke-width="1.0"/>
<line x1="200.00" y1="483.50" x2="203.20" y2="483.50" stroke="#000" stroke-width="1.0"/>
<line x1="914.00" y1="483.50" x2="910.80" y2="483.50" stroke="#000" stroke-width="1.0"/>
<line x1="200.00" y1="480.50" x2="203.20" y2="480.50" stroke="#000" stroke-width="1.0"/>
<line x1="914.00" y1="480.50" x2="910.80" y2="480.50" stroke="#000" stroke-width="1.0"/>
<line x1="200.00" y1="478.50" x2="205.30" y2="478.50" stroke="#000" stroke-width="1.1"/>
<line x1="914.00" y1="478.50" x2="908.70" y2="478.50" stroke="#000" stroke-width="1.1"/>
<rect x="200" y="478" width="714" height="344" fill="none" stroke="#000" stroke-width="2.0"/>
<text x="159.80" y="829.90" font-size="19.50" text-anchor="start" fill="#000">10<tspan dx="0" dy="-6.88" font-size="13.65">0</tspan></text>
<text x="159.80" y="772.57" font-size="19.50" text-anchor="start" fill="#000">10<tspan dx="0" dy="-6.88" font-size="13.65">1</tspan></text>
<text x="159.80" y="715.23" font-size="19.50" text-anchor="start" fill="#000">10<tspan dx="0" dy="-6.88" font-size="13.65">2</tspan></text>
<text x="159.80" y="657.90" font-size="19.50" text-anchor="start" fill="#000">10<tspan dx="0" dy="-6.88" font-size="13.65">3</tspan></text>
<text x="159.80" y="600.57" font-size="19.50" text-anchor="start" fill="#000">10<tspan dx="0" dy="-6.88" font-size="13.65">4</tspan></text>
<text x="159.80" y="543.23" font-size="19.50" text-anchor="start" fill="#000">10<tspan dx="0" dy="-6.88" font-size="13.65">5</tspan></text>
<text x="159.80" y="485.90" font-size="19.50" text-anchor="start" fill="#000">10<tspan dx="0" dy="-6.88" font-size="13.65">6</tspan></text>
<text x="236.00" y="512.20" font-size="24.00" text-anchor="start" fill="#000" xml:space="preserve">Geostationary orbit:   GOES 15,  <tspan fill="#f00">Model</tspan></text>
<text x="112.90" y="651.70" font-size="24.00" text-anchor="middle" fill="#000" transform="rotate(-90 112.90 651.70)">&gt;2.0 MeV Electron Flux</text>
<g transform="translate(145.70 742.90) rotate(-90)" fill="#000">
<text x="-2.06" y="0.00" font-size="24.00">( cm</text>
<text x="51.30" y="-9.90" font-size="16.80">−2</text>
<text x="80.60" y="0.00" font-size="24.00">s</text>
<text x="92.70" y="-9.90" font-size="16.80">−1</text>
<text x="122.00" y="0.00" font-size="24.00">sr</text>
<text x="144.90" y="-9.90" font-size="16.80">−1</text>
<text x="179.00" y="0.00" font-size="24.00">)</text>
</g>
<rect x="200.00" y="845.00" width="714.00" height="172.00" fill="#fff"/>
<clipPath id="c3"><rect x="200" y="845" width="714" height="172"/></clipPath>
<g clip-path="url(#c3)">
<rect x="199.00" y="979.00" width="8.00" height="38.00" fill="#008000" shape-rendering="crispEdges"/>
<rect x="210.00" y="986.00" width="9.00" height="31.00" fill="#008000" shape-rendering="crispEdges"/>
<rect x="221.00" y="979.00" width="9.00" height="38.00" fill="#008000" shape-rendering="crispEdges"/>
<rect x="232.00" y="998.00" width="9.00" height="19.00" fill="#008000" shape-rendering="crispEdges"/>
<rect x="243.00" y="1005.00" width="9.00" height="12.00" fill="#008000" shape-rendering="crispEdges"/>
<rect x="254.00" y="998.00" width="9.00" height="19.00" fill="#008000" shape-rendering="crispEdges"/>
<rect x="266.00" y="979.00" width="8.00" height="38.00" fill="#008000" shape-rendering="crispEdges"/>
<rect x="277.00" y="941.00" width="9.00" height="76.00" fill="#bfbf00" shape-rendering="crispEdges"/>
<rect x="288.00" y="966.00" width="9.00" height="51.00" fill="#008000" shape-rendering="crispEdges"/>
<rect x="299.00" y="973.00" width="9.00" height="44.00" fill="#008000" shape-rendering="crispEdges"/>
<rect x="310.00" y="979.00" width="9.00" height="38.00" fill="#008000" shape-rendering="crispEdges"/>
<rect x="321.00" y="973.00" width="9.00" height="44.00" fill="#008000" shape-rendering="crispEdges"/>
<rect x="333.00" y="986.00" width="8.00" height="31.00" fill="#008000" shape-rendering="crispEdges"/>
<rect x="344.00" y="979.00" width="9.00" height="38.00" fill="#008000" shape-rendering="crispEdges"/>
<rect x="355.00" y="960.00" width="9.00" height="57.00" fill="#bfbf00" shape-rendering="crispEdges"/>
<rect x="366.00" y="992.00" width="9.00" height="25.00" fill="#008000" shape-rendering="crispEdges"/>
<rect x="377.00" y="973.00" width="9.00" height="44.00" fill="#008000" shape-rendering="crispEdges"/>
<rect x="388.00" y="966.00" width="9.00" height="51.00" fill="#008000" shape-rendering="crispEdges"/>
<rect x="399.00" y="998.00" width="9.00" height="19.00" fill="#008000" shape-rendering="crispEdges"/>
<rect x="411.00" y="992.00" width="9.00" height="25.00" fill="#008000" shape-rendering="crispEdges"/>
<rect x="422.00" y="1005.00" width="9.00" height="12.00" fill="#008000" shape-rendering="crispEdges"/>
<rect x="433.00" y="1011.00" width="9.00" height="6.00" fill="#008000" shape-rendering="crispEdges"/>
<rect x="444.00" y="998.00" width="9.00" height="19.00" fill="#008000" shape-rendering="crispEdges"/>
<rect x="455.00" y="992.00" width="9.00" height="25.00" fill="#008000" shape-rendering="crispEdges"/>
<rect x="466.00" y="998.00" width="9.00" height="19.00" fill="#008000" shape-rendering="crispEdges"/>
<rect x="478.00" y="992.00" width="9.00" height="25.00" fill="#008000" shape-rendering="crispEdges"/>
<rect x="489.00" y="986.00" width="9.00" height="31.00" fill="#008000" shape-rendering="crispEdges"/>
<rect x="500.00" y="998.00" width="9.00" height="19.00" fill="#008000" shape-rendering="crispEdges"/>
<rect x="511.00" y="966.00" width="9.00" height="51.00" fill="#008000" shape-rendering="crispEdges"/>
<rect x="522.00" y="954.00" width="9.00" height="63.00" fill="#bfbf00" shape-rendering="crispEdges"/>
<rect x="533.00" y="979.00" width="9.00" height="38.00" fill="#008000" shape-rendering="crispEdges"/>
<rect x="545.00" y="966.00" width="9.00" height="51.00" fill="#008000" shape-rendering="crispEdges"/>
<rect x="556.00" y="979.00" width="9.00" height="38.00" fill="#008000" shape-rendering="crispEdges"/>
<rect x="567.00" y="973.00" width="9.00" height="44.00" fill="#008000" shape-rendering="crispEdges"/>
<rect x="578.00" y="1011.00" width="9.00" height="6.00" fill="#008000" shape-rendering="crispEdges"/>
<rect x="589.00" y="1005.00" width="9.00" height="12.00" fill="#008000" shape-rendering="crispEdges"/>
<rect x="600.00" y="998.00" width="9.00" height="19.00" fill="#008000" shape-rendering="crispEdges"/>
<rect x="612.00" y="1005.00" width="9.00" height="12.00" fill="#008000" shape-rendering="crispEdges"/>
<rect x="623.00" y="1011.00" width="9.00" height="6.00" fill="#008000" shape-rendering="crispEdges"/>
<rect x="634.00" y="973.00" width="9.00" height="44.00" fill="#008000" shape-rendering="crispEdges"/>
<rect x="645.00" y="979.00" width="9.00" height="38.00" fill="#008000" shape-rendering="crispEdges"/>
<rect x="656.00" y="966.00" width="9.00" height="51.00" fill="#008000" shape-rendering="crispEdges"/>
<rect x="667.00" y="966.00" width="9.00" height="51.00" fill="#008000" shape-rendering="crispEdges"/>
<rect x="679.00" y="947.00" width="9.00" height="70.00" fill="#bfbf00" shape-rendering="crispEdges"/>
<rect x="690.00" y="954.00" width="9.00" height="63.00" fill="#bfbf00" shape-rendering="crispEdges"/>
<rect x="701.00" y="960.00" width="9.00" height="57.00" fill="#bfbf00" shape-rendering="crispEdges"/>
<rect x="712.00" y="998.00" width="9.00" height="19.00" fill="#008000" shape-rendering="crispEdges"/>
<rect x="723.00" y="979.00" width="9.00" height="38.00" fill="#008000" shape-rendering="crispEdges"/>
<rect x="734.00" y="966.00" width="9.00" height="51.00" fill="#008000" shape-rendering="crispEdges"/>
<rect x="746.00" y="947.00" width="9.00" height="70.00" fill="#bfbf00" shape-rendering="crispEdges"/>
<rect x="757.00" y="973.00" width="9.00" height="44.00" fill="#008000" shape-rendering="crispEdges"/>
<rect x="768.00" y="960.00" width="9.00" height="57.00" fill="#bfbf00" shape-rendering="crispEdges"/>
<rect x="779.00" y="1005.00" width="9.00" height="12.00" fill="#008000" shape-rendering="crispEdges"/>
<rect x="790.00" y="1005.00" width="9.00" height="12.00" fill="#008000" shape-rendering="crispEdges"/>
<rect x="801.00" y="973.00" width="9.00" height="44.00" fill="#008000" shape-rendering="crispEdges"/>
<rect x="813.00" y="992.00" width="8.00" height="25.00" fill="#008000" shape-rendering="crispEdges"/>
<rect x="824.00" y="960.00" width="9.00" height="57.00" fill="#bfbf00" shape-rendering="crispEdges"/>
<rect x="835.00" y="979.00" width="9.00" height="38.00" fill="#008000" shape-rendering="crispEdges"/>
<rect x="846.00" y="979.00" width="9.00" height="38.00" fill="#008000" shape-rendering="crispEdges"/>
<rect x="857.00" y="979.00" width="9.00" height="38.00" fill="#008000" shape-rendering="crispEdges"/>
<rect x="868.00" y="979.00" width="9.00" height="38.00" fill="#008000" shape-rendering="crispEdges"/>
<rect x="880.00" y="979.00" width="8.00" height="38.00" fill="#008000" shape-rendering="crispEdges"/>
<rect x="891.00" y="979.00" width="9.00" height="38.00" fill="#008000" shape-rendering="crispEdges"/>
<rect x="902.00" y="979.00" width="9.00" height="38.00" fill="#008000" shape-rendering="crispEdges"/>
</g>
<text x="875.00" y="935.40" font-size="30.50" text-anchor="middle" fill="#808080" transform="rotate(-90 875.00 935.40)" fill-opacity="0.23">Forecast</text>
<line x1="825.00" y1="845.00" x2="825.00" y2="1017.00" stroke="#1f77b4" stroke-width="2.2" stroke-dasharray="2.3 3.21"/>
<line x1="248.50" y1="1017.00" x2="248.50" y2="1011.70" stroke="#000" stroke-width="1.1"/>
<line x1="337.50" y1="1017.00" x2="337.50" y2="1011.70" stroke="#000" stroke-width="1.1"/>
<line x1="427.50" y1="1017.00" x2="427.50" y2="1011.70" stroke="#000" stroke-width="1.1"/>
<line x1="516.50" y1="1017.00" x2="516.50" y2="1011.70" stroke="#000" stroke-width="1.1"/>
<line x1="605.50" y1="1017.00" x2="605.50" y2="1011.70" stroke="#000" stroke-width="1.1"/>
<line x1="694.50" y1="1017.00" x2="694.50" y2="1011.70" stroke="#000" stroke-width="1.1"/>
<line x1="784.50" y1="1017.00" x2="784.50" y2="1011.70" stroke="#000" stroke-width="1.1"/>
<line x1="873.50" y1="1017.00" x2="873.50" y2="1011.70" stroke="#000" stroke-width="1.1"/>
<line x1="200.00" y1="1017.50" x2="205.30" y2="1017.50" stroke="#000" stroke-width="1.1"/>
<line x1="914.00" y1="1017.50" x2="908.70" y2="1017.50" stroke="#000" stroke-width="1.1"/>
<line x1="200.00" y1="979.50" x2="205.30" y2="979.50" stroke="#000" stroke-width="1.1"/>
<line x1="914.00" y1="979.50" x2="908.70" y2="979.50" stroke="#000" stroke-width="1.1"/>
<line x1="200.00" y1="941.50" x2="205.30" y2="941.50" stroke="#000" stroke-width="1.1"/>
<line x1="914.00" y1="941.50" x2="908.70" y2="941.50" stroke="#000" stroke-width="1.1"/>
<line x1="200.00" y1="902.50" x2="205.30" y2="902.50" stroke="#000" stroke-width="1.1"/>
<line x1="914.00" y1="902.50" x2="908.70" y2="902.50" stroke="#000" stroke-width="1.1"/>
<line x1="200.00" y1="864.50" x2="205.30" y2="864.50" stroke="#000" stroke-width="1.1"/>
<line x1="914.00" y1="864.50" x2="908.70" y2="864.50" stroke="#000" stroke-width="1.1"/>
<rect x="200" y="845" width="714" height="172" fill="none" stroke="#000" stroke-width="2.0"/>
<text x="195.70" y="1025.20" font-size="19.50" text-anchor="end" fill="#000">0</text>
<text x="195.70" y="987.00" font-size="19.50" text-anchor="end" fill="#000">2</text>
<text x="195.70" y="948.80" font-size="19.50" text-anchor="end" fill="#000">4</text>
<text x="195.70" y="910.60" font-size="19.50" text-anchor="end" fill="#000">6</text>
<text x="195.70" y="872.40" font-size="19.50" text-anchor="end" fill="#000">8</text>
<text x="247.97" y="1037.20" font-size="19.50" text-anchor="middle" fill="#000" letter-spacing="0.6">08</text>
<text x="337.28" y="1037.20" font-size="19.50" text-anchor="middle" fill="#000" letter-spacing="0.6">09</text>
<text x="426.59" y="1037.20" font-size="19.50" text-anchor="middle" fill="#000" letter-spacing="0.6">10</text>
<text x="515.90" y="1037.20" font-size="19.50" text-anchor="middle" fill="#000" letter-spacing="0.6">11</text>
<text x="605.21" y="1037.20" font-size="19.50" text-anchor="middle" fill="#000" letter-spacing="0.6">12</text>
<text x="694.52" y="1037.20" font-size="19.50" text-anchor="middle" fill="#000" letter-spacing="0.6">13</text>
<text x="783.83" y="1037.20" font-size="19.50" text-anchor="middle" fill="#000" letter-spacing="0.6">14</text>
<text x="873.14" y="1037.20" font-size="19.50" text-anchor="middle" fill="#000" letter-spacing="0.6">15</text>
<text x="557.40" y="1064.90" font-size="24.00" text-anchor="middle" fill="#000" letter-spacing="0.14">February 2019 (UT)</text>
<text x="173.00" y="934.90" font-size="24.00" text-anchor="middle" fill="#000" transform="rotate(-90 173.00 934.90)">Kp</text>
<rect x="207.6" y="852.6" width="87.9" height="66.6" rx="2.8" fill="#fff" fill-opacity="0.8" stroke="#ccc" stroke-width="1.3"/>
<rect x="213.10" y="858.80" width="27.80" height="11.20" fill="#008000"/>
<text x="251.90" y="868.90" font-size="13.60" text-anchor="start" fill="#000">Kp&lt;3</text>
<rect x="213.10" y="879.70" width="27.80" height="11.20" fill="#bfbf00"/>
<text x="251.90" y="889.80" font-size="13.60" text-anchor="start" fill="#000">Kp&lt;5</text>
<rect x="213.10" y="900.60" width="27.80" height="11.20" fill="#f00"/>
<text x="251.90" y="910.70" font-size="13.60" text-anchor="start" fill="#000">Kp&gt;5</text>
<rect x="1205.00" y="110.00" width="595.00" height="345.00" fill="#fff"/>
<line x1="1205.00" y1="282.50" x2="1800.00" y2="282.50" stroke="#000" stroke-width="2.0" stroke-dasharray="2.08 3.43"/>
<line x1="1726.00" y1="110.00" x2="1726.00" y2="455.00" stroke="#1f77b4" stroke-width="2.2" stroke-dasharray="2.3 3.21"/>
<path d="M1206.5,241.0 L1206.8,260.0 L1207.2,290.0 L1207.5,286.0 L1207.8,293.6 L1208.1,294.2 L1208.5,294.5 L1208.8,294.8 L1209.1,294.4 L1209.5,293.9 L1209.8,295.0 L1210.1,294.5 L1210.5,294.3 L1210.8,294.7 L1211.1,294.8 L1211.4,294.5 L1211.8,294.3 L1212.1,294.3 L1212.4,294.8 L1212.8,294.4 L1213.1,294.7 L1213.4,293.7 L1213.8,294.3 L1214.1,294.3 L1214.4,294.3 L1214.7,298.2 L1215.1,289.6 L1215.4,291.4 L1215.7,292.5 L1216.1,300.6 L1216.4,304.9 L1216.7,306.2 L1217.1,307.5 L1217.4,300.8 L1217.7,279.0 L1218.0,291.2 L1218.4,290.8 L1218.7,285.2 L1219.0,306.5 L1219.4,281.0 L1219.7,262.0 L1220.0,296.6 L1220.4,317.6 L1220.7,317.6 L1221.0,294.4 L1221.3,305.0 L1221.7,277.1 L1222.0,255.5 L1222.3,317.6 L1222.7,317.6 L1223.0,317.6 L1223.3,317.6 L1223.7,317.6 L1224.0,317.6 L1224.3,317.6 L1224.6,317.6 L1225.0,317.6 L1225.3,284.9 L1225.6,318.6 L1226.0,299.1 L1226.3,278.7 L1226.6,318.9 L1227.0,278.7 L1227.3,259.7 L1227.6,266.7 L1227.9,311.7 L1228.3,325.2 L1228.6,244.0 L1228.9,326.1 L1229.3,326.3 L1229.6,326.5 L1229.9,326.7 L1230.3,327.0 L1230.6,327.2 L1230.9,288.2 L1231.2,327.0 L1231.6,327.5 L1231.9,325.6 L1232.2,325.0 L1232.6,324.3 L1232.9,323.7 L1233.2,313.8 L1233.6,307.3 L1233.9,321.7 L1234.2,257.1 L1234.5,319.5 L1234.9,317.9 L1235.2,316.2 L1235.5,314.6 L1235.9,312.9 L1236.2,274.4 L1236.5,263.5 L1236.9,308.0 L1237.2,306.3 L1237.5,278.4 L1237.8,303.0 L1238.2,301.4 L1238.5,293.9 L1238.8,298.1 L1239.2,252.2 L1239.5,296.4 L1239.8,296.4 L1240.2,296.4 L1240.5,296.4 L1240.8,296.4 L1241.1,296.4 L1241.5,296.4 L1241.8,289.4 L1242.1,296.4 L1242.5,263.7 L1242.8,289.7 L1243.1,290.1 L1243.5,233.4 L1243.8,296.8 L1244.1,272.8 L1244.4,296.3 L1244.8,298.9 L1245.1,263.6 L1245.4,265.9 L1245.8,255.6 L1246.1,261.8 L1246.4,280.4 L1246.8,283.3 L1247.1,304.0 L1247.4,257.1 L1247.7,263.6 L1248.1,283.5 L1248.4,259.2 L1248.7,295.3 L1249.1,282.5 L1249.4,289.9 L1249.7,284.1 L1250.1,268.9 L1250.4,280.8 L1250.7,263.6 L1251.0,270.7 L1251.4,307.8 L1251.7,275.2 L1252.0,306.0 L1252.4,305.5 L1252.7,305.1 L1253.0,258.7 L1253.4,303.3 L1253.7,303.1 L1254.0,302.2 L1254.3,301.4 L1254.7,300.6 L1255.0,289.4 L1255.3,296.8 L1255.7,269.3 L1256.0,267.1 L1256.3,236.6 L1256.7,236.9 L1257.0,237.1 L1257.3,237.4 L1257.6,237.6 L1258.0,237.8 L1258.3,238.1 L1258.6,238.3 L1259.0,238.6 L1259.3,238.8 L1259.6,239.1 L1260.0,260.5 L1260.3,250.5 L1260.6,250.9 L1260.9,254.8 L1261.3,272.2 L1261.6,289.2 L1261.9,268.5 L1262.3,268.7 L1262.6,296.1 L1262.9,284.0 L1263.3,303.8 L1263.6,284.8 L1263.9,302.0 L1264.2,272.9 L1264.6,300.9 L1264.9,281.3 L1265.2,271.8 L1265.6,299.5 L1265.9,273.0 L1266.2,296.5 L1266.6,312.5 L1266.9,271.1 L1267.2,270.9 L1267.5,283.1 L1267.9,274.8 L1268.2,311.4 L1268.5,270.2 L1268.9,271.5 L1269.2,332.4 L1269.5,275.1 L1269.9,276.9 L1270.2,278.7 L1270.5,280.5 L1270.8,282.4 L1271.2,284.2 L1271.5,295.8 L1271.8,288.2 L1272.2,299.3 L1272.5,332.4 L1272.8,302.8 L1273.2,317.5 L1273.5,315.4 L1273.8,279.6 L1274.1,278.1 L1274.5,316.9 L1274.8,315.0 L1275.1,273.5 L1275.5,307.9 L1275.8,312.4 L1276.1,295.3 L1276.5,293.3 L1276.8,280.7 L1277.1,285.5 L1277.4,283.7 L1277.8,298.5 L1278.1,311.3 L1278.4,288.2 L1278.8,306.5 L1279.1,296.5 L1279.4,288.2 L1279.8,298.3 L1280.1,297.7 L1280.4,301.3 L1280.7,299.6 L1281.1,284.8 L1281.4,272.1 L1281.7,268.5 L1282.1,280.2 L1282.4,299.2 L1282.7,266.4 L1283.1,261.9 L1283.4,260.2 L1283.7,266.0 L1284.0,256.3 L1284.4,268.4 L1284.7,311.1 L1285.0,264.5 L1285.4,286.4 L1285.7,270.5 L1286.0,278.1 L1286.4,270.5 L1286.7,268.5 L1287.0,309.0 L1287.3,310.0 L1287.7,298.8 L1288.0,309.4 L1288.3,312.9 L1288.7,313.9 L1289.0,307.3 L1289.3,315.9 L1289.7,302.9 L1290.0,240.7 L1290.3,317.8 L1290.6,318.0 L1291.0,295.8 L1291.3,247.3 L1291.6,247.7 L1292.0,296.4 L1292.3,285.8 L1292.6,314.7 L1293.0,283.1 L1293.3,232.9 L1293.6,293.9 L1293.9,234.3 L1294.3,234.9 L1294.6,265.2 L1294.9,236.2 L1295.3,265.2 L1295.6,237.5 L1295.9,263.2 L1296.3,241.6 L1296.6,239.4 L1296.9,240.0 L1297.2,240.7 L1297.6,241.3 L1297.9,242.0 L1298.2,242.4 L1298.6,242.6 L1298.9,325.8 L1299.2,242.9 L1299.6,243.1 L1299.9,243.3 L1300.2,243.4 L1300.5,243.6 L1300.9,299.1 L1301.2,244.0 L1301.5,253.1 L1301.9,276.0 L1302.2,306.7 L1302.5,314.9 L1302.9,302.8 L1303.2,300.5 L1303.5,283.5 L1303.8,282.8 L1304.2,297.8 L1304.5,288.2 L1304.8,304.3 L1305.2,316.0 L1305.5,316.0 L1305.8,296.7 L1306.2,273.0 L1306.5,269.7 L1306.8,266.5 L1307.1,263.1 L1307.5,298.4 L1307.8,255.5 L1308.1,314.8 L1308.5,316.0 L1308.8,262.1 L1309.1,272.1 L1309.5,228.0 L1309.8,258.5 L1310.1,316.0 L1310.4,285.8 L1310.8,243.4 L1311.1,284.9 L1311.4,302.0 L1311.8,291.9 L1312.1,258.7 L1312.4,307.5 L1312.8,316.0 L1313.1,313.8 L1313.4,313.2 L1313.7,312.5 L1314.1,273.2 L1314.4,279.3 L1314.7,289.6 L1315.1,262.2 L1315.4,276.7 L1315.7,245.5 L1316.1,241.5 L1316.4,249.8 L1316.7,242.0 L1317.0,242.3 L1317.4,259.4 L1317.7,286.3 L1318.0,304.1 L1318.4,275.5 L1318.7,307.8 L1319.0,284.6 L1319.4,244.0 L1319.7,307.5 L1320.0,307.8 L1320.3,252.4 L1320.7,306.0 L1321.0,306.2 L1321.3,305.8 L1321.7,305.5 L1322.0,305.2 L1322.3,304.9 L1322.7,304.5 L1323.0,304.2 L1323.3,292.6 L1323.6,295.0 L1324.0,295.8 L1324.3,237.8 L1324.6,303.1 L1325.0,292.3 L1325.3,303.4 L1325.6,303.6 L1326.0,303.8 L1326.3,291.8 L1326.6,304.1 L1326.9,268.0 L1327.3,261.2 L1327.6,244.0 L1327.9,285.2 L1328.3,305.3 L1328.6,305.6 L1328.9,305.9 L1329.3,304.9 L1329.6,306.6 L1329.9,306.9 L1330.2,288.6 L1330.6,255.9 L1330.9,255.5 L1331.2,278.1 L1331.6,275.2 L1331.9,260.9 L1332.2,262.5 L1332.6,264.2 L1332.9,265.8 L1333.2,279.1 L1333.5,269.1 L1333.9,285.1 L1334.2,271.8 L1334.5,297.9 L1334.9,317.6 L1335.2,314.3 L1335.5,310.6 L1335.9,317.6 L1336.2,301.4 L1336.5,278.2 L1336.8,274.5 L1337.2,288.7 L1337.5,269.5 L1337.8,271.5 L1338.2,269.1 L1338.5,268.9 L1338.8,268.7 L1339.2,268.5 L1339.5,268.3 L1339.8,317.6 L1340.1,281.7 L1340.5,273.4 L1340.8,267.6 L1341.1,267.5 L1341.5,267.3 L1341.8,282.3 L1342.1,266.9 L1342.5,274.3 L1342.8,304.4 L1343.1,301.1 L1343.4,275.6 L1343.8,286.8 L1344.1,255.9 L1344.4,253.9 L1344.8,252.2 L1345.1,272.9 L1345.4,304.5 L1345.8,262.9 L1346.1,287.0 L1346.4,274.6 L1346.7,285.5 L1347.1,287.5 L1347.4,299.2 L1347.7,294.3 L1348.1,246.9 L1348.4,272.6 L1348.7,263.5 L1349.1,249.2 L1349.4,249.9 L1349.7,250.6 L1350.0,251.2 L1350.4,251.9 L1350.7,252.6 L1351.0,255.2 L1351.4,253.8 L1351.7,278.4 L1352.0,279.8 L1352.4,266.2 L1352.7,256.8 L1353.0,266.2 L1353.3,287.6 L1353.7,248.9 L1354.0,251.0 L1354.3,258.1 L1354.7,259.1 L1355.0,282.8 L1355.3,276.4 L1355.7,297.7 L1356.0,312.5 L1356.3,307.7 L1356.6,306.1 L1357.0,273.5 L1357.3,316.4 L1357.6,288.1 L1358.0,317.4 L1358.3,287.7 L1358.6,292.6 L1359.0,288.8 L1359.3,291.4 L1359.6,273.8 L1359.9,288.6 L1360.3,264.8 L1360.6,256.1 L1360.9,253.8 L1361.3,259.1 L1361.6,321.7 L1361.9,254.9 L1362.3,255.3 L1362.6,273.9 L1362.9,291.5 L1363.2,290.4 L1363.6,298.2 L1363.9,274.2 L1364.2,257.9 L1364.6,258.1 L1364.9,258.4 L1365.2,258.8 L1365.6,259.1 L1365.9,259.4 L1366.2,281.1 L1366.5,277.1 L1366.9,280.1 L1367.2,262.8 L1367.5,261.1 L1367.9,261.4 L1368.2,261.7 L1368.5,262.0 L1368.9,262.5 L1369.2,262.9 L1369.5,263.3 L1369.8,263.7 L1370.2,264.2 L1370.5,275.4 L1370.8,286.4 L1371.2,267.7 L1371.5,265.8 L1371.8,266.1 L1372.2,303.1 L1372.5,290.1 L1372.8,270.2 L1373.1,271.4 L1373.5,272.7 L1373.8,274.4 L1374.1,278.0 L1374.5,291.5 L1374.8,277.6 L1375.1,278.4 L1375.5,276.5 L1375.8,304.5 L1376.1,303.1 L1376.4,302.6 L1376.8,302.2 L1377.1,301.7 L1377.4,268.5 L1377.8,302.1 L1378.1,303.1 L1378.4,304.0 L1378.8,301.6 L1379.1,268.0 L1379.4,269.4 L1379.7,276.0 L1380.1,264.1 L1380.4,292.4 L1380.7,310.5 L1381.1,306.4 L1381.4,253.0 L1381.7,296.4 L1382.1,312.7 L1382.4,309.0 L1382.7,307.6 L1383.0,292.9 L1383.4,268.0 L1383.7,281.5 L1384.0,301.8 L1384.4,300.3 L1384.7,298.9 L1385.0,282.0 L1385.4,294.9 L1385.7,255.5 L1386.0,294.3 L1386.3,293.9 L1386.7,293.5 L1387.0,276.1 L1387.3,254.5 L1387.7,254.3 L1388.0,254.3 L1388.3,262.7 L1388.7,269.2 L1389.0,274.1 L1389.3,290.5 L1389.6,290.1 L1390.0,275.7 L1390.3,277.1 L1390.6,256.5 L1391.0,288.5 L1391.3,252.2 L1391.6,262.5 L1392.0,287.5 L1392.3,261.8 L1392.6,265.1 L1392.9,274.1 L1393.3,275.1 L1393.6,285.5 L1393.9,285.1 L1394.3,284.7 L1394.6,284.3 L1394.9,283.9 L1395.3,283.5 L1395.6,257.1 L1395.9,284.6 L1396.2,276.7 L1396.6,280.6 L1396.9,287.3 L1397.2,274.3 L1397.6,262.2 L1397.9,268.1 L1398.2,271.4 L1398.6,291.0 L1398.9,289.8 L1399.2,288.5 L1399.5,266.9 L1399.9,295.2 L1400.2,286.1 L1400.5,276.9 L1400.9,287.8 L1401.2,281.3 L1401.5,277.1 L1401.9,279.3 L1402.2,268.9 L1402.5,261.8 L1402.8,282.5 L1403.2,266.2 L1403.5,288.5 L1403.8,260.2 L1404.2,271.2 L1404.5,282.9 L1404.8,277.6 L1405.2,257.1 L1405.5,261.8 L1405.8,302.9 L1406.1,278.1 L1406.5,287.9 L1406.8,300.5 L1407.1,298.3 L1407.5,287.7 L1407.8,290.5 L1408.1,286.9 L1408.5,283.0 L1408.8,289.2 L1409.1,281.1 L1409.4,275.1 L1409.8,281.5 L1410.1,282.6 L1410.4,294.3 L1410.8,288.5 L1411.1,288.5 L1411.4,285.2 L1411.8,278.6 L1412.1,274.7 L1412.4,279.0 L1412.7,269.7 L1413.1,282.7 L1413.4,268.5 L1413.7,269.2 L1414.1,270.0 L1414.4,270.8 L1414.7,274.4 L1415.1,272.4 L1415.4,280.5 L1415.7,274.0 L1416.0,274.8 L1416.4,279.0 L1416.7,276.4 L1417.0,280.9 L1417.4,285.4 L1417.7,278.4 L1418.0,279.0 L1418.4,279.4 L1418.7,281.8 L1419.0,280.2 L1419.3,280.6 L1419.7,286.0 L1420.0,281.4 L1420.3,281.9 L1420.7,282.3 L1421.0,282.7 L1421.3,294.4 L1421.7,285.6 L1422.0,283.9 L1422.3,284.3 L1422.6,286.1 L1423.0,286.4 L1423.3,299.2 L1423.6,287.9 L1424.0,286.5 L1424.3,286.8 L1424.6,296.4 L1425.0,295.1 L1425.3,281.9 L1425.6,282.4 L1425.9,281.1 L1426.3,278.1 L1426.6,276.8 L1426.9,275.5 L1427.3,274.2 L1427.6,273.0 L1427.9,271.7 L1428.3,290.8 L1428.6,290.1 L1428.9,281.2 L1429.2,267.5 L1429.6,304.3 L1429.9,299.9 L1430.2,281.2 L1430.6,261.2 L1430.9,285.8 L1431.2,306.2 L1431.6,305.3 L1431.9,296.6 L1432.2,304.6 L1432.5,304.3 L1432.9,303.9 L1433.2,303.6 L1433.5,303.3 L1433.9,301.8 L1434.2,294.0 L1434.5,286.7 L1434.9,302.0 L1435.2,301.6 L1435.5,286.5 L1435.8,301.5 L1436.2,301.7 L1436.5,301.9 L1436.8,300.1 L1437.2,302.4 L1437.5,302.6 L1437.8,302.8 L1438.2,292.4 L1438.5,288.5 L1438.8,295.4 L1439.1,289.7 L1439.5,289.2 L1439.8,295.9 L1440.1,299.5 L1440.5,289.8 L1440.8,299.3 L1441.1,296.4 L1441.5,293.9 L1441.8,294.8 L1442.1,297.8 L1442.4,307.0 L1442.8,307.6 L1443.1,307.4 L1443.4,307.3 L1443.8,308.7 L1444.1,303.8 L1444.4,305.0 L1444.8,300.8 L1445.1,305.2 L1445.4,296.4 L1445.7,296.6 L1446.1,311.1 L1446.4,304.2 L1446.7,294.2 L1447.1,288.7 L1447.4,283.7 L1447.7,295.3 L1448.1,286.1 L1448.4,277.5 L1448.7,275.9 L1449.0,278.7 L1449.4,311.1 L1449.7,278.6 L1450.0,298.0 L1450.4,288.9 L1450.7,287.8 L1451.0,297.5 L1451.4,284.3 L1451.7,292.6 L1452.0,285.9 L1452.3,306.1 L1452.7,295.2 L1453.0,303.3 L1453.3,292.0 L1453.7,288.2 L1454.0,290.9 L1454.3,282.1 L1454.7,283.8 L1455.0,279.7 L1455.3,281.3 L1455.6,295.9 L1456.0,260.4 L1456.3,285.7 L1456.6,298.0 L1457.0,305.3 L1457.3,287.2 L1457.6,272.0 L1458.0,269.0 L1458.3,299.0 L1458.6,273.4 L1458.9,273.3 L1459.3,274.8 L1459.6,276.2 L1459.9,278.4 L1460.3,277.6 L1460.6,307.8 L1460.9,274.6 L1461.3,273.1 L1461.6,271.6 L1461.9,270.2 L1462.2,268.7 L1462.6,267.2 L1462.9,265.7 L1463.2,263.6 L1463.6,263.7 L1463.9,263.7 L1464.2,263.8 L1464.6,263.9 L1464.9,279.7 L1465.2,278.3 L1465.5,284.2 L1465.9,264.1 L1466.2,266.2 L1466.5,268.7 L1466.9,274.8 L1467.2,283.0 L1467.5,264.5 L1467.9,306.1 L1468.2,310.4 L1468.5,296.3 L1468.8,309.4 L1469.2,305.2 L1469.5,280.1 L1469.8,304.5 L1470.2,297.9 L1470.5,328.9 L1470.8,327.4 L1471.2,334.1 L1471.5,294.7 L1471.8,335.3 L1472.1,337.3 L1472.5,319.9 L1472.8,329.6 L1473.1,296.0 L1473.5,321.1 L1473.8,333.4 L1474.1,251.4 L1474.5,249.6 L1474.8,263.1 L1475.1,297.1 L1475.4,317.9 L1475.8,326.6 L1476.1,334.7 L1476.4,308.3 L1476.8,325.2 L1477.1,277.0 L1477.4,237.9 L1477.8,236.6 L1478.1,240.6 L1478.4,244.5 L1478.7,260.9 L1479.1,282.8 L1479.4,284.5 L1479.7,309.9 L1480.1,307.0 L1480.4,273.8 L1480.7,272.4 L1481.1,300.8 L1481.4,280.0 L1481.7,278.5 L1482.0,277.1 L1482.4,275.8 L1482.7,274.4 L1483.0,273.0 L1483.4,277.8 L1483.7,287.5 L1484.0,268.9 L1484.4,271.3 L1484.7,291.6 L1485.0,290.3 L1485.3,272.6 L1485.7,273.2 L1486.0,264.7 L1486.3,259.5 L1486.7,292.7 L1487.0,276.7 L1487.3,286.5 L1487.7,252.3 L1488.0,255.0 L1488.3,248.9 L1488.6,247.2 L1489.0,269.5 L1489.3,293.8 L1489.6,285.8 L1490.0,240.3 L1490.3,238.3 L1490.6,239.1 L1491.0,320.9 L1491.3,241.1 L1491.6,272.8 L1491.9,255.2 L1492.3,244.0 L1492.6,245.0 L1492.9,246.0 L1493.3,247.0 L1493.6,260.9 L1493.9,290.4 L1494.3,296.0 L1494.6,250.5 L1494.9,248.7 L1495.2,247.4 L1495.6,253.0 L1495.9,252.1 L1496.2,287.0 L1496.6,245.8 L1496.9,266.2 L1497.2,272.5 L1497.6,278.6 L1497.9,237.1 L1498.2,235.8 L1498.5,242.9 L1498.9,232.5 L1499.2,234.4 L1499.5,238.0 L1499.9,241.6 L1500.2,245.2 L1500.5,286.1 L1500.9,282.6 L1501.2,306.1 L1501.5,298.1 L1501.8,286.0 L1502.2,266.8 L1502.5,271.8 L1502.8,293.2 L1503.2,319.3 L1503.5,290.2 L1503.8,267.8 L1504.2,279.0 L1504.5,283.9 L1504.8,289.2 L1505.1,275.3 L1505.5,310.3 L1505.8,261.2 L1506.1,260.1 L1506.5,259.0 L1506.8,263.2 L1507.1,257.2 L1507.5,255.5 L1507.8,257.0 L1508.1,319.3 L1508.4,261.3 L1508.8,288.0 L1509.1,265.6 L1509.4,318.3 L1509.8,318.2 L1510.1,315.0 L1510.4,316.3 L1510.8,276.7 L1511.1,281.2 L1511.4,275.8 L1511.7,298.6 L1512.1,274.8 L1512.4,291.5 L1512.7,287.3 L1513.1,273.4 L1513.4,276.2 L1513.7,293.3 L1514.1,271.8 L1514.4,291.1 L1514.7,277.9 L1515.0,269.5 L1515.4,266.7 L1515.7,277.1 L1516.0,283.1 L1516.4,299.4 L1516.7,272.4 L1517.0,285.6 L1517.4,258.7 L1517.7,257.7 L1518.0,307.8 L1518.3,267.9 L1518.7,258.5 L1519.0,263.2 L1519.3,252.4 L1519.7,251.4 L1520.0,265.2 L1520.3,259.3 L1520.7,249.1 L1521.0,279.9 L1521.3,245.6 L1521.6,252.2 L1522.0,271.0 L1522.3,249.0 L1522.6,245.3 L1523.0,245.2 L1523.3,252.1 L1523.6,266.3 L1524.0,268.0 L1524.3,253.4 L1524.6,260.3 L1524.9,256.1 L1525.3,244.5 L1525.6,244.5 L1525.9,255.0 L1526.3,261.7 L1526.6,275.9 L1526.9,253.0 L1527.3,244.0 L1527.6,281.2 L1527.9,281.6 L1528.2,280.6 L1528.6,280.2 L1528.9,250.2 L1529.2,279.6 L1529.6,279.3 L1529.9,278.9 L1530.2,278.6 L1530.6,230.9 L1530.9,251.7 L1531.2,275.3 L1531.5,234.6 L1531.9,264.2 L1532.2,278.4 L1532.5,257.0 L1532.9,232.9 L1533.2,241.3 L1533.5,212.9 L1533.9,275.7 L1534.2,263.7 L1534.5,284.4 L1534.8,240.2 L1535.2,268.4 L1535.5,289.6 L1535.8,275.2 L1536.2,237.5 L1536.5,318.3 L1536.8,260.8 L1537.2,268.4 L1537.5,265.2 L1537.8,237.8 L1538.1,267.4 L1538.5,291.1 L1538.8,276.2 L1539.1,249.8 L1539.5,238.1 L1539.8,238.2 L1540.1,238.3 L1540.5,238.8 L1540.8,325.8 L1541.1,240.5 L1541.4,276.1 L1541.8,242.3 L1542.1,274.8 L1542.4,253.8 L1542.8,257.0 L1543.1,249.7 L1543.4,246.7 L1543.8,251.8 L1544.1,257.7 L1544.4,266.7 L1544.7,277.1 L1545.1,251.4 L1545.4,303.9 L1545.7,302.9 L1546.1,301.9 L1546.4,264.8 L1546.7,260.9 L1547.1,262.9 L1547.4,265.0 L1547.7,289.0 L1548.0,295.9 L1548.4,293.5 L1548.7,293.9 L1549.0,291.8 L1549.4,288.4 L1549.7,287.6 L1550.0,281.6 L1550.4,288.7 L1550.7,277.6 L1551.0,275.3 L1551.3,273.1 L1551.7,277.4 L1552.0,279.6 L1552.3,280.4 L1552.7,283.2 L1553.0,261.9 L1553.3,280.7 L1553.7,257.4 L1554.0,255.1 L1554.3,253.8 L1554.6,258.5 L1555.0,314.4 L1555.3,287.5 L1555.6,286.4 L1556.0,256.2 L1556.3,282.1 L1556.6,257.1 L1557.0,265.9 L1557.3,274.1 L1557.6,299.0 L1557.9,289.0 L1558.3,292.2 L1558.6,277.7 L1558.9,281.7 L1559.3,265.6 L1559.6,275.9 L1559.9,265.3 L1560.3,281.3 L1560.6,293.1 L1560.9,302.1 L1561.2,297.5 L1561.6,287.7 L1561.9,302.9 L1562.2,290.8 L1562.6,290.0 L1562.9,303.7 L1563.2,303.9 L1563.6,304.2 L1563.9,260.4 L1564.2,304.3 L1564.5,290.1 L1564.9,298.6 L1565.2,257.0 L1565.5,278.3 L1565.9,274.0 L1566.2,257.7 L1566.5,253.3 L1566.9,252.4 L1567.2,251.5 L1567.5,268.4 L1567.8,290.9 L1568.2,310.7 L1568.5,248.1 L1568.8,248.5 L1569.2,311.1 L1569.5,249.3 L1569.8,249.6 L1570.2,250.0 L1570.5,250.3 L1570.8,284.8 L1571.1,278.9 L1571.5,279.9 L1571.8,311.1 L1572.1,252.2 L1572.5,310.9 L1572.8,311.1 L1573.1,286.3 L1573.5,295.2 L1573.8,291.3 L1574.1,303.1 L1574.4,276.2 L1574.8,300.6 L1575.1,282.0 L1575.4,294.4 L1575.8,287.1 L1576.1,265.9 L1576.4,263.5 L1576.8,264.4 L1577.1,265.3 L1577.4,264.2 L1577.7,299.4 L1578.1,282.9 L1578.4,295.6 L1578.7,296.8 L1579.1,287.9 L1579.4,281.2 L1579.7,269.9 L1580.1,262.1 L1580.4,275.7 L1580.7,259.2 L1581.0,252.1 L1581.4,251.0 L1581.7,249.9 L1582.0,248.9 L1582.4,248.7 L1582.7,266.5 L1583.0,248.3 L1583.4,248.1 L1583.7,247.9 L1584.0,248.1 L1584.3,277.0 L1584.7,272.6 L1585.0,263.4 L1585.3,246.9 L1585.7,246.7 L1586.0,246.5 L1586.3,247.3 L1586.7,248.6 L1587.0,249.8 L1587.3,251.1 L1587.6,289.2 L1588.0,259.6 L1588.3,254.8 L1588.6,273.3 L1589.0,281.8 L1589.3,258.7 L1589.6,293.6 L1590.0,301.0 L1590.3,285.9 L1590.6,277.1 L1590.9,289.5 L1591.3,283.7 L1591.6,256.5 L1591.9,256.2 L1592.3,255.8 L1592.6,255.5 L1592.9,255.2 L1593.3,260.3 L1593.6,267.7 L1593.9,256.2 L1594.2,261.4 L1594.6,303.9 L1594.9,330.7 L1595.2,320.1 L1595.6,252.5 L1595.9,252.2 L1596.2,306.7 L1596.6,334.2 L1596.9,334.9 L1597.2,335.6 L1597.5,333.5 L1597.9,323.9 L1598.2,249.7 L1598.5,338.2 L1598.9,270.2 L1599.2,276.9 L1599.5,288.4 L1599.9,252.0 L1600.2,256.7 L1600.5,291.5 L1600.8,319.2 L1601.2,259.9 L1601.5,276.7 L1601.8,303.4 L1602.2,284.4 L1602.5,255.9 L1602.8,259.5 L1603.2,257.1 L1603.5,322.2 L1603.8,265.1 L1604.1,341.5 L1604.5,338.4 L1604.8,273.2 L1605.1,299.0 L1605.5,249.6 L1605.8,251.9 L1606.1,297.0 L1606.5,344.2 L1606.8,344.6 L1607.1,344.9 L1607.4,345.3 L1607.8,345.7 L1608.1,346.1 L1608.4,346.5 L1608.8,346.8 L1609.1,237.5 L1609.4,347.8 L1609.8,302.7 L1610.1,292.0 L1610.4,299.1 L1610.7,300.2 L1611.1,338.3 L1611.4,271.8 L1611.7,334.4 L1612.1,351.2 L1612.4,348.1 L1612.7,347.0 L1613.1,314.4 L1613.4,323.8 L1613.7,303.7 L1614.0,298.4 L1614.4,297.8 L1614.7,291.5 L1615.0,313.4 L1615.4,313.9 L1615.7,289.5 L1616.0,296.3 L1616.4,319.8 L1616.7,302.3 L1617.0,278.3 L1617.3,317.5 L1617.7,314.6 L1618.0,263.8 L1618.3,298.7 L1618.7,224.7 L1619.0,276.4 L1619.3,305.3 L1619.7,278.1 L1620.0,249.3 L1620.3,286.0 L1620.6,307.3 L1621.0,290.7 L1621.3,279.1 L1621.6,308.8 L1622.0,240.7 L1622.3,310.4 L1622.6,282.2 L1623.0,282.9 L1623.3,281.1 L1623.6,279.3 L1623.9,300.9 L1624.3,257.3 L1624.6,259.9 L1624.9,267.6 L1625.3,294.8 L1625.6,289.1 L1625.9,298.6 L1626.3,271.8 L1626.6,273.6 L1626.9,327.5 L1627.2,288.0 L1627.6,274.7 L1627.9,262.2 L1628.2,284.2 L1628.6,307.3 L1628.9,298.7 L1629.2,271.8 L1629.6,261.5 L1629.9,290.5 L1630.2,239.1 L1630.5,319.5 L1630.9,317.8 L1631.2,315.0 L1631.5,280.6 L1631.9,306.8 L1632.2,267.5 L1632.5,298.6 L1632.9,244.1 L1633.2,250.7 L1633.5,286.3 L1633.8,258.7 L1634.2,260.0 L1634.5,260.7 L1634.8,243.7 L1635.2,249.5 L1635.5,246.6 L1635.8,250.0 L1636.2,244.8 L1636.5,268.4 L1636.8,285.1 L1637.1,268.1 L1637.5,298.8 L1637.8,262.9 L1638.1,252.9 L1638.5,254.2 L1638.8,255.4 L1639.1,256.7 L1639.5,258.0 L1639.8,259.2 L1640.1,260.4 L1640.4,263.4 L1640.8,266.2 L1641.1,269.0 L1641.4,271.8 L1641.8,274.6 L1642.1,285.4 L1642.4,297.1 L1642.8,317.7 L1643.1,328.6 L1643.4,288.2 L1643.7,328.3 L1644.1,329.9 L1644.4,325.5 L1644.7,320.7 L1645.1,301.2 L1645.4,286.6 L1645.7,271.6 L1646.1,309.6 L1646.4,300.7 L1646.7,265.3 L1647.0,270.7 L1647.4,278.0 L1647.7,277.2 L1648.0,299.4 L1648.4,313.4 L1648.7,313.5 L1649.0,313.1 L1649.4,312.7 L1649.7,312.3 L1650.0,311.9 L1650.3,300.9 L1650.7,268.5 L1651.0,308.6 L1651.3,309.4 L1651.7,314.7 L1652.0,315.9 L1652.3,317.2 L1652.7,311.3 L1653.0,281.0 L1653.3,280.2 L1653.6,286.3 L1654.0,291.8 L1654.3,249.9 L1654.6,248.2 L1655.0,247.3 L1655.3,324.3 L1655.6,326.6 L1656.0,316.6 L1656.3,318.2 L1656.6,319.8 L1656.9,318.6 L1657.3,317.3 L1657.6,315.9 L1657.9,273.4 L1658.3,303.4 L1658.6,296.9 L1658.9,262.0 L1659.3,292.0 L1659.6,271.0 L1659.9,264.4 L1660.2,266.8 L1660.6,288.9 L1660.9,266.7 L1661.2,276.9 L1661.6,268.2 L1661.9,269.0 L1662.2,269.7 L1662.6,277.5 L1662.9,282.4 L1663.2,281.1 L1663.5,311.1 L1663.9,273.5 L1664.2,300.0 L1664.5,283.6 L1664.9,293.9 L1665.2,284.5 L1665.5,300.9 L1665.9,315.2 L1666.2,294.8 L1666.5,265.4 L1666.8,269.7 L1667.2,265.3 L1667.5,284.6 L1667.8,284.3 L1668.2,260.4 L1668.5,259.4 L1668.8,258.7 L1669.2,303.0 L1669.5,320.9 L1669.8,312.3 L1670.1,319.2 L1670.5,316.4 L1670.8,316.6 L1671.1,318.0 L1671.5,305.6 L1671.8,317.2 L1672.1,316.8 L1672.5,316.4 L1672.8,281.6 L1673.1,316.8 L1673.4,312.0 L1673.8,296.8 L1674.1,299.1 L1674.4,294.7 L1674.8,271.1 L1675.1,280.7 L1675.4,317.2 L1675.8,320.9 L1676.1,311.7 L1676.4,262.2 L1676.7,259.5 L1677.1,325.9 L1677.4,326.6 L1677.7,295.8 L1678.1,313.6 L1678.4,312.6 L1678.7,302.9 L1679.1,268.6 L1679.4,272.3 L1679.7,287.6 L1680.0,286.4 L1680.4,310.7 L1680.7,291.9 L1681.0,276.7 L1681.4,306.1 L1681.7,291.6 L1682.0,302.6 L1682.4,298.2 L1682.7,280.6 L1683.0,266.6 L1683.3,276.8 L1683.7,275.8 L1684.0,281.7 L1684.3,282.5 L1684.7,288.5 L1685.0,279.7 L1685.3,273.0 L1685.7,272.8 L1686.0,261.3 L1686.3,264.0 L1686.6,248.1 L1687.0,253.4 L1687.3,248.5 L1687.6,269.1 L1688.0,252.4 L1688.3,254.0 L1688.6,253.5 L1689.0,285.4 L1689.3,282.6 L1689.6,254.8 L1689.9,276.9 L1690.3,255.7 L1690.6,271.0 L1690.9,276.4 L1691.3,289.2 L1691.6,251.4 L1691.9,276.0 L1692.3,289.8 L1692.6,288.7 L1692.9,288.4 L1693.2,288.0 L1693.6,287.6 L1693.9,283.5 L1694.2,259.6 L1694.6,255.5 L1694.9,275.9 L1695.2,276.1 L1695.6,268.3 L1695.9,285.0 L1696.2,284.6 L1696.5,284.2 L1696.9,279.7 L1697.2,259.5 L1697.5,283.2 L1697.9,264.9 L1698.2,260.0 L1698.5,260.2 L1698.9,278.6 L1699.2,281.2 L1699.5,282.4 L1699.8,282.3 L1700.2,279.8 L1700.5,282.0 L1700.8,281.9 L1701.2,281.8 L1701.5,262.0 L1701.8,283.0 L1702.2,284.3 L1702.5,285.5 L1702.8,286.7 L1703.1,286.6 L1703.5,277.3 L1703.8,275.8 L1704.1,274.3 L1704.5,271.0 L1704.8,271.8 L1705.1,285.9 L1705.5,291.0 L1705.8,289.5 L1706.1,272.2 L1706.4,279.5 L1706.8,278.7 L1707.1,279.7 L1707.4,279.8 L1707.8,286.5 L1708.1,292.2 L1708.4,291.3 L1708.8,287.3 L1709.1,286.6 L1709.4,294.6 L1709.7,294.6 L1710.1,294.7 L1710.4,273.5 L1710.7,282.0 L1711.1,294.7 L1711.4,293.5 L1711.7,293.0 L1712.1,292.6 L1712.4,292.2 L1712.7,291.5 L1713.0,281.9 L1713.4,290.8 L1713.7,290.4 L1714.0,285.4 L1714.4,284.9 L1714.7,282.5 L1715.0,280.1 L1715.4,276.7 L1715.7,280.9 L1716.0,288.0 L1716.3,287.9 L1716.7,282.4 L1717.0,287.6 L1717.3,287.5 L1717.7,287.4 L1718.0,287.3 L1718.3,280.9 L1718.7,287.1 L1719.0,279.4 L1719.3,280.7 L1719.6,286.8 L1720.0,286.6 L1720.3,254.6 L1720.6,287.6 L1721.0,288.0 L1721.3,289.6 L1721.6,290.6 L1722.0,291.6 L1722.3,292.6 L1722.6,286.9 L1722.9,270.2 L1723.3,273.4 L1723.6,281.7 L1723.9,279.6 L1724.3,293.6 L1724.6,299.5 L1724.9,300.5 L1725.3,301.3 L1725.6,295.0 L1725.9,290.8" fill="none" stroke="#000" stroke-width="1.9" stroke-linejoin="round"/>
<line x1="1207.20" y1="243.00" x2="1207.60" y2="296.00" stroke="#000" stroke-width="2.6"/>
<path d="M1206.5,307.0 L1206.9,309.2 L1207.3,310.7 L1207.7,312.9 L1208.1,315.5 L1208.5,317.1 L1208.9,319.5 L1209.3,320.0 L1209.7,320.0 L1210.1,317.4 L1210.5,320.6 L1210.9,322.4 L1211.3,323.4 L1211.7,320.7 L1212.1,319.6 L1212.5,323.9 L1212.9,324.7 L1213.3,323.1 L1213.7,323.8 L1214.1,326.5 L1214.5,327.5 L1214.9,327.4 L1215.3,323.8 L1215.7,327.3 L1216.1,322.9 L1216.5,319.4 L1216.9,323.5 L1217.3,324.6 L1217.7,321.9 L1218.1,324.8 L1218.5,326.8 L1218.9,327.6 L1219.3,328.6 L1219.7,328.9 L1220.1,327.7 L1220.5,327.6 L1220.9,330.0 L1221.3,332.5 L1221.7,331.2 L1222.1,334.8 L1222.5,334.8 L1222.9,333.5 L1223.3,332.8 L1223.7,330.0 L1224.1,330.6 L1224.5,329.7 L1224.9,330.9 L1225.3,323.6 L1225.7,324.7 L1226.1,324.9 L1226.5,326.7 L1226.9,323.4 L1227.3,320.4 L1227.7,322.1 L1228.1,318.9 L1228.5,319.2 L1228.9,317.6 L1229.3,315.8 L1229.7,307.5 L1230.1,305.7 L1230.5,306.7 L1230.9,304.0 L1231.3,300.4 L1231.7,300.0 L1232.1,298.7 L1232.5,296.2 L1232.9,296.0 L1233.3,291.2 L1233.7,292.9 L1234.1,292.3 L1234.5,291.4 L1234.9,292.3 L1235.3,287.0 L1235.7,286.0 L1236.1,285.8 L1236.5,291.4 L1236.9,292.0 L1237.3,291.0 L1237.7,290.3 L1238.1,291.2 L1238.5,296.5 L1238.9,298.0 L1239.3,298.9 L1239.7,299.8 L1240.1,297.8 L1240.5,298.4 L1240.9,295.3 L1241.3,298.2 L1241.7,296.1 L1242.1,293.3 L1242.5,295.1 L1242.9,299.1 L1243.3,292.3 L1243.7,294.6 L1244.1,293.6 L1244.5,295.7 L1244.9,295.5 L1245.3,300.2 L1245.7,297.5 L1246.1,299.9 L1246.5,298.1 L1246.9,296.2 L1247.3,299.4 L1247.7,299.6 L1248.1,301.5 L1248.5,303.2 L1248.9,299.8 L1249.3,302.4 L1249.7,299.8 L1250.1,305.1 L1250.5,299.4 L1250.9,300.0 L1251.3,301.5 L1251.7,299.2 L1252.1,298.2 L1252.5,300.8 L1252.9,295.9 L1253.3,299.1 L1253.7,293.8 L1254.1,297.7 L1254.5,298.4 L1254.9,297.3 L1255.3,298.2 L1255.7,296.8 L1256.1,295.0 L1256.5,295.5 L1256.9,291.6 L1257.3,292.4 L1257.7,295.7 L1258.1,297.5 L1258.5,298.8 L1258.9,295.4 L1259.3,298.5 L1259.7,299.9 L1260.1,303.1 L1260.5,304.2 L1260.9,302.4 L1261.3,303.8 L1261.7,302.5 L1262.1,301.8 L1262.5,300.3 L1262.9,301.9 L1263.3,301.5 L1263.7,299.1 L1264.1,297.2 L1264.5,297.1 L1264.9,295.8 L1265.3,292.5 L1265.7,295.0 L1266.1,294.8 L1266.5,291.3 L1266.9,291.4 L1267.3,290.5 L1267.7,294.9 L1268.1,292.2 L1268.5,291.3 L1268.9,287.3 L1269.3,285.7 L1269.7,284.8 L1270.1,287.3 L1270.5,288.8 L1270.9,286.3 L1271.3,284.7 L1271.7,286.3 L1272.1,289.6 L1272.5,285.8 L1272.9,290.0 L1273.3,288.5 L1273.7,291.2 L1274.1,292.2 L1274.5,293.3 L1274.9,293.2 L1275.3,296.3 L1275.7,292.9 L1276.1,294.2 L1276.5,292.9 L1276.9,296.5 L1277.3,297.0 L1277.7,295.1 L1278.1,292.3 L1278.5,295.3 L1278.9,296.4 L1279.3,294.4 L1279.7,294.3 L1280.1,293.9 L1280.5,292.4 L1280.9,295.1 L1281.3,295.6 L1281.7,294.3 L1282.1,290.5 L1282.5,292.9 L1282.9,297.0 L1283.3,297.6 L1283.7,294.6 L1284.1,292.9 L1284.5,296.4 L1284.9,295.0 L1285.3,295.4 L1285.7,297.4 L1286.1,294.4 L1286.5,292.4 L1286.9,291.1 L1287.3,293.2 L1287.7,290.4 L1288.1,293.2 L1288.5,289.4 L1288.9,290.9 L1289.3,287.9 L1289.7,290.4 L1290.1,290.0 L1290.5,293.3 L1290.9,290.1 L1291.3,293.9 L1291.7,291.9 L1292.1,287.2 L1292.5,286.3 L1292.9,289.6 L1293.3,291.0 L1293.7,296.2 L1294.1,290.9 L1294.5,290.8 L1294.9,289.1 L1295.3,288.6 L1295.7,292.4 L1296.1,289.8 L1296.5,286.3 L1296.9,291.2 L1297.3,290.7 L1297.7,287.2 L1298.1,288.6 L1298.5,292.7 L1298.9,293.6 L1299.3,296.3 L1299.7,295.0 L1300.1,296.3 L1300.5,295.8 L1300.9,297.2 L1301.3,297.8 L1301.7,299.7 L1302.1,294.3 L1302.5,294.9 L1302.9,298.3 L1303.3,301.5 L1303.7,301.6 L1304.1,295.6 L1304.5,295.0 L1304.9,300.7 L1305.3,301.7 L1305.7,303.2 L1306.1,307.5 L1306.5,301.4 L1306.9,305.5 L1307.3,304.8 L1307.7,303.9 L1308.1,301.9 L1308.5,303.4 L1308.9,310.0 L1309.3,307.4 L1309.7,308.9 L1310.1,306.9 L1310.5,302.8 L1310.9,303.2 L1311.3,304.6 L1311.7,302.6 L1312.1,301.4 L1312.5,300.1 L1312.9,300.8 L1313.3,300.0 L1313.7,302.0 L1314.1,301.0 L1314.5,299.7 L1314.9,296.9 L1315.3,301.2 L1315.7,305.1 L1316.1,299.3 L1316.5,294.6 L1316.9,298.3 L1317.3,297.2 L1317.7,299.9 L1318.1,300.9 L1318.5,303.0 L1318.9,302.7 L1319.3,301.5 L1319.7,303.9 L1320.1,302.7 L1320.5,305.1 L1320.9,302.3 L1321.3,302.8 L1321.7,300.2 L1322.1,302.8 L1322.5,299.2 L1322.9,297.8 L1323.3,299.8 L1323.7,297.2 L1324.1,296.5 L1324.5,294.9 L1324.9,295.3 L1325.3,296.5 L1325.7,296.8 L1326.1,292.6 L1326.5,295.1 L1326.9,288.7 L1327.3,291.4 L1327.7,290.5 L1328.1,292.0 L1328.5,291.5 L1328.9,295.5 L1329.3,293.1 L1329.7,292.1 L1330.1,287.1 L1330.5,287.2 L1330.9,293.5 L1331.3,291.1 L1331.7,294.6 L1332.1,291.8 L1332.5,293.4 L1332.9,290.5 L1333.3,292.4 L1333.7,294.3 L1334.1,295.9 L1334.5,293.6 L1334.9,292.0 L1335.3,296.0 L1335.7,295.5 L1336.1,296.7 L1336.5,292.0 L1336.9,295.3 L1337.3,294.8 L1337.7,292.1 L1338.1,292.4 L1338.5,296.5 L1338.9,296.5 L1339.3,297.5 L1339.7,298.4 L1340.1,298.0 L1340.5,301.5 L1340.9,299.9 L1341.3,297.7 L1341.7,295.5 L1342.1,296.9 L1342.5,298.3 L1342.9,300.7 L1343.3,294.3 L1343.7,298.7 L1344.1,300.8 L1344.5,297.3 L1344.9,298.6 L1345.3,296.1 L1345.7,295.7 L1346.1,294.9 L1346.5,297.1 L1346.9,294.6 L1347.3,295.0 L1347.7,292.1 L1348.1,291.4 L1348.5,288.9 L1348.9,291.6 L1349.3,293.4 L1349.7,295.7 L1350.1,293.4 L1350.5,293.2 L1350.9,293.9 L1351.3,293.0 L1351.7,298.4 L1352.1,295.1 L1352.5,298.7 L1352.9,298.0 L1353.3,294.4 L1353.7,296.5 L1354.1,300.2 L1354.5,300.7 L1354.9,301.3 L1355.3,300.3 L1355.7,301.0 L1356.1,297.7 L1356.5,296.9 L1356.9,294.2 L1357.3,298.6 L1357.7,299.7 L1358.1,299.6 L1358.5,299.2 L1358.9,294.6 L1359.3,298.7 L1359.7,300.7 L1360.1,303.5 L1360.5,305.0 L1360.9,304.7 L1361.3,301.0 L1361.7,300.7 L1362.1,296.0 L1362.5,299.1 L1362.9,294.4 L1363.3,297.9 L1363.7,290.5 L1364.1,292.8 L1364.5,295.5 L1364.9,291.8 L1365.3,294.0 L1365.7,294.2 L1366.1,287.6 L1366.5,288.4 L1366.9,294.3 L1367.3,293.5 L1367.7,295.3 L1368.1,301.3 L1368.5,301.9 L1368.9,300.5 L1369.3,297.8 L1369.7,300.7 L1370.1,300.2 L1370.5,299.3 L1370.9,303.3 L1371.3,296.8 L1371.7,303.8 L1372.1,301.6 L1372.5,303.9 L1372.9,301.0 L1373.3,299.9 L1373.7,299.1 L1374.1,300.8 L1374.5,300.8 L1374.9,307.3 L1375.3,306.1 L1375.7,303.0 L1376.1,300.9 L1376.5,301.1 L1376.9,302.6 L1377.3,297.9 L1377.7,300.9 L1378.1,304.0 L1378.5,301.2 L1378.9,299.0 L1379.3,300.9 L1379.7,302.2 L1380.1,299.9 L1380.5,300.8 L1380.9,301.6 L1381.3,301.2 L1381.7,298.8 L1382.1,297.1 L1382.5,296.7 L1382.9,296.9 L1383.3,298.9 L1383.7,296.3 L1384.1,298.4 L1384.5,298.0 L1384.9,292.9 L1385.3,296.3 L1385.7,295.3 L1386.1,293.5 L1386.5,293.1 L1386.9,297.8 L1387.3,300.5 L1387.7,296.1 L1388.1,296.7 L1388.5,297.9 L1388.9,296.9 L1389.3,298.3 L1389.7,300.5 L1390.1,296.7 L1390.5,301.9 L1390.9,302.7 L1391.3,304.4 L1391.7,297.8 L1392.1,303.4 L1392.5,302.8 L1392.9,302.9 L1393.3,299.7 L1393.7,299.9 L1394.1,304.3 L1394.5,303.2 L1394.9,303.4 L1395.3,304.2 L1395.7,305.0 L1396.1,300.8 L1396.5,302.4 L1396.9,301.2 L1397.3,306.7 L1397.7,306.8 L1398.1,302.7 L1398.5,301.3 L1398.9,306.2 L1399.3,308.2 L1399.7,310.3 L1400.1,305.2 L1400.5,311.6 L1400.9,310.0 L1401.3,312.3 L1401.7,311.8 L1402.1,310.2 L1402.5,305.8 L1402.9,305.8 L1403.3,295.5 L1403.7,298.2 L1404.1,300.7 L1404.5,297.6 L1404.9,300.1 L1405.3,299.3 L1405.7,298.2 L1406.1,300.6 L1406.5,303.0 L1406.9,302.0 L1407.3,301.9 L1407.7,305.2 L1408.1,306.1 L1408.5,306.8 L1408.9,304.3 L1409.3,306.9 L1409.7,302.9 L1410.1,303.3 L1410.5,300.9 L1410.9,301.6 L1411.3,302.7 L1411.7,302.4 L1412.1,299.3 L1412.5,300.5 L1412.9,296.2 L1413.3,299.0 L1413.7,296.4 L1414.1,305.9 L1414.5,309.2 L1414.9,309.2 L1415.3,310.8 L1415.7,310.0 L1416.1,311.2 L1416.5,311.4 L1416.9,312.6 L1417.3,311.1 L1417.7,313.3 L1418.1,311.2 L1418.5,309.0 L1418.9,312.8 L1419.3,313.8 L1419.7,315.2 L1420.1,313.8 L1420.5,315.8 L1420.9,311.7 L1421.3,308.3 L1421.7,308.6 L1422.1,305.7 L1422.5,301.2 L1422.9,304.2 L1423.3,310.1 L1423.7,307.7 L1424.1,310.7 L1424.5,311.2 L1424.9,318.1 L1425.3,314.9 L1425.7,318.6 L1426.1,320.2 L1426.5,318.3 L1426.9,318.3 L1427.3,315.6 L1427.7,320.2 L1428.1,322.4 L1428.5,321.1 L1428.9,322.9 L1429.3,321.0 L1429.7,321.0 L1430.1,317.7 L1430.5,317.6 L1430.9,318.6 L1431.3,320.6 L1431.7,317.4 L1432.1,315.6 L1432.5,318.6 L1432.9,319.2 L1433.3,321.3 L1433.7,322.7 L1434.1,318.7 L1434.5,322.6 L1434.9,321.0 L1435.3,320.4 L1435.7,317.8 L1436.1,323.9 L1436.5,326.4 L1436.9,324.2 L1437.3,324.1 L1437.7,322.0 L1438.1,319.9 L1438.5,322.5 L1438.9,322.9 L1439.3,322.2 L1439.7,323.0 L1440.1,325.8 L1440.5,328.7 L1440.9,329.2 L1441.3,327.0 L1441.7,328.6 L1442.1,326.2 L1442.5,325.5 L1442.9,326.0 L1443.3,324.0 L1443.7,324.9 L1444.1,322.7 L1444.5,321.4 L1444.9,320.8 L1445.3,325.9 L1445.7,325.1 L1446.1,323.0 L1446.5,323.4 L1446.9,322.0 L1447.3,321.9 L1447.7,323.6 L1448.1,318.3 L1448.5,318.7 L1448.9,319.6 L1449.3,320.3 L1449.7,320.3 L1450.1,322.1 L1450.5,318.8 L1450.9,321.8 L1451.3,322.6 L1451.7,322.7 L1452.1,322.9 L1452.5,320.9 L1452.9,323.0 L1453.3,322.1 L1453.7,321.1 L1454.1,321.7 L1454.5,323.6 L1454.9,324.2 L1455.3,325.3 L1455.7,321.8 L1456.1,322.9 L1456.5,322.4 L1456.9,321.2 L1457.3,323.2 L1457.7,318.9 L1458.1,320.5 L1458.5,322.5 L1458.9,323.3 L1459.3,324.6 L1459.7,323.4 L1460.1,327.9 L1460.5,324.6 L1460.9,329.1 L1461.3,325.7 L1461.7,324.1 L1462.1,324.2 L1462.5,325.8 L1462.9,326.0 L1463.3,326.2 L1463.7,327.7 L1464.1,327.5 L1464.5,323.7 L1464.9,327.0 L1465.3,325.4 L1465.7,325.9 L1466.1,327.3 L1466.5,323.7 L1466.9,327.7 L1467.3,322.8 L1467.7,326.8 L1468.1,324.9 L1468.5,325.3 L1468.9,323.0 L1469.3,326.0 L1469.7,323.4 L1470.1,323.1 L1470.5,319.4 L1470.9,318.6 L1471.3,321.9 L1471.7,324.8 L1472.1,323.3 L1472.5,317.1 L1472.9,322.5 L1473.3,319.3 L1473.7,321.1 L1474.1,319.3 L1474.5,318.6 L1474.9,321.2 L1475.3,315.2 L1475.7,317.5 L1476.1,318.7 L1476.5,318.3 L1476.9,316.1 L1477.3,321.1 L1477.7,318.3 L1478.1,318.5 L1478.5,314.5 L1478.9,317.1 L1479.3,316.6 L1479.7,317.4 L1480.1,315.4 L1480.5,314.9 L1480.9,313.6 L1481.3,313.9 L1481.7,314.9 L1482.1,312.3 L1482.5,312.1 L1482.9,312.3 L1483.3,311.3 L1483.7,312.9 L1484.1,313.9 L1484.5,312.8 L1484.9,316.8 L1485.3,315.3 L1485.7,312.7 L1486.1,313.4 L1486.5,313.4 L1486.9,314.6 L1487.3,313.7 L1487.7,313.7 L1488.1,313.5 L1488.5,314.1 L1488.9,319.3 L1489.3,317.5 L1489.7,318.4 L1490.1,313.5 L1490.5,311.2 L1490.9,310.6 L1491.3,314.3 L1491.7,314.0 L1492.1,311.8 L1492.5,312.4 L1492.9,314.9 L1493.3,311.3 L1493.7,311.4 L1494.1,314.0 L1494.5,311.0 L1494.9,311.5 L1495.3,313.5 L1495.7,315.1 L1496.1,315.5 L1496.5,316.3 L1496.9,317.8 L1497.3,317.0 L1497.7,314.0 L1498.1,317.6 L1498.5,320.9 L1498.9,318.2 L1499.3,316.6 L1499.7,319.1 L1500.1,319.3 L1500.5,316.5 L1500.9,318.7 L1501.3,320.0 L1501.7,320.1 L1502.1,318.6 L1502.5,318.9 L1502.9,317.1 L1503.3,317.1 L1503.7,320.2 L1504.1,320.4 L1504.5,322.1 L1504.9,318.5 L1505.3,318.9 L1505.7,317.5 L1506.1,321.0 L1506.5,321.6 L1506.9,320.8 L1507.3,321.4 L1507.7,320.3 L1508.1,318.4 L1508.5,322.1 L1508.9,320.1 L1509.3,323.8 L1509.7,325.3 L1510.1,320.1 L1510.5,320.0 L1510.9,324.7 L1511.3,324.2 L1511.7,325.1 L1512.1,325.5 L1512.5,321.4 L1512.9,325.3 L1513.3,324.9 L1513.7,324.2 L1514.1,322.3 L1514.5,322.6 L1514.9,322.5 L1515.3,321.7 L1515.7,322.4 L1516.1,324.1 L1516.5,326.5 L1516.9,325.8 L1517.3,324.2 L1517.7,328.0 L1518.1,325.9 L1518.5,328.3 L1518.9,330.8 L1519.3,327.8 L1519.7,328.2 L1520.1,331.3 L1520.5,335.4 L1520.9,334.4 L1521.3,334.0 L1521.7,334.8 L1522.1,330.9 L1522.5,330.2 L1522.9,335.5 L1523.3,336.3 L1523.7,335.3 L1524.1,333.6 L1524.5,334.9 L1524.9,330.1 L1525.3,328.6 L1525.7,331.2 L1526.1,334.9 L1526.5,334.8 L1526.9,334.7 L1527.3,332.3 L1527.7,334.0 L1528.1,334.3 L1528.5,333.6 L1528.9,330.1 L1529.3,332.3 L1529.7,327.1 L1530.1,330.6 L1530.5,326.7 L1530.9,325.1 L1531.3,329.1 L1531.7,327.4 L1532.1,326.0 L1532.5,326.5 L1532.9,330.1 L1533.3,323.6 L1533.7,323.0 L1534.1,326.9 L1534.5,324.7 L1534.9,328.8 L1535.3,322.2 L1535.7,322.0 L1536.1,323.8 L1536.5,321.4 L1536.9,320.3 L1537.3,316.4 L1537.7,319.2 L1538.1,320.5 L1538.5,317.0 L1538.9,316.4 L1539.3,318.8 L1539.7,317.8 L1540.1,315.8 L1540.5,314.9 L1540.9,311.5 L1541.3,316.2 L1541.7,314.1 L1542.1,315.2 L1542.5,317.8 L1542.9,320.0 L1543.3,320.8 L1543.7,320.8 L1544.1,321.9 L1544.5,320.6 L1544.9,321.7 L1545.3,323.6 L1545.7,323.5 L1546.1,322.9 L1546.5,322.0 L1546.9,323.0 L1547.3,325.8 L1547.7,324.7 L1548.1,323.6 L1548.5,322.6 L1548.9,322.8 L1549.3,325.0 L1549.7,327.1 L1550.1,326.3 L1550.5,325.1 L1550.9,326.8 L1551.3,327.3 L1551.7,330.0 L1552.1,324.8 L1552.5,327.9 L1552.9,325.6 L1553.3,328.4 L1553.7,329.3 L1554.1,333.7 L1554.5,330.2 L1554.9,331.0 L1555.3,324.7 L1555.7,329.2 L1556.1,326.1 L1556.5,328.6 L1556.9,328.3 L1557.3,326.2 L1557.7,327.7 L1558.1,327.2 L1558.5,326.4 L1558.9,327.4 L1559.3,328.6 L1559.7,328.8 L1560.1,325.7 L1560.5,325.1 L1560.9,322.8 L1561.3,326.6 L1561.7,327.9 L1562.1,328.2 L1562.5,325.6 L1562.9,328.9 L1563.3,326.6 L1563.7,331.2 L1564.1,326.8 L1564.5,327.5 L1564.9,329.9 L1565.3,324.4 L1565.7,322.2 L1566.1,318.9 L1566.5,317.7 L1566.9,318.1 L1567.3,316.5 L1567.7,312.1 L1568.1,317.5 L1568.5,313.1 L1568.9,316.2 L1569.3,314.9 L1569.7,315.9 L1570.1,315.1 L1570.5,314.0 L1570.9,314.7 L1571.3,315.5 L1571.7,311.9 L1572.1,310.1 L1572.5,309.2 L1572.9,308.4 L1573.3,314.2 L1573.7,310.6 L1574.1,311.2 L1574.5,316.3 L1574.9,317.2 L1575.3,319.2 L1575.7,314.0 L1576.1,316.0 L1576.5,317.9 L1576.9,321.4 L1577.3,322.4 L1577.7,324.4 L1578.1,325.6 L1578.5,330.5 L1578.9,324.1 L1579.3,324.1 L1579.7,325.1 L1580.1,322.5 L1580.5,320.1 L1580.9,321.5 L1581.3,321.2 L1581.7,319.8 L1582.1,316.7 L1582.5,312.8 L1582.9,313.5 L1583.3,318.4 L1583.7,320.8 L1584.1,316.2 L1584.5,316.8 L1584.9,319.8 L1585.3,321.2 L1585.7,316.5 L1586.1,317.4 L1586.5,315.4 L1586.9,313.6 L1587.3,318.4 L1587.7,314.2 L1588.1,316.6 L1588.5,319.1 L1588.9,317.1 L1589.3,316.3 L1589.7,309.2 L1590.1,310.8 L1590.5,310.9 L1590.9,311.6 L1591.3,306.6 L1591.7,307.7 L1592.1,307.3 L1592.5,311.1 L1592.9,307.8 L1593.3,307.9 L1593.7,307.8 L1594.1,305.5 L1594.5,310.2 L1594.9,310.2 L1595.3,307.1 L1595.7,304.6 L1596.1,303.5 L1596.5,300.8 L1596.9,302.6 L1597.3,302.3 L1597.7,300.3 L1598.1,299.4 L1598.5,302.2 L1598.9,302.2 L1599.3,299.8 L1599.7,302.2 L1600.1,299.6 L1600.5,301.6 L1600.9,299.1 L1601.3,298.9 L1601.7,296.4 L1602.1,300.9 L1602.5,297.4 L1602.9,297.3 L1603.3,295.4 L1603.7,295.0 L1604.1,300.2 L1604.5,299.4 L1604.9,297.4 L1605.3,298.8 L1605.7,298.5 L1606.1,297.9 L1606.5,301.7 L1606.9,300.8 L1607.3,299.8 L1607.7,299.2 L1608.1,300.2 L1608.5,300.3 L1608.9,299.0 L1609.3,296.6 L1609.7,295.4 L1610.1,291.8 L1610.5,294.1 L1610.9,297.9 L1611.3,299.6 L1611.7,297.4 L1612.1,295.5 L1612.5,299.1 L1612.9,297.2 L1613.3,294.8 L1613.7,295.1 L1614.1,295.5 L1614.5,303.8 L1614.9,301.2 L1615.3,294.4 L1615.7,297.1 L1616.1,296.6 L1616.5,301.0 L1616.9,296.7 L1617.3,293.0 L1617.7,295.9 L1618.1,300.3 L1618.5,294.5 L1618.9,294.3 L1619.3,292.6 L1619.7,296.1 L1620.1,295.9 L1620.5,293.9 L1620.9,291.5 L1621.3,294.4 L1621.7,291.8 L1622.1,293.8 L1622.5,294.5 L1622.9,288.0 L1623.3,287.2 L1623.7,287.1 L1624.1,283.7 L1624.5,284.0 L1624.9,284.8 L1625.3,281.9 L1625.7,283.7 L1626.1,287.5 L1626.5,287.0 L1626.9,286.6 L1627.3,286.3 L1627.7,288.6 L1628.1,291.1 L1628.5,291.5 L1628.9,296.9 L1629.3,296.2 L1629.7,294.6 L1630.1,299.0 L1630.5,297.5 L1630.9,298.3 L1631.3,295.7 L1631.7,291.9 L1632.1,289.9 L1632.5,295.7 L1632.9,288.6 L1633.3,290.3 L1633.7,294.4 L1634.1,289.5 L1634.5,291.1 L1634.9,288.9 L1635.3,294.3 L1635.7,290.5 L1636.1,291.5 L1636.5,287.7 L1636.9,291.1 L1637.3,291.6 L1637.7,288.1 L1638.1,289.8 L1638.5,288.6 L1638.9,290.9 L1639.3,288.3 L1639.7,289.4 L1640.1,287.1 L1640.5,291.2 L1640.9,288.4 L1641.3,287.0 L1641.7,289.3 L1642.1,286.1 L1642.5,285.5 L1642.9,285.2 L1643.3,287.9 L1643.7,287.6 L1644.1,285.1 L1644.5,287.6 L1644.9,289.0 L1645.3,290.3 L1645.7,293.7 L1646.1,292.8 L1646.5,295.4 L1646.9,289.8 L1647.3,291.1 L1647.7,290.8 L1648.1,292.1 L1648.5,291.9 L1648.9,290.2 L1649.3,291.1 L1649.7,287.0 L1650.1,288.6 L1650.5,289.6 L1650.9,290.3 L1651.3,288.6 L1651.7,288.2 L1652.1,286.6 L1652.5,286.0 L1652.9,284.1 L1653.3,285.0 L1653.7,287.1 L1654.1,289.2 L1654.5,283.8 L1654.9,285.3 L1655.3,283.9 L1655.7,284.9 L1656.1,282.1 L1656.5,284.0 L1656.9,285.1 L1657.3,284.7 L1657.7,283.8 L1658.1,286.1 L1658.5,285.0 L1658.9,284.3 L1659.3,285.5 L1659.7,285.8 L1660.1,285.8 L1660.5,288.5 L1660.9,286.4 L1661.3,285.1 L1661.7,287.3 L1662.1,284.0 L1662.5,280.9 L1662.9,281.6 L1663.3,279.8 L1663.7,281.7 L1664.1,278.0 L1664.5,277.6 L1664.9,273.8 L1665.3,275.7 L1665.7,277.3 L1666.1,275.9 L1666.5,279.0 L1666.9,275.5 L1667.3,275.6 L1667.7,272.5 L1668.1,277.3 L1668.5,275.2 L1668.9,271.1 L1669.3,272.9 L1669.7,272.9 L1670.1,278.2 L1670.5,279.0 L1670.9,275.2 L1671.3,277.5 L1671.7,279.1 L1672.1,276.4 L1672.5,277.3 L1672.9,277.0 L1673.3,274.6 L1673.7,277.0 L1674.1,275.9 L1674.5,275.3 L1674.9,275.1 L1675.3,275.5 L1675.7,280.8 L1676.1,278.2 L1676.5,277.6 L1676.9,281.1 L1677.3,276.7 L1677.7,273.9 L1678.1,271.5 L1678.5,272.0 L1678.9,274.2 L1679.3,270.9 L1679.7,269.3 L1680.1,272.7 L1680.5,272.6 L1680.9,277.5 L1681.3,271.9 L1681.7,275.4 L1682.1,269.2 L1682.5,274.7 L1682.9,273.8 L1683.3,271.2 L1683.7,273.7 L1684.1,271.3 L1684.5,271.8 L1684.9,271.0 L1685.3,272.8 L1685.7,273.3 L1686.1,270.3 L1686.5,270.7 L1686.9,271.1 L1687.3,272.5 L1687.7,273.6 L1688.1,274.5 L1688.5,273.6 L1688.9,272.7 L1689.3,273.4 L1689.7,275.1 L1690.1,274.5 L1690.5,275.0 L1690.9,276.2 L1691.3,273.5 L1691.7,278.5 L1692.1,277.7 L1692.5,275.1 L1692.9,276.5 L1693.3,277.3 L1693.7,275.2 L1694.1,274.5 L1694.5,276.2 L1694.9,276.8 L1695.3,271.5 L1695.7,276.8 L1696.1,273.6 L1696.5,277.4 L1696.9,275.8 L1697.3,275.5 L1697.7,277.8 L1698.1,274.7 L1698.5,273.8 L1698.9,276.1 L1699.3,277.5 L1699.7,275.8 L1700.1,275.5 L1700.5,274.4 L1700.9,275.9 L1701.3,275.4 L1701.7,275.3 L1702.1,274.0 L1702.5,273.8 L1702.9,277.1 L1703.3,281.6 L1703.7,280.9 L1704.1,276.1 L1704.5,278.3 L1704.9,276.9 L1705.3,277.2 L1705.7,278.1 L1706.1,276.9 L1706.5,273.8 L1706.9,278.0 L1707.3,276.0 L1707.7,275.6 L1708.1,275.1 L1708.5,273.4 L1708.9,272.2 L1709.3,272.8 L1709.7,273.1 L1710.1,274.5 L1710.5,274.3 L1710.9,277.2 L1711.3,277.0 L1711.7,276.1 L1712.1,278.9 L1712.5,281.5 L1712.9,278.0 L1713.3,278.6 L1713.7,276.3 L1714.1,283.0 L1714.5,282.8 L1714.9,285.3 L1715.3,280.1 L1715.7,277.2 L1716.1,283.1 L1716.5,283.0 L1716.9,286.2 L1717.3,285.7 L1717.7,289.3 L1718.1,287.0 L1718.5,287.2 L1718.9,288.7 L1719.3,289.3 L1719.7,288.6 L1720.1,291.0 L1720.5,288.6 L1720.9,290.0 L1721.3,290.3 L1721.7,290.5 L1722.1,290.9 L1722.5,294.8 L1722.9,292.6 L1723.3,287.5 L1723.7,285.8 L1724.1,287.8 L1724.5,284.8 L1724.9,285.2 L1725.3,286.9 L1725.7,285.9 L1726.1,288.3" fill="none" stroke="#f00" stroke-width="2.5" stroke-linejoin="round"/>
<line x1="1244.50" y1="455.00" x2="1244.50" y2="449.70" stroke="#000" stroke-width="1.1"/>
<line x1="1319.50" y1="455.00" x2="1319.50" y2="449.70" stroke="#000" stroke-width="1.1"/>
<line x1="1393.50" y1="455.00" x2="1393.50" y2="449.70" stroke="#000" stroke-width="1.1"/>
<line x1="1467.50" y1="455.00" x2="1467.50" y2="449.70" stroke="#000" stroke-width="1.1"/>
<line x1="1542.50" y1="455.00" x2="1542.50" y2="449.70" stroke="#000" stroke-width="1.1"/>
<line x1="1616.50" y1="455.00" x2="1616.50" y2="449.70" stroke="#000" stroke-width="1.1"/>
<line x1="1691.50" y1="455.00" x2="1691.50" y2="449.70" stroke="#000" stroke-width="1.1"/>
<line x1="1765.50" y1="455.00" x2="1765.50" y2="449.70" stroke="#000" stroke-width="1.1"/>
<line x1="1205.00" y1="455.50" x2="1210.30" y2="455.50" stroke="#000" stroke-width="1.1"/>
<line x1="1205.00" y1="411.50" x2="1210.30" y2="411.50" stroke="#000" stroke-width="1.1"/>
<line x1="1205.00" y1="368.50" x2="1210.30" y2="368.50" stroke="#000" stroke-width="1.1"/>
<line x1="1205.00" y1="325.50" x2="1210.30" y2="325.50" stroke="#000" stroke-width="1.1"/>
<line x1="1205.00" y1="282.50" x2="1210.30" y2="282.50" stroke="#000" stroke-width="1.1"/>
<line x1="1205.00" y1="239.50" x2="1210.30" y2="239.50" stroke="#000" stroke-width="1.1"/>
<line x1="1205.00" y1="196.50" x2="1210.30" y2="196.50" stroke="#000" stroke-width="1.1"/>
<line x1="1205.00" y1="153.50" x2="1210.30" y2="153.50" stroke="#000" stroke-width="1.1"/>
<line x1="1205.00" y1="110.50" x2="1210.30" y2="110.50" stroke="#000" stroke-width="1.1"/>
<line x1="1800.00" y1="455.50" x2="1794.70" y2="455.50" stroke="#f00" stroke-width="1.1"/>
<line x1="1800.00" y1="386.50" x2="1794.70" y2="386.50" stroke="#f00" stroke-width="1.1"/>
<line x1="1800.00" y1="317.50" x2="1794.70" y2="317.50" stroke="#f00" stroke-width="1.1"/>
<line x1="1800.00" y1="248.50" x2="1794.70" y2="248.50" stroke="#f00" stroke-width="1.1"/>
<line x1="1800.00" y1="179.50" x2="1794.70" y2="179.50" stroke="#f00" stroke-width="1.1"/>
<line x1="1800.00" y1="110.50" x2="1794.70" y2="110.50" stroke="#f00" stroke-width="1.1"/>
<line x1="1800.00" y1="110.00" x2="1800.00" y2="455.00" stroke="#f00" stroke-width="2.0"/>
<path d="M1801,110 H1205 V455 H1801" fill="none" stroke="#000" stroke-width="2.0"/>
<text x="1200.80" y="462.80" font-size="19.50" text-anchor="end" fill="#000" letter-spacing="0.6">−20</text>
<text x="1200.80" y="419.68" font-size="19.50" text-anchor="end" fill="#000" letter-spacing="0.6">−15</text>
<text x="1200.80" y="376.55" font-size="19.50" text-anchor="end" fill="#000" letter-spacing="0.6">−10</text>
<text x="1200.80" y="333.43" font-size="19.50" text-anchor="end" fill="#000" letter-spacing="0.6">−5</text>
<text x="1200.80" y="290.30" font-size="19.50" text-anchor="end" fill="#000" letter-spacing="0.6">0</text>
<text x="1200.80" y="247.18" font-size="19.50" text-anchor="end" fill="#000" letter-spacing="0.6">5</text>
<text x="1200.80" y="204.05" font-size="19.50" text-anchor="end" fill="#000" letter-spacing="0.6">10</text>
<text x="1200.80" y="160.93" font-size="19.50" text-anchor="end" fill="#000" letter-spacing="0.6">15</text>
<text x="1200.80" y="117.80" font-size="19.50" text-anchor="end" fill="#000" letter-spacing="0.6">20</text>
<text x="1804.96" y="462.80" font-size="19.50" text-anchor="start" fill="#f00" letter-spacing="0.6">0</text>
<text x="1804.96" y="393.80" font-size="19.50" text-anchor="start" fill="#f00" letter-spacing="0.6">200</text>
<text x="1804.96" y="324.80" font-size="19.50" text-anchor="start" fill="#f00" letter-spacing="0.6">400</text>
<text x="1804.96" y="255.80" font-size="19.50" text-anchor="start" fill="#f00" letter-spacing="0.6">600</text>
<text x="1804.96" y="186.80" font-size="19.50" text-anchor="start" fill="#f00" letter-spacing="0.6">800</text>
<text x="1804.96" y="117.80" font-size="19.50" text-anchor="start" fill="#f00" letter-spacing="0.6">1000</text>
<text x="1115.80" y="283.30" font-size="24.00" text-anchor="middle" fill="#000" transform="rotate(-90 1115.80 283.30)">IMF Bz</text>
<text x="1145.80" y="282.30" font-size="24.00" text-anchor="middle" fill="#000" transform="rotate(-90 1145.80 282.30)">( nT )</text>
<text x="1878.90" y="283.60" font-size="24.00" text-anchor="middle" fill="#f00" transform="rotate(-90 1878.90 283.60)">SW Velocity</text>
<g transform="translate(1911.90 337.00) rotate(-90)" fill="#f00">
<text x="-2.06" y="0.00" font-size="24.00">( km</text>
<text x="56.00" y="0.00" font-size="24.00">s</text>
<text x="68.40" y="-9.90" font-size="16.80">−1</text>
<text x="102.00" y="0.00" font-size="24.00">)</text>
</g>
<rect x="1205.00" y="478.00" width="595.00" height="344.00" fill="#fff"/>
<line x1="1205.00" y1="512.45" x2="1800.00" y2="512.45" stroke="#000" stroke-width="2.0" stroke-dasharray="2.08 3.43"/>
<line x1="1726.00" y1="478.00" x2="1726.00" y2="822.00" stroke="#1f77b4" stroke-width="2.2" stroke-dasharray="2.3 3.21"/>
<path d="M1206.0,517.0 L1209.0,515.6 L1214.0,515.6 L1219.0,518.0 L1225.0,515.6 L1231.0,518.0 L1235.0,526.4 L1241.0,519.0 L1247.0,514.0 L1251.0,515.6 L1256.0,517.0 L1261.0,512.0 L1267.0,517.0 L1272.0,519.6 L1276.0,515.0 L1279.0,515.0 L1285.0,511.0 L1289.0,513.0 L1294.0,514.6 L1300.0,512.0 L1304.0,515.0 L1309.4,521.4 L1315.0,512.0 L1319.0,510.0 L1325.0,511.0 L1329.0,513.0 L1334.0,514.0 L1338.0,512.4 L1344.0,517.4 L1349.0,516.6 L1353.0,515.0 L1357.0,511.4 L1360.0,511.0 L1365.0,506.4 L1369.0,507.6 L1374.0,511.0 L1378.0,516.0 L1381.0,516.6 L1385.0,512.0 L1390.0,506.4 L1395.0,508.6 L1401.0,510.0 L1407.0,510.4 L1412.0,511.4 L1417.0,514.0 L1424.0,516.4 L1428.0,512.4 L1433.0,509.4 L1438.0,509.4 L1444.0,512.0 L1449.0,514.6 L1453.0,511.4 L1456.0,507.0 L1461.0,505.0 L1464.0,508.0 L1465.0,509.6 L1470.0,509.0 L1473.0,512.0 L1477.0,522.4 L1480.0,523.0 L1484.0,519.0 L1487.0,518.4 L1490.0,516.0 L1493.0,517.0 L1497.0,515.0 L1500.6,513.6 L1505.0,506.4 L1508.0,508.0 L1513.0,513.0 L1517.0,515.4 L1523.0,510.4 L1526.0,510.4 L1529.0,512.0 L1534.0,510.0 L1539.0,509.0 L1542.0,511.0 L1548.0,517.6 L1552.0,514.4 L1557.0,511.4 L1561.0,511.6 L1567.0,512.4 L1572.0,511.4 L1576.0,511.0 L1580.0,512.4 L1585.0,512.0 L1589.0,513.6 L1593.0,512.0 L1598.0,510.0 L1602.0,511.0 L1607.0,516.0 L1612.0,527.0 L1616.4,537.4 L1620.0,528.0 L1623.0,523.0 L1627.0,521.0 L1630.0,520.6 L1633.0,518.0 L1636.0,517.6 L1639.0,512.0 L1643.0,512.0 L1647.0,515.0 L1651.0,512.4 L1657.0,512.0 L1663.0,515.0 L1669.0,514.0 L1673.0,512.0 L1678.0,512.0 L1682.0,516.0 L1685.0,516.4 L1688.0,512.0 L1693.0,513.0 L1697.0,514.0 L1702.0,513.0 L1707.0,511.4 L1710.0,511.6 L1713.0,513.6 L1716.0,513.6 L1719.0,514.4 L1723.0,512.4" fill="none" stroke="#000" stroke-width="2.0" stroke-linejoin="round"/>
<path d="M1206.0,634.8 L1206.3,633.8 L1206.7,637.8 L1207.0,644.4 L1207.4,645.1 L1207.7,656.0 L1208.1,657.9 L1208.4,654.0 L1208.8,657.1 L1209.1,660.2 L1209.5,658.5 L1209.8,660.7 L1210.2,666.1 L1210.5,657.2 L1210.9,663.5 L1211.2,659.7 L1211.6,668.5 L1211.9,659.6 L1212.3,659.5 L1212.6,666.9 L1213.0,660.8 L1213.3,657.0 L1213.7,661.3 L1214.0,668.7 L1214.4,661.5 L1214.7,667.6 L1215.1,664.8 L1215.4,651.1 L1215.8,653.7 L1216.1,669.7 L1216.5,673.5 L1216.8,670.9 L1217.2,669.9 L1217.5,671.3 L1217.9,667.8 L1218.2,665.6 L1218.6,673.2 L1218.9,662.5 L1219.3,668.4 L1219.6,666.3 L1220.0,658.6 L1220.3,669.6 L1220.7,655.1 L1221.0,658.6 L1221.4,659.8 L1221.7,669.7 L1222.1,664.4 L1222.4,663.5 L1222.8,655.9 L1223.1,662.2 L1223.5,657.5 L1223.8,662.2 L1224.2,664.6 L1224.5,662.1 L1224.9,665.1 L1225.2,659.6 L1225.6,664.3 L1225.9,659.4 L1226.3,660.6 L1226.6,660.4 L1227.0,656.5 L1227.3,654.5 L1227.7,649.1 L1228.0,639.6 L1228.4,644.4 L1228.7,640.6 L1229.1,638.3 L1229.4,633.6 L1229.8,630.0 L1230.1,630.2 L1230.5,624.2 L1230.8,620.8 L1231.2,620.6 L1231.5,623.3 L1231.9,622.2 L1232.2,618.0 L1232.6,617.5 L1232.9,618.9 L1233.3,615.1 L1233.6,615.5 L1234.0,613.1 L1234.3,614.6 L1234.7,615.5 L1235.0,626.7 L1235.4,617.3 L1235.7,612.0 L1236.1,613.4 L1236.4,613.0 L1236.8,613.8 L1237.1,613.2 L1237.5,615.5 L1237.8,614.5 L1238.2,621.5 L1238.5,617.4 L1238.9,612.8 L1239.2,620.9 L1239.6,624.3 L1239.9,620.5 L1240.3,615.1 L1240.6,620.1 L1241.0,621.0 L1241.3,622.8 L1241.7,619.6 L1242.0,625.6 L1242.4,618.0 L1242.7,622.1 L1243.1,621.1 L1243.4,621.7 L1243.8,618.7 L1244.1,618.8 L1244.5,615.0 L1244.8,620.1 L1245.2,620.6 L1245.5,615.9 L1245.9,619.3 L1246.2,618.0 L1246.6,620.8 L1246.9,623.0 L1247.3,617.0 L1247.6,619.7 L1248.0,612.4 L1248.3,626.1 L1248.7,621.9 L1249.0,621.1 L1249.4,624.0 L1249.7,620.2 L1250.1,625.5 L1250.4,616.0 L1250.8,622.2 L1251.1,616.9 L1251.5,622.7 L1251.8,620.0 L1252.2,620.0 L1252.5,615.1 L1252.9,620.5 L1253.2,620.6 L1253.6,617.3 L1253.9,619.6 L1254.3,617.0 L1254.6,617.8 L1255.0,624.3 L1255.3,620.7 L1255.7,619.0 L1256.0,619.8 L1256.4,618.6 L1256.7,622.0 L1257.1,611.1 L1257.4,619.3 L1257.8,626.7 L1258.1,620.0 L1258.5,622.2 L1258.8,623.0 L1259.2,619.6 L1259.5,622.5 L1259.9,624.5 L1260.2,626.0 L1260.6,623.4 L1260.9,626.4 L1261.3,631.2 L1261.6,627.9 L1262.0,628.2 L1262.3,627.4 L1262.7,625.7 L1263.0,626.8 L1263.4,624.9 L1263.7,623.6 L1264.1,625.8 L1264.4,625.1 L1264.8,623.1 L1265.1,618.8 L1265.5,624.4 L1265.8,620.3 L1266.2,619.8 L1266.5,614.8 L1266.9,619.4 L1267.2,618.0 L1267.6,620.6 L1267.9,616.3 L1268.3,609.0 L1268.6,611.7 L1269.0,613.7 L1269.3,611.2 L1269.7,606.0 L1270.0,609.3 L1270.4,604.5 L1270.7,609.5 L1271.1,609.2 L1271.4,609.8 L1271.8,608.7 L1272.1,609.8 L1272.5,613.4 L1272.8,616.0 L1273.2,613.5 L1273.5,614.4 L1273.9,614.0 L1274.2,620.7 L1274.6,618.3 L1274.9,622.3 L1275.3,619.9 L1275.6,620.4 L1276.0,618.6 L1276.3,618.9 L1276.7,621.1 L1277.0,621.0 L1277.4,616.8 L1277.7,620.3 L1278.1,623.3 L1278.4,618.9 L1278.8,620.0 L1279.1,624.0 L1279.5,619.3 L1279.8,619.5 L1280.2,623.6 L1280.5,614.8 L1280.9,622.6 L1281.2,624.0 L1281.6,623.2 L1281.9,619.7 L1282.3,617.2 L1282.6,618.5 L1283.0,618.9 L1283.3,617.2 L1283.7,624.7 L1284.0,620.2 L1284.4,626.3 L1284.7,620.0 L1285.1,620.1 L1285.4,620.1 L1285.8,621.5 L1286.1,623.2 L1286.5,622.8 L1286.8,623.2 L1287.2,633.5 L1287.5,622.1 L1287.9,626.8 L1288.2,628.5 L1288.6,624.9 L1288.9,628.2 L1289.3,626.1 L1289.6,626.1 L1290.0,623.6 L1290.3,621.1 L1290.7,618.2 L1291.0,620.0 L1291.4,614.4 L1291.7,617.5 L1292.1,612.0 L1292.4,611.3 L1292.8,614.2 L1293.1,611.1 L1293.5,614.6 L1293.8,606.8 L1294.2,611.1 L1294.5,599.2 L1294.9,610.2 L1295.2,606.9 L1295.6,604.5 L1295.9,604.0 L1296.3,608.7 L1296.6,606.2 L1297.0,603.8 L1297.3,606.4 L1297.7,612.4 L1298.0,605.9 L1298.4,615.9 L1298.7,609.2 L1299.1,616.7 L1299.4,614.6 L1299.8,614.8 L1300.1,619.9 L1300.5,616.4 L1300.8,617.7 L1301.2,618.1 L1301.5,623.6 L1301.9,616.6 L1302.2,621.0 L1302.6,623.6 L1302.9,613.1 L1303.3,625.5 L1303.6,623.4 L1304.0,623.5 L1304.3,623.0 L1304.7,622.6 L1305.0,622.2 L1305.4,624.0 L1305.7,626.3 L1306.1,623.2 L1306.4,626.9 L1306.8,624.5 L1307.1,621.1 L1307.5,623.8 L1307.8,622.1 L1308.2,614.1 L1308.5,619.2 L1308.9,620.4 L1309.2,617.1 L1309.6,620.1 L1309.9,616.6 L1310.3,618.0 L1310.6,615.4 L1311.0,613.5 L1311.3,613.5 L1311.7,616.1 L1312.0,614.4 L1312.4,616.0 L1312.7,616.1 L1313.1,605.7 L1313.4,612.4 L1313.8,615.2 L1314.1,612.1 L1314.5,612.2 L1314.8,609.1 L1315.2,612.6 L1315.5,614.1 L1315.9,613.0 L1316.2,610.8 L1316.6,612.6 L1316.9,611.6 L1317.3,610.6 L1317.6,611.9 L1318.0,611.1 L1318.3,613.3 L1318.7,613.3 L1319.0,611.4 L1319.4,613.0 L1319.7,611.1 L1320.1,614.9 L1320.4,612.1 L1320.8,609.1 L1321.1,614.7 L1321.5,614.5 L1321.8,610.2 L1322.2,610.4 L1322.5,613.8 L1322.9,609.6 L1323.2,610.0 L1323.6,609.5 L1323.9,609.1 L1324.3,609.9 L1324.6,607.0 L1325.0,609.2 L1325.3,609.3 L1325.7,610.6 L1326.0,610.6 L1326.4,608.9 L1326.7,606.1 L1327.1,606.7 L1327.4,608.1 L1327.8,610.8 L1328.1,611.7 L1328.5,605.0 L1328.8,606.3 L1329.2,606.2 L1329.5,606.9 L1329.9,608.8 L1330.2,606.2 L1330.6,610.2 L1330.9,609.9 L1331.3,610.2 L1331.6,610.5 L1332.0,609.1 L1332.3,611.0 L1332.7,616.7 L1333.0,615.8 L1333.4,616.1 L1333.7,611.1 L1334.1,620.0 L1334.4,620.1 L1334.8,617.6 L1335.1,621.1 L1335.5,621.4 L1335.8,621.9 L1336.2,618.1 L1336.5,620.3 L1336.9,625.6 L1337.2,622.1 L1337.6,618.8 L1337.9,625.2 L1338.3,626.2 L1338.6,625.6 L1339.0,627.2 L1339.3,628.1 L1339.7,628.4 L1340.0,624.5 L1340.4,630.8 L1340.7,624.4 L1341.1,621.6 L1341.4,622.1 L1341.8,625.4 L1342.1,618.9 L1342.5,621.5 L1342.8,616.6 L1343.2,619.1 L1343.5,621.4 L1343.9,621.4 L1344.2,620.4 L1344.6,618.8 L1344.9,621.8 L1345.3,619.6 L1345.6,621.0 L1346.0,620.3 L1346.3,619.0 L1346.7,621.3 L1347.0,622.9 L1347.4,620.1 L1347.7,616.2 L1348.1,620.3 L1348.4,624.0 L1348.8,622.7 L1349.1,622.8 L1349.5,621.4 L1349.8,621.8 L1350.2,619.8 L1350.5,620.2 L1350.9,621.8 L1351.2,623.1 L1351.6,613.5 L1351.9,620.7 L1352.3,619.5 L1352.6,617.6 L1353.0,624.6 L1353.3,618.2 L1353.7,620.1 L1354.0,616.8 L1354.4,619.5 L1354.7,620.8 L1355.1,620.9 L1355.4,628.0 L1355.8,620.3 L1356.1,620.8 L1356.5,619.0 L1356.8,618.9 L1357.2,620.3 L1357.5,620.6 L1357.9,619.2 L1358.2,619.2 L1358.6,618.2 L1358.9,620.5 L1359.3,616.4 L1359.6,619.7 L1360.0,618.1 L1360.3,620.8 L1360.7,621.4 L1361.0,616.8 L1361.4,620.0 L1361.7,619.9 L1362.1,618.9 L1362.4,618.6 L1362.8,615.6 L1363.1,617.1 L1363.5,613.8 L1363.8,619.7 L1364.2,618.8 L1364.5,617.8 L1364.9,616.2 L1365.2,616.7 L1365.6,614.5 L1365.9,618.9 L1366.3,614.2 L1366.6,623.5 L1367.0,618.6 L1367.3,618.4 L1367.7,624.1 L1368.0,618.2 L1368.4,617.3 L1368.7,616.9 L1369.1,612.6 L1369.4,619.4 L1369.8,618.5 L1370.1,616.9 L1370.5,610.7 L1370.8,618.4 L1371.2,617.6 L1371.5,619.3 L1371.9,622.4 L1372.2,620.7 L1372.6,622.9 L1372.9,630.4 L1373.3,621.2 L1373.6,622.0 L1374.0,625.0 L1374.3,621.8 L1374.7,621.8 L1375.0,619.5 L1375.4,621.8 L1375.7,618.8 L1376.1,620.8 L1376.4,624.6 L1376.8,620.7 L1377.1,624.2 L1377.5,623.7 L1377.8,623.5 L1378.2,623.6 L1378.5,626.5 L1378.9,628.1 L1379.2,620.2 L1379.6,617.2 L1379.9,621.0 L1380.3,625.5 L1380.6,622.4 L1381.0,618.7 L1381.3,621.3 L1381.7,619.8 L1382.0,619.8 L1382.4,621.6 L1382.7,618.6 L1383.1,618.2 L1383.4,618.4 L1383.8,616.6 L1384.1,614.5 L1384.5,616.3 L1384.8,616.4 L1385.2,614.6 L1385.5,616.3 L1385.9,616.2 L1386.2,612.0 L1386.6,615.0 L1386.9,615.0 L1387.3,615.4 L1387.6,617.3 L1388.0,617.9 L1388.3,619.7 L1388.7,617.5 L1389.0,628.1 L1389.4,617.5 L1389.7,617.7 L1390.1,619.6 L1390.4,612.3 L1390.8,622.6 L1391.1,617.7 L1391.5,616.7 L1391.8,619.5 L1392.2,620.9 L1392.5,619.2 L1392.9,628.8 L1393.2,620.4 L1393.6,620.6 L1393.9,621.0 L1394.3,624.3 L1394.6,624.6 L1395.0,623.3 L1395.3,628.0 L1395.7,628.2 L1396.0,625.3 L1396.4,626.8 L1396.7,626.3 L1397.1,623.5 L1397.4,628.4 L1397.8,622.5 L1398.1,623.0 L1398.5,624.5 L1398.8,628.8 L1399.2,627.4 L1399.5,630.2 L1399.9,632.3 L1400.2,640.8 L1400.6,632.4 L1400.9,631.1 L1401.3,634.1 L1401.6,633.8 L1402.0,636.2 L1402.3,637.4 L1402.7,635.4 L1403.0,632.8 L1403.4,633.8 L1403.7,634.1 L1404.1,633.6 L1404.4,632.5 L1404.8,631.1 L1405.1,629.0 L1405.5,628.6 L1405.8,632.5 L1406.2,633.5 L1406.5,631.4 L1406.9,634.0 L1407.2,628.4 L1407.6,632.0 L1407.9,631.5 L1408.3,633.2 L1408.6,633.0 L1409.0,628.9 L1409.3,629.6 L1409.7,632.2 L1410.0,633.2 L1410.4,636.2 L1410.7,631.9 L1411.1,634.4 L1411.4,636.6 L1411.8,629.1 L1412.1,635.1 L1412.5,650.9 L1412.8,630.1 L1413.2,635.8 L1413.5,640.6 L1413.9,639.7 L1414.2,638.8 L1414.6,642.9 L1414.9,645.3 L1415.3,652.6 L1415.6,644.9 L1416.0,653.7 L1416.3,656.1 L1416.7,656.5 L1417.0,654.9 L1417.4,648.1 L1417.7,651.4 L1418.1,658.1 L1418.4,657.4 L1418.8,655.2 L1419.1,652.2 L1419.5,658.4 L1419.8,662.0 L1420.2,657.3 L1420.5,654.1 L1420.9,657.0 L1421.2,659.4 L1421.6,652.5 L1421.9,653.1 L1422.3,655.3 L1422.6,639.7 L1423.0,653.8 L1423.3,651.9 L1423.7,653.6 L1424.0,648.1 L1424.4,650.1 L1424.7,652.8 L1425.1,650.0 L1425.4,652.0 L1425.8,666.3 L1426.1,659.0 L1426.5,665.2 L1426.8,657.0 L1427.2,669.3 L1427.5,667.5 L1427.9,682.0 L1428.2,665.7 L1428.6,668.7 L1428.9,679.8 L1429.3,671.9 L1429.6,667.3 L1430.0,676.7 L1430.3,677.2 L1430.7,670.1 L1431.0,672.8 L1431.4,675.7 L1431.7,674.7 L1432.1,667.9 L1432.4,670.6 L1432.8,679.1 L1433.1,684.3 L1433.5,675.8 L1433.8,669.4 L1434.2,665.7 L1434.5,661.9 L1434.9,662.5 L1435.2,657.2 L1435.6,659.3 L1435.9,660.7 L1436.3,661.5 L1436.6,666.8 L1437.0,665.2 L1437.3,671.2 L1437.7,674.7 L1438.0,669.0 L1438.4,673.3 L1438.7,676.8 L1439.1,675.7 L1439.4,676.9 L1439.8,684.6 L1440.1,666.7 L1440.5,679.1 L1440.8,680.6 L1441.2,671.8 L1441.5,680.9 L1441.9,665.4 L1442.2,671.6 L1442.6,675.6 L1442.9,656.7 L1443.3,677.7 L1443.6,664.1 L1444.0,667.0 L1444.3,660.8 L1444.7,657.3 L1445.0,660.0 L1445.4,663.9 L1445.7,660.1 L1446.1,653.7 L1446.4,663.3 L1446.8,654.4 L1447.1,656.6 L1447.5,651.7 L1447.8,653.9 L1448.2,651.2 L1448.5,645.8 L1448.9,648.2 L1449.2,651.1 L1449.6,658.1 L1449.9,635.0 L1450.3,642.1 L1450.6,642.0 L1451.0,643.5 L1451.3,645.2 L1451.7,642.3 L1452.0,637.3 L1452.4,641.4 L1452.7,639.4 L1453.1,637.5 L1453.4,639.9 L1453.8,636.6 L1454.1,641.2 L1454.5,646.4 L1454.8,636.5 L1455.2,634.3 L1455.5,636.8 L1455.9,635.9 L1456.2,636.6 L1456.6,635.3 L1456.9,638.7 L1457.3,637.1 L1457.6,635.5 L1458.0,629.2 L1458.3,630.2 L1458.7,627.1 L1459.0,635.3 L1459.4,630.8 L1459.7,635.1 L1460.1,634.2 L1460.4,637.8 L1460.8,636.9 L1461.1,642.8 L1461.5,625.2 L1461.8,636.0 L1462.2,642.7 L1462.5,639.3 L1462.9,641.4 L1463.2,635.5 L1463.6,639.2 L1463.9,632.6 L1464.3,628.0 L1464.6,624.4 L1465.0,622.7 L1465.3,616.9 L1465.7,624.6 L1466.0,623.1 L1466.4,615.6 L1466.7,616.9 L1467.1,612.6 L1467.4,611.3 L1467.8,610.5 L1468.1,597.4 L1468.5,612.3 L1468.8,613.7 L1469.2,606.7 L1469.5,608.2 L1469.9,604.2 L1470.2,601.8 L1470.6,606.1 L1470.9,600.6 L1471.3,605.3 L1471.6,599.8 L1472.0,601.0 L1472.3,598.7 L1472.7,595.6 L1473.0,592.6 L1473.4,603.7 L1473.7,606.6 L1474.1,610.6 L1474.4,616.5 L1474.8,617.0 L1475.1,620.7 L1475.5,621.9 L1475.8,622.4 L1476.2,621.8 L1476.5,619.8 L1476.9,611.1 L1477.2,619.9 L1477.6,619.1 L1477.9,616.3 L1478.3,616.2 L1478.6,617.3 L1479.0,603.7 L1479.3,608.4 L1479.7,611.1 L1480.0,611.8 L1480.4,617.8 L1480.7,615.8 L1481.1,614.1 L1481.4,609.3 L1481.8,614.2 L1482.1,617.8 L1482.5,619.4 L1482.8,611.4 L1483.2,615.8 L1483.5,617.8 L1483.9,617.1 L1484.2,613.4 L1484.6,611.2 L1484.9,610.3 L1485.3,611.4 L1485.6,616.8 L1486.0,620.4 L1486.3,619.7 L1486.7,620.6 L1487.0,620.1 L1487.4,615.3 L1487.7,622.3 L1488.1,625.2 L1488.4,617.4 L1488.8,627.4 L1489.1,622.9 L1489.5,628.7 L1489.8,625.3 L1490.2,633.7 L1490.5,624.6 L1490.9,627.6 L1491.2,629.6 L1491.6,638.1 L1491.9,632.3 L1492.3,624.5 L1492.6,633.8 L1493.0,629.1 L1493.3,628.6 L1493.7,634.7 L1494.0,631.9 L1494.4,627.2 L1494.7,625.4 L1495.1,625.9 L1495.4,619.6 L1495.8,623.4 L1496.1,618.2 L1496.5,606.6 L1496.8,626.2 L1497.2,612.8 L1497.5,607.3 L1497.9,610.3 L1498.2,609.2 L1498.6,608.3 L1498.9,613.4 L1499.3,610.2 L1499.6,624.1 L1500.0,622.6 L1500.3,608.3 L1500.7,619.9 L1501.0,620.8 L1501.4,608.7 L1501.7,617.2 L1502.1,618.7 L1502.4,617.5 L1502.8,621.2 L1503.1,623.0 L1503.5,617.5 L1503.8,623.2 L1504.2,625.9 L1504.5,630.0 L1504.9,623.9 L1505.2,627.1 L1505.6,623.1 L1505.9,621.9 L1506.3,627.2 L1506.6,613.6 L1507.0,625.2 L1507.3,635.0 L1507.7,620.1 L1508.0,632.3 L1508.4,633.6 L1508.7,631.4 L1509.1,632.8 L1509.4,638.3 L1509.8,634.7 L1510.1,638.8 L1510.5,637.7 L1510.8,633.7 L1511.2,636.0 L1511.5,636.8 L1511.9,642.0 L1512.2,641.7 L1512.6,642.9 L1512.9,646.7 L1513.3,645.3 L1513.6,646.0 L1514.0,648.2 L1514.3,646.8 L1514.7,643.1 L1515.0,644.2 L1515.4,647.3 L1515.7,651.5 L1516.1,652.6 L1516.4,652.9 L1516.8,652.0 L1517.1,654.9 L1517.5,656.5 L1517.8,653.3 L1518.2,661.2 L1518.5,658.6 L1518.9,658.8 L1519.2,664.0 L1519.6,663.8 L1519.9,664.0 L1520.3,663.6 L1520.6,665.9 L1521.0,664.3 L1521.3,661.2 L1521.7,663.8 L1522.0,652.0 L1522.4,661.3 L1522.7,666.5 L1523.1,664.3 L1523.4,667.2 L1523.8,671.4 L1524.1,674.2 L1524.5,673.0 L1524.8,668.8 L1525.2,676.6 L1525.5,672.6 L1525.9,678.1 L1526.2,676.2 L1526.6,687.5 L1526.9,683.8 L1527.3,680.5 L1527.6,671.1 L1528.0,684.9 L1528.3,683.8 L1528.7,683.3 L1529.0,680.1 L1529.4,672.4 L1529.7,670.1 L1530.1,656.6 L1530.4,651.9 L1530.8,654.5 L1531.1,639.3 L1531.5,643.3 L1531.8,646.3 L1532.2,640.6 L1532.5,645.9 L1532.9,640.2 L1533.2,629.7 L1533.6,638.7 L1533.9,633.6 L1534.3,638.2 L1534.6,627.0 L1535.0,628.3 L1535.3,626.3 L1535.7,620.1 L1536.0,620.2 L1536.4,623.6 L1536.7,619.2 L1537.1,617.1 L1537.4,608.4 L1537.8,616.5 L1538.1,613.2 L1538.5,622.1 L1538.8,629.1 L1539.2,621.7 L1539.5,619.7 L1539.9,625.2 L1540.2,614.4 L1540.6,617.4 L1540.9,617.2 L1541.3,616.9 L1541.6,620.7 L1542.0,611.7 L1542.3,617.9 L1542.7,619.7 L1543.0,623.3 L1543.4,621.8 L1543.7,624.9 L1544.1,628.5 L1544.4,624.0 L1544.8,636.7 L1545.1,630.5 L1545.5,629.7 L1545.8,627.6 L1546.2,637.2 L1546.5,639.0 L1546.9,634.3 L1547.2,636.1 L1547.6,636.5 L1547.9,644.7 L1548.3,642.1 L1548.6,658.4 L1549.0,646.5 L1549.3,645.8 L1549.7,653.2 L1550.0,648.5 L1550.4,657.0 L1550.7,644.2 L1551.1,643.2 L1551.4,649.6 L1551.8,651.2 L1552.1,645.9 L1552.5,650.4 L1552.8,655.1 L1553.2,646.1 L1553.5,645.4 L1553.9,646.9 L1554.2,645.6 L1554.6,654.0 L1554.9,643.3 L1555.3,646.0 L1555.6,647.0 L1556.0,643.6 L1556.3,646.7 L1556.7,642.0 L1557.0,644.0 L1557.4,649.4 L1557.7,654.1 L1558.1,658.8 L1558.4,663.5 L1558.8,658.6 L1559.1,664.5 L1559.5,665.4 L1559.8,663.0 L1560.2,656.8 L1560.5,661.4 L1560.9,659.3 L1561.2,659.1 L1561.6,658.4 L1561.9,658.4 L1562.3,659.7 L1562.6,659.7 L1563.0,655.3 L1563.3,648.3 L1563.7,656.8 L1564.0,647.0 L1564.4,646.4 L1564.7,644.2 L1565.1,634.6 L1565.4,641.0 L1565.8,644.4 L1566.1,641.3 L1566.5,636.7 L1566.8,628.8 L1567.2,629.5 L1567.5,634.9 L1567.9,629.6 L1568.2,628.2 L1568.6,628.1 L1568.9,623.8 L1569.3,617.9 L1569.6,626.6 L1570.0,628.2 L1570.3,625.6 L1570.7,621.1 L1571.0,628.2 L1571.4,624.7 L1571.7,626.2 L1572.1,626.9 L1572.4,633.4 L1572.8,628.5 L1573.1,623.7 L1573.5,631.6 L1573.8,629.8 L1574.2,631.4 L1574.5,632.6 L1574.9,623.1 L1575.2,635.7 L1575.6,637.9 L1575.9,638.2 L1576.3,640.9 L1576.6,637.7 L1577.0,638.2 L1577.3,639.6 L1577.7,639.4 L1578.0,650.1 L1578.4,639.9 L1578.7,652.9 L1579.1,640.6 L1579.4,643.8 L1579.8,641.9 L1580.1,635.0 L1580.5,642.4 L1580.8,631.7 L1581.2,631.6 L1581.5,628.9 L1581.9,629.3 L1582.2,634.3 L1582.6,630.8 L1582.9,632.2 L1583.3,628.1 L1583.6,626.6 L1584.0,628.9 L1584.3,624.2 L1584.7,630.3 L1585.0,631.2 L1585.4,630.3 L1585.7,635.5 L1586.1,631.3 L1586.4,633.4 L1586.8,629.5 L1587.1,627.6 L1587.5,615.4 L1587.8,626.6 L1588.2,620.4 L1588.5,623.7 L1588.9,630.8 L1589.2,624.2 L1589.6,621.0 L1589.9,618.0 L1590.3,616.8 L1590.6,619.5 L1591.0,613.1 L1591.3,611.8 L1591.7,620.8 L1592.0,609.9 L1592.4,618.1 L1592.7,612.7 L1593.1,613.1 L1593.4,609.9 L1593.8,608.8 L1594.1,611.7 L1594.5,612.0 L1594.8,614.4 L1595.2,608.4 L1595.5,605.2 L1595.9,604.4 L1596.2,602.9 L1596.6,606.9 L1596.9,602.5 L1597.3,605.9 L1597.6,606.6 L1598.0,603.1 L1598.3,604.3 L1598.7,605.3 L1599.0,607.3 L1599.4,603.5 L1599.7,607.3 L1600.1,604.8 L1600.4,604.4 L1600.8,613.3 L1601.1,600.8 L1601.5,600.5 L1601.8,603.5 L1602.2,608.6 L1602.5,598.7 L1602.9,599.1 L1603.2,601.4 L1603.6,598.5 L1603.9,600.1 L1604.3,592.2 L1604.6,596.5 L1605.0,596.0 L1605.3,598.9 L1605.7,601.4 L1606.0,596.2 L1606.4,601.6 L1606.7,604.5 L1607.1,607.0 L1607.4,608.3 L1607.8,607.2 L1608.1,605.8 L1608.5,610.3 L1608.8,601.3 L1609.2,608.2 L1609.5,600.7 L1609.9,607.5 L1610.2,610.0 L1610.6,608.5 L1610.9,608.5 L1611.3,610.5 L1611.6,607.9 L1612.0,608.9 L1612.3,611.2 L1612.7,605.5 L1613.0,611.0 L1613.4,612.0 L1613.7,612.1 L1614.1,613.2 L1614.4,610.9 L1614.8,612.6 L1615.1,617.2 L1615.5,616.3 L1615.8,614.7 L1616.2,616.6 L1616.5,613.1 L1616.9,616.6 L1617.2,614.5 L1617.6,619.2 L1617.9,620.7 L1618.3,620.9 L1618.6,618.1 L1619.0,620.5 L1619.3,618.9 L1619.7,616.5 L1620.0,625.2 L1620.4,616.9 L1620.7,613.1 L1621.1,613.3 L1621.4,604.3 L1621.8,612.2 L1622.1,611.6 L1622.5,609.8 L1622.8,609.5 L1623.2,612.3 L1623.5,612.0 L1623.9,611.3 L1624.2,608.6 L1624.6,610.1 L1624.9,610.6 L1625.3,606.0 L1625.6,604.4 L1626.0,607.7 L1626.3,610.2 L1626.7,609.9 L1627.0,604.2 L1627.4,609.8 L1627.7,609.1 L1628.1,611.7 L1628.4,613.0 L1628.8,608.9 L1629.1,610.1 L1629.5,611.4 L1629.8,612.2 L1630.2,611.5 L1630.5,611.4 L1630.9,616.1 L1631.2,613.4 L1631.6,613.8 L1631.9,620.8 L1632.3,613.9 L1632.6,612.8 L1633.0,613.8 L1633.3,608.2 L1633.7,608.0 L1634.0,605.0 L1634.4,605.4 L1634.7,604.7 L1635.1,604.8 L1635.4,602.0 L1635.8,603.7 L1636.1,604.0 L1636.5,605.5 L1636.8,600.7 L1637.2,601.8 L1637.5,600.4 L1637.9,600.0 L1638.2,599.5 L1638.6,593.6 L1638.9,599.4 L1639.3,600.4 L1639.6,599.6 L1640.0,600.6 L1640.3,603.1 L1640.7,602.6 L1641.0,602.7 L1641.4,599.4 L1641.7,599.0 L1642.1,604.6 L1642.4,600.1 L1642.8,601.8 L1643.1,607.7 L1643.5,604.5 L1643.8,601.8 L1644.2,602.0 L1644.5,603.2 L1644.9,603.2 L1645.2,602.6 L1645.6,599.1 L1645.9,603.2 L1646.3,603.4 L1646.6,601.6 L1647.0,606.2 L1647.3,604.2 L1647.7,607.2 L1648.0,608.0 L1648.4,609.0 L1648.7,607.3 L1649.1,608.0 L1649.4,611.0 L1649.8,609.3 L1650.1,611.3 L1650.5,608.9 L1650.8,609.4 L1651.2,607.0 L1651.5,606.8 L1651.9,602.3 L1652.2,605.7 L1652.6,606.6 L1652.9,607.8 L1653.3,600.4 L1653.6,607.6 L1654.0,605.3 L1654.3,605.4 L1654.7,613.6 L1655.0,606.8 L1655.4,603.7 L1655.7,601.1 L1656.1,607.2 L1656.4,609.1 L1656.8,606.4 L1657.1,606.4 L1657.5,608.9 L1657.8,609.3 L1658.2,608.8 L1658.5,610.8 L1658.9,610.1 L1659.2,609.9 L1659.6,611.7 L1659.9,608.5 L1660.3,600.5 L1660.6,610.1 L1661.0,603.9 L1661.3,611.8 L1661.7,616.1 L1662.0,612.8 L1662.4,615.6 L1662.7,611.9 L1663.1,612.5 L1663.4,601.2 L1663.8,608.7 L1664.1,610.5 L1664.5,608.1 L1664.8,610.0 L1665.2,610.0 L1665.5,609.2 L1665.9,611.1 L1666.2,611.7 L1666.6,608.5 L1666.9,610.1 L1667.3,608.4 L1667.6,608.0 L1668.0,603.0 L1668.3,607.2 L1668.7,603.3 L1669.0,608.4 L1669.4,607.1 L1669.7,606.0 L1670.1,606.6 L1670.4,607.3 L1670.8,606.8 L1671.1,604.5 L1671.5,613.7 L1671.8,604.8 L1672.2,606.2 L1672.5,604.7 L1672.9,607.7 L1673.2,612.2 L1673.6,608.6 L1673.9,608.3 L1674.3,608.4 L1674.6,609.2 L1675.0,607.7 L1675.3,606.8 L1675.7,610.6 L1676.0,604.8 L1676.4,611.7 L1676.7,610.3 L1677.1,609.2 L1677.4,614.0 L1677.8,613.1 L1678.1,609.9 L1678.5,608.4 L1678.8,610.7 L1679.2,613.0 L1679.5,611.3 L1679.9,608.6 L1680.2,608.3 L1680.6,615.0 L1680.9,615.6 L1681.3,616.3 L1681.6,616.9 L1682.0,612.6 L1682.3,616.9 L1682.7,614.6 L1683.0,613.7 L1683.4,614.0 L1683.7,612.4 L1684.1,614.7 L1684.4,617.6 L1684.8,608.7 L1685.1,616.1 L1685.5,615.6 L1685.8,612.6 L1686.2,613.5 L1686.5,612.7 L1686.9,611.9 L1687.2,608.8 L1687.6,612.9 L1687.9,611.3 L1688.3,612.2 L1688.6,612.6 L1689.0,613.0 L1689.3,611.6 L1689.7,606.5 L1690.0,607.3 L1690.4,619.6 L1690.7,611.3 L1691.1,614.1 L1691.4,608.9 L1691.8,611.6 L1692.1,612.5 L1692.5,613.7 L1692.8,610.1 L1693.2,614.4 L1693.5,609.7 L1693.9,616.0 L1694.2,614.1 L1694.6,613.6 L1694.9,613.1 L1695.3,616.9 L1695.6,614.3 L1696.0,615.5 L1696.3,614.7 L1696.7,612.0 L1697.0,624.5 L1697.4,619.3 L1697.7,617.6 L1698.1,617.1 L1698.4,615.9 L1698.8,615.0 L1699.1,608.4 L1699.5,614.0 L1699.8,612.7 L1700.2,612.9 L1700.5,614.9 L1700.9,614.5 L1701.2,612.4 L1701.6,615.0 L1701.9,613.8 L1702.3,614.0 L1702.6,614.5 L1703.0,610.3 L1703.3,613.4 L1703.7,612.6 L1704.0,614.8 L1704.4,612.7 L1704.7,611.3 L1705.1,611.6 L1705.4,608.9 L1705.8,606.6 L1706.1,610.6 L1706.5,613.1 L1706.8,611.1 L1707.2,609.3 L1707.5,609.3 L1707.9,606.8 L1708.2,607.5 L1708.6,611.6 L1708.9,612.5 L1709.3,610.7 L1709.6,605.3 L1710.0,597.2 L1710.3,610.8 L1710.7,608.8 L1711.0,607.3 L1711.4,609.2 L1711.7,622.3 L1712.1,614.5 L1712.4,617.0 L1712.8,621.9 L1713.1,625.4 L1713.5,620.6 L1713.8,619.5 L1714.2,623.4 L1714.5,622.5 L1714.9,618.9 L1715.2,620.9 L1715.6,623.8 L1715.9,622.3 L1716.3,624.3 L1716.6,622.9 L1717.0,624.3 L1717.3,626.8 L1717.7,624.7 L1718.0,624.5 L1718.4,623.6 L1718.7,626.9 L1719.1,619.6 L1719.4,622.7 L1719.8,626.6 L1720.1,626.3 L1720.5,622.0 L1720.8,619.5 L1721.2,620.9 L1721.5,619.9 L1721.9,620.6 L1722.2,623.5 L1722.6,622.1 L1722.9,621.2 L1723.3,630.8 L1723.6,620.7 L1724.0,621.1 L1724.3,623.0 L1724.7,622.1 L1725.0,621.9 L1725.4,623.7 L1725.7,624.0 L1726.1,627.9 L1726.4,623.4 L1726.8,625.8 L1727.1,620.0" fill="none" stroke="#f00" stroke-width="2.6" stroke-linejoin="round"/>
<line x1="1244.50" y1="822.00" x2="1244.50" y2="816.70" stroke="#000" stroke-width="1.1"/>
<line x1="1319.50" y1="822.00" x2="1319.50" y2="816.70" stroke="#000" stroke-width="1.1"/>
<line x1="1393.50" y1="822.00" x2="1393.50" y2="816.70" stroke="#000" stroke-width="1.1"/>
<line x1="1467.50" y1="822.00" x2="1467.50" y2="816.70" stroke="#000" stroke-width="1.1"/>
<line x1="1542.50" y1="822.00" x2="1542.50" y2="816.70" stroke="#000" stroke-width="1.1"/>
<line x1="1616.50" y1="822.00" x2="1616.50" y2="816.70" stroke="#000" stroke-width="1.1"/>
<line x1="1691.50" y1="822.00" x2="1691.50" y2="816.70" stroke="#000" stroke-width="1.1"/>
<line x1="1765.50" y1="822.00" x2="1765.50" y2="816.70" stroke="#000" stroke-width="1.1"/>
<line x1="1205.00" y1="788.50" x2="1210.30" y2="788.50" stroke="#000" stroke-width="1.1"/>
<line x1="1205.00" y1="719.50" x2="1210.30" y2="719.50" stroke="#000" stroke-width="1.1"/>
<line x1="1205.00" y1="650.50" x2="1210.30" y2="650.50" stroke="#000" stroke-width="1.1"/>
<line x1="1205.00" y1="581.50" x2="1210.30" y2="581.50" stroke="#000" stroke-width="1.1"/>
<line x1="1205.00" y1="512.50" x2="1210.30" y2="512.50" stroke="#000" stroke-width="1.1"/>
<line x1="1800.00" y1="822.50" x2="1794.70" y2="822.50" stroke="#f00" stroke-width="1.1"/>
<line x1="1800.00" y1="796.50" x2="1796.80" y2="796.50" stroke="#f00" stroke-width="1.0"/>
<line x1="1800.00" y1="780.50" x2="1796.80" y2="780.50" stroke="#f00" stroke-width="1.0"/>
<line x1="1800.00" y1="770.50" x2="1796.80" y2="770.50" stroke="#f00" stroke-width="1.0"/>
<line x1="1800.00" y1="761.50" x2="1796.80" y2="761.50" stroke="#f00" stroke-width="1.0"/>
<line x1="1800.00" y1="755.50" x2="1796.80" y2="755.50" stroke="#f00" stroke-width="1.0"/>
<line x1="1800.00" y1="749.50" x2="1796.80" y2="749.50" stroke="#f00" stroke-width="1.0"/>
<line x1="1800.00" y1="744.50" x2="1796.80" y2="744.50" stroke="#f00" stroke-width="1.0"/>
<line x1="1800.00" y1="739.50" x2="1796.80" y2="739.50" stroke="#f00" stroke-width="1.0"/>
<line x1="1800.00" y1="736.50" x2="1794.70" y2="736.50" stroke="#f00" stroke-width="1.1"/>
<line x1="1800.00" y1="710.50" x2="1796.80" y2="710.50" stroke="#f00" stroke-width="1.0"/>
<line x1="1800.00" y1="694.50" x2="1796.80" y2="694.50" stroke="#f00" stroke-width="1.0"/>
<line x1="1800.00" y1="684.50" x2="1796.80" y2="684.50" stroke="#f00" stroke-width="1.0"/>
<line x1="1800.00" y1="675.50" x2="1796.80" y2="675.50" stroke="#f00" stroke-width="1.0"/>
<line x1="1800.00" y1="669.50" x2="1796.80" y2="669.50" stroke="#f00" stroke-width="1.0"/>
<line x1="1800.00" y1="663.50" x2="1796.80" y2="663.50" stroke="#f00" stroke-width="1.0"/>
<line x1="1800.00" y1="658.50" x2="1796.80" y2="658.50" stroke="#f00" stroke-width="1.0"/>
<line x1="1800.00" y1="653.50" x2="1796.80" y2="653.50" stroke="#f00" stroke-width="1.0"/>
<line x1="1800.00" y1="650.50" x2="1794.70" y2="650.50" stroke="#f00" stroke-width="1.1"/>
<line x1="1800.00" y1="624.50" x2="1796.80" y2="624.50" stroke="#f00" stroke-width="1.0"/>
<line x1="1800.00" y1="608.50" x2="1796.80" y2="608.50" stroke="#f00" stroke-width="1.0"/>
<line x1="1800.00" y1="598.50" x2="1796.80" y2="598.50" stroke="#f00" stroke-width="1.0"/>
<line x1="1800.00" y1="589.50" x2="1796.80" y2="589.50" stroke="#f00" stroke-width="1.0"/>
<line x1="1800.00" y1="583.50" x2="1796.80" y2="583.50" stroke="#f00" stroke-width="1.0"/>
<line x1="1800.00" y1="577.50" x2="1796.80" y2="577.50" stroke="#f00" stroke-width="1.0"/>
<line x1="1800.00" y1="572.50" x2="1796.80" y2="572.50" stroke="#f00" stroke-width="1.0"/>
<line x1="1800.00" y1="567.50" x2="1796.80" y2="567.50" stroke="#f00" stroke-width="1.0"/>
<line x1="1800.00" y1="564.50" x2="1794.70" y2="564.50" stroke="#f00" stroke-width="1.1"/>
<line x1="1800.00" y1="538.50" x2="1796.80" y2="538.50" stroke="#f00" stroke-width="1.0"/>
<line x1="1800.00" y1="522.50" x2="1796.80" y2="522.50" stroke="#f00" stroke-width="1.0"/>
<line x1="1800.00" y1="512.50" x2="1796.80" y2="512.50" stroke="#f00" stroke-width="1.0"/>
<line x1="1800.00" y1="503.50" x2="1796.80" y2="503.50" stroke="#f00" stroke-width="1.0"/>
<line x1="1800.00" y1="497.50" x2="1796.80" y2="497.50" stroke="#f00" stroke-width="1.0"/>
<line x1="1800.00" y1="491.50" x2="1796.80" y2="491.50" stroke="#f00" stroke-width="1.0"/>
<line x1="1800.00" y1="486.50" x2="1796.80" y2="486.50" stroke="#f00" stroke-width="1.0"/>
<line x1="1800.00" y1="481.50" x2="1796.80" y2="481.50" stroke="#f00" stroke-width="1.0"/>
<line x1="1800.00" y1="478.50" x2="1794.70" y2="478.50" stroke="#f00" stroke-width="1.1"/>
<line x1="1800.00" y1="478.00" x2="1800.00" y2="822.00" stroke="#f00" stroke-width="2.0"/>
<path d="M1801,478 H1205 V822 H1801" fill="none" stroke="#000" stroke-width="2.0"/>
<text x="1200.80" y="795.85" font-size="19.50" text-anchor="end" fill="#000" letter-spacing="0.6">−400</text>
<text x="1200.80" y="726.95" font-size="19.50" text-anchor="end" fill="#000" letter-spacing="0.6">−300</text>
<text x="1200.80" y="658.05" font-size="19.50" text-anchor="end" fill="#000" letter-spacing="0.6">−200</text>
<text x="1200.80" y="589.15" font-size="19.50" text-anchor="end" fill="#000" letter-spacing="0.6">−100</text>
<text x="1200.80" y="520.25" font-size="19.50" text-anchor="end" fill="#000" letter-spacing="0.6">0</text>
<text x="1805.85" y="829.90" font-size="19.50" text-anchor="start" fill="#f00">10<tspan dx="0" dy="-6.88" font-size="13.65">−2</tspan></text>
<text x="1805.85" y="743.90" font-size="19.50" text-anchor="start" fill="#f00">10<tspan dx="0" dy="-6.88" font-size="13.65">−1</tspan></text>
<text x="1805.85" y="657.90" font-size="19.50" text-anchor="start" fill="#f00">10<tspan dx="0" dy="-6.88" font-size="13.65">0</tspan></text>
<text x="1805.85" y="571.90" font-size="19.50" text-anchor="start" fill="#f00">10<tspan dx="0" dy="-6.88" font-size="13.65">1</tspan></text>
<text x="1805.85" y="485.90" font-size="19.50" text-anchor="start" fill="#f00">10<tspan dx="0" dy="-6.88" font-size="13.65">2</tspan></text>
<text x="1104.70" y="653.20" font-size="24.00" text-anchor="middle" fill="#000" transform="rotate(-90 1104.70 653.20)">Dst</text>
<text x="1133.00" y="650.30" font-size="24.00" text-anchor="middle" fill="#000" transform="rotate(-90 1133.00 650.30)">( nT )</text>
<text x="1874.90" y="650.50" font-size="24.00" text-anchor="middle" fill="#f00" transform="rotate(-90 1874.90 650.50)">SW Pressure</text>
<text x="1905.00" y="649.80" font-size="24.00" text-anchor="middle" fill="#f00" transform="rotate(-90 1905.00 649.80)">( nPa )</text>
<rect x="1205.00" y="845.00" width="595.00" height="172.00" fill="#fff"/>
<line x1="1205.00" y1="931.00" x2="1800.00" y2="931.00" stroke="#000" stroke-width="2.0" stroke-dasharray="2.08 3.43"/>
<line x1="1726.00" y1="845.00" x2="1726.00" y2="1017.00" stroke="#1f77b4" stroke-width="2.2" stroke-dasharray="2.3 3.21"/>
<path d="M1205.5,1012.7 L1205.8,995.0 L1206.0,1012.9 L1206.3,998.0 L1206.5,1012.8 L1206.8,1002.7 L1207.1,1012.5 L1207.3,1001.3 L1207.6,1012.8 L1207.8,1004.6 L1208.1,1013.2 L1208.4,1005.7 L1208.6,1012.4 L1208.9,1004.2 L1209.1,1012.6 L1209.4,1003.8 L1209.7,1012.6 L1209.9,1001.9 L1210.2,1012.5 L1210.4,1002.0 L1210.7,1012.6 L1211.0,1002.3 L1211.2,1012.8 L1211.5,999.2 L1211.7,1012.8 L1212.0,1001.8 L1212.3,1012.8 L1212.5,1002.6 L1212.8,1013.2 L1213.0,1001.8 L1213.3,1012.7 L1213.6,1001.0 L1213.8,1012.7 L1214.1,997.7 L1214.3,1012.6 L1214.6,998.1 L1214.9,1013.2 L1215.1,996.0 L1215.4,1012.5 L1215.6,992.6 L1215.9,1013.0 L1216.2,997.7 L1216.4,1012.9 L1216.7,996.9 L1216.9,1012.8 L1217.2,999.4 L1217.5,1012.5 L1217.7,1000.7 L1218.0,1012.5 L1218.2,1000.1 L1218.5,1012.5 L1218.8,1004.3 L1219.0,1012.5 L1219.3,1005.0 L1219.5,1012.9 L1219.8,997.3 L1220.1,1013.2 L1220.3,994.3 L1220.6,1012.8 L1220.8,1000.1 L1221.1,1013.0 L1221.4,995.7 L1221.6,1013.0 L1221.9,995.9 L1222.1,1012.9 L1222.4,1008.4 L1222.7,1012.8 L1222.9,1008.6 L1223.2,1012.9 L1223.4,1008.0 L1223.7,1012.5 L1224.0,1000.6 L1224.2,1013.0 L1224.5,998.9 L1224.7,1013.2 L1225.0,1002.7 L1225.3,1012.7 L1225.5,1003.4 L1225.8,1012.6 L1226.0,1003.2 L1226.3,1012.9 L1226.6,1004.1 L1226.8,1012.5 L1227.1,1005.4 L1227.3,1012.8 L1227.6,990.7 L1227.9,1012.8 L1228.1,994.8 L1228.4,1012.5 L1228.6,997.2 L1228.9,1013.1 L1229.2,1002.7 L1229.4,1012.6 L1229.7,1004.9 L1229.9,1013.0 L1230.2,1001.9 L1230.5,1013.0 L1230.7,1002.6 L1231.0,1013.0 L1231.2,1004.8 L1231.5,1012.6 L1231.8,1005.1 L1232.0,1012.6 L1232.3,1002.5 L1232.5,1012.4 L1232.8,1005.1 L1233.1,1012.6 L1233.3,1003.5 L1233.6,1012.7 L1233.8,1003.7 L1234.1,1012.7 L1234.4,997.8 L1234.6,1012.5 L1234.9,1003.5 L1235.1,1013.2 L1235.4,1004.0 L1235.7,1013.1 L1235.9,1000.1 L1236.2,1012.9 L1236.4,1000.3 L1236.7,1012.5 L1237.0,997.0 L1237.2,1012.9 L1237.5,995.7 L1237.7,1013.2 L1238.0,1003.5 L1238.3,1013.0 L1238.5,1004.1 L1238.8,1012.6 L1239.0,1002.0 L1239.3,1012.8 L1239.6,995.9 L1239.8,1012.9 L1240.1,993.1 L1240.3,1012.6 L1240.6,996.2 L1240.9,1012.7 L1241.1,995.4 L1241.4,1013.2 L1241.6,1000.2 L1241.9,1012.5 L1242.2,1004.2 L1242.4,1012.8 L1242.7,1005.4 L1242.9,1012.9 L1243.2,1002.2 L1243.5,1012.9 L1243.7,1001.8 L1244.0,1013.0 L1244.2,1003.7 L1244.5,1012.6 L1244.8,1002.8 L1245.0,1012.8 L1245.3,1003.2 L1245.5,1012.7 L1245.8,999.8 L1246.1,1013.1 L1246.3,995.9 L1246.6,1013.1 L1246.8,1001.5 L1247.1,1012.8 L1247.4,1002.9 L1247.6,1013.1 L1247.9,1001.3 L1248.1,1012.5 L1248.4,1001.7 L1248.7,1012.9 L1248.9,1002.1 L1249.2,1013.0 L1249.4,1005.0 L1249.7,1012.8 L1250.0,1006.9 L1250.2,1013.0 L1250.5,1007.1 L1250.7,1013.0 L1251.0,999.8 L1251.3,1013.0 L1251.5,1002.3 L1251.8,1013.2 L1252.0,999.9 L1252.3,1012.5 L1252.6,1001.3 L1252.8,1013.1 L1253.1,1004.8 L1253.3,1012.5 L1253.6,1002.5 L1253.9,1012.6 L1254.1,1004.1 L1254.4,1012.5 L1254.6,1001.9 L1254.9,1012.9 L1255.2,1003.1 L1255.4,1012.9 L1255.7,1002.8 L1255.9,1012.5 L1256.2,1001.8 L1256.5,1012.8 L1256.7,1001.8 L1257.0,1012.9 L1257.2,1003.8 L1257.5,1012.5 L1257.8,1002.0 L1258.0,1012.9 L1258.3,1002.9 L1258.5,1013.0 L1258.8,1007.2 L1259.1,1013.0 L1259.3,1005.3 L1259.6,1012.9 L1259.8,1007.9 L1260.1,1012.7 L1260.4,1008.0 L1260.6,1012.7 L1260.9,1007.3 L1261.1,1012.7 L1261.4,1002.3 L1261.7,1013.1 L1261.9,1004.4 L1262.2,1012.7 L1262.4,1004.9 L1262.7,1013.1 L1263.0,1000.3 L1263.2,1012.8 L1263.5,1002.5 L1263.7,1012.6 L1264.0,1000.9 L1264.3,1012.9 L1264.5,1001.0 L1264.8,1012.9 L1265.0,1001.9 L1265.3,1012.6 L1265.6,1003.8 L1265.8,1013.2 L1266.1,1002.8 L1266.3,1012.7 L1266.6,1003.0 L1266.9,1013.0 L1267.1,1000.1 L1267.4,1013.0 L1267.6,1002.1 L1267.9,1012.9 L1268.2,998.2 L1268.4,1013.1 L1268.7,1003.1 L1268.9,1013.0 L1269.2,999.5 L1269.5,1012.8 L1269.7,1001.4 L1270.0,1012.5 L1270.2,1001.1 L1270.5,1013.1 L1270.8,1001.3 L1271.0,1013.1 L1271.3,1000.9 L1271.5,1012.9 L1271.8,996.1 L1272.1,1012.8 L1272.3,997.6 L1272.6,1013.0 L1272.8,988.5 L1273.1,1012.5 L1273.4,1004.0 L1273.6,1013.1 L1273.9,1004.1 L1274.1,1012.8 L1274.4,1005.0 L1274.7,1012.6 L1274.9,1005.9 L1275.2,1012.4 L1275.4,1005.6 L1275.7,1012.4 L1276.0,1003.7 L1276.2,1013.0 L1276.5,1002.0 L1276.7,1013.2 L1277.0,1002.7 L1277.3,1012.5 L1277.5,1000.3 L1277.8,1012.9 L1278.0,1002.6 L1278.3,1012.9 L1278.6,1000.0 L1278.8,1013.0 L1279.1,999.6 L1279.3,1013.0 L1279.6,998.2 L1279.9,1013.2 L1280.1,995.1 L1280.4,1012.7 L1280.6,996.9 L1280.9,1013.1 L1281.2,1003.0 L1281.4,1012.8 L1281.7,1002.3 L1281.9,1012.8 L1282.2,1004.2 L1282.5,1012.9 L1282.7,1002.7 L1283.0,1012.7 L1283.2,1005.4 L1283.5,1013.1 L1283.8,1006.2 L1284.0,1013.0 L1284.3,1006.1 L1284.5,1012.9 L1284.8,1000.6 L1285.1,1012.6 L1285.3,1001.9 L1285.6,1012.4 L1285.8,1003.1 L1286.1,1012.6 L1286.4,994.9 L1286.6,1012.6 L1286.9,997.9 L1287.1,1012.5 L1287.4,997.4 L1287.7,1012.5 L1287.9,993.6 L1288.2,1013.1 L1288.4,995.0 L1288.7,1012.9 L1289.0,1000.2 L1289.2,1012.4 L1289.5,1000.8 L1289.7,1012.7 L1290.0,1009.7 L1290.3,1013.1 L1290.5,1010.3 L1290.8,1012.8 L1291.0,1008.9 L1291.3,1012.9 L1291.6,1002.8 L1291.8,1013.2 L1292.1,1002.3 L1292.3,1012.9 L1292.6,1005.4 L1292.9,1012.5 L1293.1,1006.1 L1293.4,1012.6 L1293.6,1003.3 L1293.9,1012.8 L1294.2,1000.9 L1294.4,1012.8 L1294.7,1000.8 L1294.9,1012.6 L1295.2,1003.8 L1295.5,1012.6 L1295.7,1005.2 L1296.0,1012.8 L1296.2,1004.5 L1296.5,1012.6 L1296.8,1003.2 L1297.0,1012.7 L1297.3,1002.9 L1297.5,1012.5 L1297.8,1003.6 L1298.1,1012.9 L1298.3,1002.6 L1298.6,1012.9 L1298.8,1000.1 L1299.1,1012.9 L1299.4,1008.9 L1299.6,1013.1 L1299.9,1008.8 L1300.1,1012.7 L1300.4,1008.0 L1300.7,1013.1 L1300.9,1007.6 L1301.2,1012.7 L1301.4,1007.2 L1301.7,1013.2 L1302.0,1004.3 L1302.2,1012.6 L1302.5,999.5 L1302.7,1012.4 L1303.0,1006.9 L1303.3,1012.9 L1303.5,1007.2 L1303.8,1012.7 L1304.0,1007.4 L1304.3,1012.6 L1304.6,1000.2 L1304.8,1012.7 L1305.1,1000.3 L1305.3,1013.0 L1305.6,1003.2 L1305.9,1012.8 L1306.1,1003.1 L1306.4,1012.5 L1306.6,1001.4 L1306.9,1012.8 L1307.2,1001.7 L1307.4,1013.0 L1307.7,1002.8 L1307.9,1012.8 L1308.2,1001.2 L1308.5,1012.7 L1308.7,999.6 L1309.0,1012.7 L1309.2,1003.2 L1309.5,1012.8 L1309.8,999.8 L1310.0,1012.6 L1310.3,1000.0 L1310.5,1013.0 L1310.8,1002.3 L1311.1,1012.5 L1311.3,1002.7 L1311.6,1012.6 L1311.8,1003.9 L1312.1,1013.1 L1312.4,1005.9 L1312.6,1012.8 L1312.9,1006.1 L1313.1,1013.1 L1313.4,1002.9 L1313.7,1013.1 L1313.9,1002.2 L1314.2,1012.8 L1314.4,1004.4 L1314.7,1012.6 L1315.0,1001.8 L1315.2,1012.8 L1315.5,1000.3 L1315.7,1012.8 L1316.0,1004.2 L1316.3,1012.8 L1316.5,1003.5 L1316.8,1012.6 L1317.0,1002.9 L1317.3,1012.6 L1317.6,1000.9 L1317.8,1013.1 L1318.1,1000.5 L1318.3,1012.9 L1318.6,1008.6 L1318.9,1013.1 L1319.1,1009.7 L1319.4,1012.7 L1319.6,1009.4 L1319.9,1012.7 L1320.2,1004.7 L1320.4,1012.7 L1320.7,1005.1 L1320.9,1012.8 L1321.2,1001.3 L1321.5,1012.7 L1321.7,1001.5 L1322.0,1012.7 L1322.2,1004.3 L1322.5,1012.4 L1322.8,998.9 L1323.0,1012.7 L1323.3,997.7 L1323.5,1012.9 L1323.8,1005.5 L1324.1,1012.8 L1324.3,1004.2 L1324.6,1012.9 L1324.8,1006.3 L1325.1,1012.8 L1325.4,1006.9 L1325.6,1012.7 L1325.9,1006.6 L1326.1,1012.8 L1326.4,1000.6 L1326.7,1012.9 L1326.9,999.7 L1327.2,1013.0 L1327.4,1001.7 L1327.7,1012.7 L1328.0,1005.2 L1328.2,1012.7 L1328.5,1002.3 L1328.7,1012.8 L1329.0,1004.9 L1329.3,1013.2 L1329.5,1001.4 L1329.8,1013.1 L1330.0,1004.1 L1330.3,1013.1 L1330.6,996.3 L1330.8,1012.6 L1331.1,992.6 L1331.3,1012.8 L1331.6,999.5 L1331.9,1012.6 L1332.1,1000.7 L1332.4,1012.8 L1332.6,1001.9 L1332.9,1012.5 L1333.2,996.1 L1333.4,1013.0 L1333.7,993.2 L1333.9,1012.9 L1334.2,1006.8 L1334.5,1012.6 L1334.7,1007.4 L1335.0,1012.4 L1335.2,1006.7 L1335.5,1012.7 L1335.8,998.5 L1336.0,1012.5 L1336.3,996.0 L1336.5,1012.8 L1336.8,1004.8 L1337.1,1013.0 L1337.3,1002.1 L1337.6,1012.7 L1337.8,1003.9 L1338.1,1012.4 L1338.4,1007.9 L1338.6,1012.7 L1338.9,1007.9 L1339.1,1012.6 L1339.4,1003.4 L1339.7,1013.1 L1339.9,1001.9 L1340.2,1012.6 L1340.4,1004.9 L1340.7,1012.4 L1341.0,996.2 L1341.2,1013.1 L1341.5,996.1 L1341.7,1013.0 L1342.0,1005.4 L1342.3,1012.6 L1342.5,1005.1 L1342.8,1013.1 L1343.0,1003.3 L1343.3,1012.5 L1343.6,1006.5 L1343.8,1012.5 L1344.1,1005.6 L1344.3,1013.1 L1344.6,996.5 L1344.9,1012.4 L1345.1,995.2 L1345.4,1013.0 L1345.6,994.2 L1345.9,1013.0 L1346.2,1001.6 L1346.4,1012.9 L1346.7,999.3 L1346.9,1012.7 L1347.2,1004.4 L1347.5,1012.5 L1347.7,1002.5 L1348.0,1012.9 L1348.2,1002.5 L1348.5,1013.2 L1348.8,1002.0 L1349.0,1012.7 L1349.3,1000.5 L1349.5,1012.5 L1349.8,1003.6 L1350.1,1012.8 L1350.3,1004.7 L1350.6,1013.1 L1350.8,1005.9 L1351.1,1012.5 L1351.4,999.4 L1351.6,1012.6 L1351.9,1002.3 L1352.1,1012.6 L1352.4,1000.6 L1352.7,1012.6 L1352.9,999.9 L1353.2,1012.7 L1353.4,1001.2 L1353.7,1013.0 L1354.0,1005.8 L1354.2,1012.8 L1354.5,1004.2 L1354.7,1013.1 L1355.0,999.3 L1355.3,1012.9 L1355.5,1003.2 L1355.8,1013.1 L1356.0,1003.2 L1356.3,1012.9 L1356.6,1005.8 L1356.8,1012.9 L1357.1,1003.1 L1357.3,1013.1 L1357.6,999.4 L1357.9,1013.0 L1358.1,999.2 L1358.4,1012.6 L1358.6,1003.6 L1358.9,1012.8 L1359.2,991.6 L1359.4,1013.0 L1359.7,994.7 L1359.9,1012.8 L1360.2,1004.3 L1360.5,1012.5 L1360.7,1003.8 L1361.0,1012.5 L1361.2,1004.9 L1361.5,1012.7 L1361.8,1003.5 L1362.0,1013.2 L1362.3,1001.8 L1362.5,1012.6 L1362.8,990.6 L1363.1,1012.8 L1363.3,990.4 L1363.6,1013.0 L1363.8,996.4 L1364.1,1012.5 L1364.4,1002.6 L1364.6,1012.9 L1364.9,1000.5 L1365.1,1012.9 L1365.4,999.9 L1365.7,1012.4 L1365.9,999.0 L1366.2,1012.7 L1366.4,999.9 L1366.7,1012.6 L1367.0,1004.1 L1367.2,1012.6 L1367.5,1000.3 L1367.7,1012.6 L1368.0,995.1 L1368.3,1012.7 L1368.5,998.7 L1368.8,1012.5 L1369.0,994.7 L1369.3,1012.4 L1369.6,1005.4 L1369.8,1012.7 L1370.1,1002.3 L1370.3,1012.9 L1370.6,1008.1 L1370.9,1012.9 L1371.1,1006.8 L1371.4,1013.0 L1371.6,1007.5 L1371.9,1013.0 L1372.2,1004.6 L1372.4,1012.5 L1372.7,1001.9 L1372.9,1013.0 L1373.2,1003.0 L1373.5,1012.7 L1373.7,1000.4 L1374.0,1013.1 L1374.2,1002.2 L1374.5,1013.1 L1374.8,1005.1 L1375.0,1013.0 L1375.3,1004.8 L1375.5,1013.0 L1375.8,1007.7 L1376.1,1013.0 L1376.3,1008.5 L1376.6,1012.6 L1376.8,1007.8 L1377.1,1013.1 L1377.4,1003.2 L1377.6,1012.6 L1377.9,1006.1 L1378.1,1012.8 L1378.4,1009.1 L1378.7,1013.0 L1378.9,1009.0 L1379.2,1012.9 L1379.4,1009.0 L1379.7,1012.4 L1380.0,1004.1 L1380.2,1012.7 L1380.5,1001.5 L1380.7,1012.5 L1381.0,1004.1 L1381.3,1012.7 L1381.5,1001.4 L1381.8,1012.9 L1382.0,1004.3 L1382.3,1012.4 L1382.6,1005.9 L1382.8,1012.8 L1383.1,1003.6 L1383.3,1012.7 L1383.6,1000.0 L1383.9,1013.0 L1384.1,1004.7 L1384.4,1012.5 L1384.6,1000.6 L1384.9,1012.6 L1385.2,1001.0 L1385.4,1012.5 L1385.7,999.7 L1385.9,1012.9 L1386.2,1003.9 L1386.5,1012.6 L1386.7,1005.3 L1387.0,1012.7 L1387.2,1003.3 L1387.5,1012.7 L1387.8,997.1 L1388.0,1013.2 L1388.3,1000.0 L1388.5,1012.6 L1388.8,996.0 L1389.1,1012.8 L1389.3,991.1 L1389.6,1012.8 L1389.8,997.0 L1390.1,1013.1 L1390.4,997.8 L1390.6,1012.9 L1390.9,993.7 L1391.1,1012.9 L1391.4,999.3 L1391.7,1012.8 L1391.9,997.2 L1392.2,1012.4 L1392.4,997.1 L1392.7,1012.8 L1393.0,1004.6 L1393.2,1012.4 L1393.5,1001.0 L1393.7,1012.7 L1394.0,997.3 L1394.3,1013.2 L1394.5,996.8 L1394.8,1013.0 L1395.0,994.4 L1395.3,1012.8 L1395.6,997.7 L1395.8,1012.5 L1396.1,999.7 L1396.3,1013.1 L1396.6,1004.3 L1396.9,1012.8 L1397.1,1002.9 L1397.4,1012.6 L1397.6,1005.8 L1397.9,1013.2 L1398.2,1006.6 L1398.4,1012.6 L1398.7,1006.7 L1398.9,1012.6 L1399.2,1004.8 L1399.5,1012.6 L1399.7,1003.8 L1400.0,1013.0 L1400.2,1005.8 L1400.5,1012.5 L1400.8,994.4 L1401.0,1012.9 L1401.3,1000.2 L1401.5,1012.6 L1401.8,1003.8 L1402.1,1012.5 L1402.3,1005.5 L1402.6,1012.5 L1402.8,1002.4 L1403.1,1013.2 L1403.4,1001.3 L1403.6,1012.5 L1403.9,997.3 L1404.1,1012.8 L1404.4,1003.5 L1404.7,1012.5 L1404.9,1006.2 L1405.2,1012.7 L1405.4,1004.7 L1405.7,1012.6 L1406.0,996.1 L1406.2,1013.0 L1406.5,1000.8 L1406.7,1013.0 L1407.0,1001.7 L1407.3,1012.5 L1407.5,996.1 L1407.8,1012.5 L1408.0,996.0 L1408.3,1012.7 L1408.6,1003.1 L1408.8,1012.7 L1409.1,1002.7 L1409.3,1012.8 L1409.6,1003.2 L1409.9,1012.9 L1410.1,1006.1 L1410.4,1012.4 L1410.6,1005.6 L1410.9,1012.7 L1411.2,990.1 L1411.4,1012.5 L1411.7,988.7 L1411.9,1012.7 L1412.2,1001.8 L1412.5,1012.9 L1412.7,995.1 L1413.0,1013.2 L1413.2,996.1 L1413.5,1012.6 L1413.8,998.6 L1414.0,1012.7 L1414.3,996.8 L1414.5,1012.4 L1414.8,999.4 L1415.1,1012.8 L1415.3,998.5 L1415.6,1012.6 L1415.8,1003.4 L1416.1,1012.6 L1416.4,1002.4 L1416.6,1013.0 L1416.9,1003.7 L1417.1,1012.5 L1417.4,1002.9 L1417.7,1012.5 L1417.9,1003.6 L1418.2,1012.7 L1418.4,1005.2 L1418.7,1012.4 L1419.0,1002.9 L1419.2,1013.0 L1419.5,1002.6 L1419.7,1012.7 L1420.0,999.3 L1420.3,1013.2 L1420.5,998.8 L1420.8,1013.1 L1421.0,998.4 L1421.3,1012.7 L1421.6,1002.4 L1421.8,1012.9 L1422.1,1004.9 L1422.3,1013.1 L1422.6,999.0 L1422.9,1012.9 L1423.1,996.0 L1423.4,1012.9 L1423.6,999.1 L1423.9,1013.1 L1424.2,1003.7 L1424.4,1012.4 L1424.7,1002.9 L1424.9,1013.0 L1425.2,1006.8 L1425.5,1012.5 L1425.7,1005.2 L1426.0,1012.7 L1426.2,1006.6 L1426.5,1012.5 L1426.8,1003.2 L1427.0,1012.9 L1427.3,1002.0 L1427.5,1012.5 L1427.8,1008.8 L1428.1,1012.8 L1428.3,1008.8 L1428.6,1012.5 L1428.8,1007.1 L1429.1,1012.6 L1429.4,1001.2 L1429.6,1012.7 L1429.9,1000.7 L1430.1,1012.6 L1430.4,995.2 L1430.7,1012.8 L1430.9,995.9 L1431.2,1012.8 L1431.4,1001.4 L1431.7,1013.0 L1432.0,991.3 L1432.2,1012.7 L1432.5,993.2 L1432.7,1012.5 L1433.0,998.8 L1433.3,1013.2 L1433.5,1001.2 L1433.8,1012.6 L1434.0,997.7 L1434.3,1012.6 L1434.6,1005.0 L1434.8,1012.5 L1435.1,1004.4 L1435.3,1012.9 L1435.6,1002.5 L1435.9,1013.1 L1436.1,1003.2 L1436.4,1012.6 L1436.6,1001.4 L1436.9,1012.7 L1437.2,999.8 L1437.4,1013.2 L1437.7,997.8 L1437.9,1012.7 L1438.2,1000.1 L1438.5,1013.2 L1438.7,1000.5 L1439.0,1012.8 L1439.2,1003.8 L1439.5,1012.9 L1439.8,1005.0 L1440.0,1012.6 L1440.3,1002.5 L1440.5,1013.1 L1440.8,1004.0 L1441.1,1013.0 L1441.3,1003.6 L1441.6,1012.8 L1441.8,1001.3 L1442.1,1012.9 L1442.4,1000.4 L1442.6,1012.5 L1442.9,999.6 L1443.1,1012.5 L1443.4,1007.3 L1443.7,1012.8 L1443.9,1006.1 L1444.2,1013.1 L1444.4,1005.6 L1444.7,1012.7 L1445.0,1002.5 L1445.2,1013.0 L1445.5,1003.6 L1445.7,1013.2 L1446.0,1004.7 L1446.3,1012.8 L1446.5,1004.0 L1446.8,1012.8 L1447.0,1004.7 L1447.3,1013.2 L1447.6,1004.5 L1447.8,1012.5 L1448.1,1003.8 L1448.3,1013.1 L1448.6,1005.3 L1448.9,1012.9 L1449.1,1007.3 L1449.4,1012.6 L1449.6,1004.8 L1449.9,1013.0 L1450.2,988.7 L1450.4,1012.9 L1450.7,997.7 L1450.9,1013.1 L1451.2,1005.7 L1451.5,1012.6 L1451.7,1005.3 L1452.0,1012.8 L1452.2,1005.7 L1452.5,1013.0 L1452.8,1004.0 L1453.0,1012.6 L1453.3,1003.2 L1453.5,1012.7 L1453.8,1002.5 L1454.1,1013.0 L1454.3,1003.0 L1454.6,1012.5 L1454.8,1002.5 L1455.1,1012.9 L1455.4,995.5 L1455.6,1012.6 L1455.9,994.2 L1456.1,1012.9 L1456.4,993.5 L1456.7,1012.6 L1456.9,997.3 L1457.2,1012.6 L1457.4,994.1 L1457.7,1013.0 L1458.0,1007.8 L1458.2,1012.7 L1458.5,1005.2 L1458.7,1013.0 L1459.0,1008.8 L1459.3,1012.8 L1459.5,1007.8 L1459.8,1012.7 L1460.0,1009.1 L1460.3,1012.5 L1460.6,1006.0 L1460.8,1013.0 L1461.1,1003.3 L1461.3,1013.0 L1461.6,1004.6 L1461.9,1012.9 L1462.1,1003.1 L1462.4,1013.1 L1462.6,1005.7 L1462.9,1013.0 L1463.2,1002.7 L1463.4,1012.8 L1463.7,1001.9 L1463.9,1013.1 L1464.2,997.4 L1464.5,1012.7 L1464.7,994.7 L1465.0,1013.1 L1465.2,996.7 L1465.5,1012.5 L1465.8,995.6 L1466.0,1012.4 L1466.3,997.2 L1466.5,1012.9 L1466.8,995.3 L1467.1,1012.5 L1467.3,998.2 L1467.6,1013.2 L1467.8,998.6 L1468.1,1013.2 L1468.4,999.1 L1468.6,1012.7 L1468.9,998.7 L1469.1,1012.4 L1469.4,998.2 L1469.7,1013.2 L1469.9,999.3 L1470.2,1012.7 L1470.4,998.5 L1470.7,1012.8 L1471.0,1003.7 L1471.2,1012.7 L1471.5,1005.6 L1471.7,1012.6 L1472.0,1000.7 L1472.3,1012.6 L1472.5,1000.9 L1472.8,1012.7 L1473.0,1004.4 L1473.3,1012.9 L1473.6,998.5 L1473.8,1012.7 L1474.1,1000.0 L1474.3,1013.0 L1474.6,994.3 L1474.9,1013.0 L1475.1,997.9 L1475.4,1013.0 L1475.6,992.2 L1475.9,1012.5 L1476.2,1000.7 L1476.4,1013.1 L1476.7,1002.7 L1476.9,1013.1 L1477.2,1001.9 L1477.5,1012.7 L1477.7,1003.4 L1478.0,1012.5 L1478.2,1005.3 L1478.5,1013.1 L1478.8,1005.5 L1479.0,1012.8 L1479.3,1004.1 L1479.5,1012.7 L1479.8,1005.8 L1480.1,1013.1 L1480.3,1004.7 L1480.6,1012.7 L1480.8,1006.3 L1481.1,1013.1 L1481.4,1005.0 L1481.6,1013.1 L1481.9,1002.9 L1482.1,1013.0 L1482.4,1004.4 L1482.7,1012.5 L1482.9,1002.3 L1483.2,1013.1 L1483.4,1001.4 L1483.7,1012.7 L1484.0,999.6 L1484.2,1012.6 L1484.5,999.1 L1484.7,1012.9 L1485.0,1006.5 L1485.3,1012.8 L1485.5,1007.5 L1485.8,1013.0 L1486.0,1005.0 L1486.3,1013.2 L1486.6,1004.5 L1486.8,1013.2 L1487.1,1005.1 L1487.3,1012.8 L1487.6,1002.9 L1487.9,1012.9 L1488.1,1002.9 L1488.4,1013.0 L1488.6,1004.4 L1488.9,1012.8 L1489.2,1005.3 L1489.4,1013.1 L1489.7,1004.4 L1489.9,1012.7 L1490.2,1002.0 L1490.5,1013.0 L1490.7,1005.6 L1491.0,1012.5 L1491.2,1001.5 L1491.5,1013.2 L1491.8,989.3 L1492.0,1012.6 L1492.3,993.8 L1492.5,1012.8 L1492.8,1002.6 L1493.1,1012.9 L1493.3,1002.5 L1493.6,1012.6 L1493.8,1003.7 L1494.1,1012.4 L1494.4,991.5 L1494.6,1012.5 L1494.9,990.3 L1495.1,1013.1 L1495.4,1005.5 L1495.7,1012.9 L1495.9,1002.1 L1496.2,1013.2 L1496.4,1004.9 L1496.7,1013.2 L1497.0,1003.2 L1497.2,1012.9 L1497.5,1002.2 L1497.7,1012.8 L1498.0,1004.7 L1498.3,1012.9 L1498.5,1006.6 L1498.8,1013.2 L1499.0,1007.3 L1499.3,1012.7 L1499.6,1002.9 L1499.8,1012.7 L1500.1,1003.7 L1500.3,1012.9 L1500.6,998.3 L1500.9,1012.8 L1501.1,995.0 L1501.4,1012.9 L1501.6,997.1 L1501.9,1012.8 L1502.2,999.0 L1502.4,1012.9 L1502.7,995.9 L1502.9,1012.4 L1503.2,1001.6 L1503.5,1012.9 L1503.7,1005.8 L1504.0,1013.1 L1504.2,1005.0 L1504.5,1013.1 L1504.8,1002.0 L1505.0,1012.8 L1505.3,1004.5 L1505.5,1012.6 L1505.8,1002.6 L1506.1,1013.1 L1506.3,1000.8 L1506.6,1012.6 L1506.8,1002.6 L1507.1,1012.7 L1507.4,1002.6 L1507.6,1012.6 L1507.9,1005.8 L1508.1,1013.2 L1508.4,1001.1 L1508.7,1013.0 L1508.9,1001.9 L1509.2,1013.0 L1509.4,999.5 L1509.7,1012.5 L1510.0,1007.2 L1510.2,1012.7 L1510.5,1004.2 L1510.7,1012.8 L1511.0,993.6 L1511.3,1013.1 L1511.5,998.4 L1511.8,1012.4 L1512.0,994.6 L1512.3,1012.9 L1512.6,990.8 L1512.8,1012.6 L1513.1,993.9 L1513.3,1012.7 L1513.6,1004.9 L1513.9,1013.1 L1514.1,1001.1 L1514.4,1012.5 L1514.6,1003.3 L1514.9,1013.0 L1515.2,1002.0 L1515.4,1012.6 L1515.7,1003.8 L1515.9,1012.5 L1516.2,1006.9 L1516.5,1012.8 L1516.7,1007.1 L1517.0,1013.1 L1517.2,1006.4 L1517.5,1012.7 L1517.8,1007.6 L1518.0,1012.5 L1518.3,1008.4 L1518.5,1013.0 L1518.8,998.6 L1519.1,1012.6 L1519.3,998.8 L1519.6,1013.0 L1519.8,996.4 L1520.1,1013.1 L1520.4,1002.1 L1520.6,1013.0 L1520.9,1002.6 L1521.1,1012.6 L1521.4,999.8 L1521.7,1012.6 L1521.9,1001.2 L1522.2,1012.9 L1522.4,999.9 L1522.7,1013.2 L1523.0,1002.2 L1523.2,1012.7 L1523.5,1002.4 L1523.7,1012.5 L1524.0,990.4 L1524.3,1012.4 L1524.5,995.8 L1524.8,1013.1 L1525.0,997.9 L1525.3,1013.1 L1525.6,995.0 L1525.8,1013.1 L1526.1,997.4 L1526.3,1012.9 L1526.6,995.9 L1526.9,1012.8 L1527.1,998.0 L1527.4,1013.1 L1527.6,997.0 L1527.9,1012.5 L1528.2,998.6 L1528.4,1012.4 L1528.7,998.8 L1528.9,1012.7 L1529.2,1005.4 L1529.5,1012.8 L1529.7,1002.3 L1530.0,1012.7 L1530.2,1005.8 L1530.5,1012.5 L1530.8,995.5 L1531.0,1012.9 L1531.3,993.1 L1531.5,1012.8 L1531.8,1004.6 L1532.1,1012.6 L1532.3,1003.0 L1532.6,1012.9 L1532.8,1005.1 L1533.1,1012.5 L1533.4,1002.2 L1533.6,1013.0 L1533.9,1005.0 L1534.1,1012.7 L1534.4,1004.6 L1534.7,1012.5 L1534.9,1005.3 L1535.2,1012.7 L1535.4,1003.4 L1535.7,1013.1 L1536.0,1007.1 L1536.2,1013.0 L1536.5,1004.4 L1536.7,1012.4 L1537.0,1000.7 L1537.3,1012.7 L1537.5,1001.2 L1537.8,1013.2 L1538.0,1000.5 L1538.3,1012.8 L1538.6,1005.1 L1538.8,1012.4 L1539.1,1002.4 L1539.3,1012.8 L1539.6,999.2 L1539.9,1013.0 L1540.1,999.6 L1540.4,1012.9 L1540.6,998.5 L1540.9,1012.9 L1541.2,987.6 L1541.4,1013.1 L1541.7,991.6 L1541.9,1012.5 L1542.2,1003.5 L1542.5,1012.8 L1542.7,1000.8 L1543.0,1013.0 L1543.2,1001.4 L1543.5,1012.9 L1543.8,998.0 L1544.0,1013.1 L1544.3,996.9 L1544.5,1012.7 L1544.8,989.4 L1545.1,1012.6 L1545.3,987.9 L1545.6,1013.0 L1545.8,987.8 L1546.1,1012.8 L1546.4,996.1 L1546.6,1012.6 L1546.9,998.1 L1547.1,1012.6 L1547.4,1005.5 L1547.7,1013.0 L1547.9,1002.4 L1548.2,1013.0 L1548.4,1003.1 L1548.7,1012.5 L1549.0,1000.2 L1549.2,1012.8 L1549.5,999.7 L1549.7,1012.8 L1550.0,1007.2 L1550.3,1012.8 L1550.5,1006.1 L1550.8,1013.0 L1551.0,1005.6 L1551.3,1012.5 L1551.6,993.4 L1551.8,1012.5 L1552.1,993.9 L1552.3,1012.5 L1552.6,1002.4 L1552.9,1013.2 L1553.1,1002.8 L1553.4,1013.2 L1553.6,1002.5 L1553.9,1012.6 L1554.2,1002.3 L1554.4,1012.7 L1554.7,1003.8 L1554.9,1013.0 L1555.2,1004.8 L1555.5,1012.7 L1555.7,1004.5 L1556.0,1012.9 L1556.2,1003.9 L1556.5,1012.8 L1556.8,996.5 L1557.0,1012.7 L1557.3,998.4 L1557.5,1012.5 L1557.8,1005.5 L1558.1,1013.1 L1558.3,1002.5 L1558.6,1012.8 L1558.8,1005.8 L1559.1,1013.0 L1559.4,1002.3 L1559.6,1012.4 L1559.9,1002.6 L1560.1,1012.6 L1560.4,1002.0 L1560.7,1013.2 L1560.9,1005.0 L1561.2,1012.7 L1561.4,1003.7 L1561.7,1013.0 L1562.0,1000.2 L1562.2,1012.5 L1562.5,1001.4 L1562.7,1012.8 L1563.0,1009.5 L1563.3,1013.0 L1563.5,1009.1 L1563.8,1012.6 L1564.0,1009.8 L1564.3,1013.2 L1564.6,998.5 L1564.8,1012.8 L1565.1,1002.3 L1565.3,1012.9 L1565.6,998.3 L1565.9,1013.0 L1566.1,1002.0 L1566.4,1012.9 L1566.6,1000.0 L1566.9,1012.9 L1567.2,999.6 L1567.4,1013.1 L1567.7,1002.9 L1567.9,1012.5 L1568.2,1006.5 L1568.5,1012.4 L1568.7,1006.5 L1569.0,1012.9 L1569.2,1006.0 L1569.5,1013.1 L1569.8,1004.8 L1570.0,1012.9 L1570.3,1000.2 L1570.5,1013.1 L1570.8,992.3 L1571.1,1013.1 L1571.3,991.7 L1571.6,1012.4 L1571.8,992.7 L1572.1,1012.6 L1572.4,1002.1 L1572.6,1012.5 L1572.9,1002.2 L1573.1,1012.9 L1573.4,1000.7 L1573.7,1012.5 L1573.9,994.7 L1574.2,1012.7 L1574.4,996.8 L1574.7,1012.9 L1575.0,1002.4 L1575.2,1012.9 L1575.5,1004.1 L1575.7,1012.8 L1576.0,1002.3 L1576.3,1012.5 L1576.5,997.7 L1576.8,1013.0 L1577.0,1001.0 L1577.3,1013.1 L1577.6,1009.5 L1577.8,1012.7 L1578.1,1008.5 L1578.3,1012.8 L1578.6,1002.7 L1578.9,1012.7 L1579.1,998.5 L1579.4,1013.0 L1579.6,997.2 L1579.9,1012.4 L1580.2,1000.9 L1580.4,1012.6 L1580.7,1001.4 L1580.9,1012.9 L1581.2,1004.9 L1581.5,1013.0 L1581.7,1005.5 L1582.0,1012.6 L1582.2,1004.4 L1582.5,1013.2 L1582.8,1000.6 L1583.0,1012.6 L1583.3,998.6 L1583.5,1012.5 L1583.8,1004.0 L1584.1,1012.5 L1584.3,1000.1 L1584.6,1013.0 L1584.8,1002.5 L1585.1,1012.4 L1585.4,999.1 L1585.6,1012.7 L1585.9,998.5 L1586.1,1012.9 L1586.4,997.7 L1586.7,1012.9 L1586.9,1000.2 L1587.2,1012.7 L1587.4,1000.1 L1587.7,1012.7 L1588.0,1002.2 L1588.2,1013.1 L1588.5,1003.7 L1588.7,1013.0 L1589.0,1003.0 L1589.3,1012.7 L1589.5,998.1 L1589.8,1012.8 L1590.0,1000.9 L1590.3,1012.7 L1590.6,1001.0 L1590.8,1012.9 L1591.1,1001.6 L1591.3,1012.4 L1591.6,997.6 L1591.9,1012.8 L1592.1,1000.1 L1592.4,1012.6 L1592.6,1001.9 L1592.9,1012.7 L1593.2,995.6 L1593.4,1013.0 L1593.7,998.0 L1593.9,1012.6 L1594.2,1005.6 L1594.5,1012.8 L1594.7,1001.5 L1595.0,1013.0 L1595.2,1005.4 L1595.5,1012.6 L1595.8,999.1 L1596.0,1012.4 L1596.3,1002.9 L1596.5,1013.1 L1596.8,1005.9 L1597.1,1013.0 L1597.3,1006.9 L1597.6,1012.6 L1597.8,1005.8 L1598.1,1013.1 L1598.4,1000.2 L1598.6,1012.7 L1598.9,997.2 L1599.1,1013.1 L1599.4,1005.4 L1599.7,1012.8 L1599.9,1002.5 L1600.2,1012.8 L1600.4,1005.7 L1600.7,1012.6 L1601.0,1002.4 L1601.2,1012.8 L1601.5,1004.9 L1601.7,1013.0 L1602.0,1006.1 L1602.3,1013.1 L1602.5,1002.6 L1602.8,1012.8 L1603.0,1002.9 L1603.3,1012.5 L1603.6,1006.5 L1603.8,1012.5 L1604.1,1006.6 L1604.3,1012.6 L1604.6,999.6 L1604.9,1013.0 L1605.1,996.0 L1605.4,1013.1 L1605.6,994.4 L1605.9,1013.2 L1606.2,999.9 L1606.4,1012.5 L1606.7,996.5 L1606.9,1012.6 L1607.2,1002.2 L1607.5,1012.7 L1607.7,1000.4 L1608.0,1012.6 L1608.2,1000.5 L1608.5,1012.9 L1608.8,994.9 L1609.0,1012.8 L1609.3,992.8 L1609.5,1012.4 L1609.8,1004.1 L1610.1,1013.0 L1610.3,1005.5 L1610.6,1013.1 L1610.8,1004.4 L1611.1,1013.1 L1611.4,1001.7 L1611.6,1012.6 L1611.9,1001.4 L1612.1,1013.0 L1612.4,1003.2 L1612.7,1012.8 L1612.9,998.6 L1613.2,1012.5 L1613.4,1002.2 L1613.7,1013.0 L1614.0,1000.7 L1614.2,1012.8 L1614.5,1004.5 L1614.7,1012.6 L1615.0,1008.7 L1615.3,1012.7 L1615.5,1008.2 L1615.8,1012.7 L1616.0,1007.7 L1616.3,1013.2 L1616.6,1000.9 L1616.8,1013.1 L1617.1,1003.3 L1617.3,1013.0 L1617.6,1005.7 L1617.9,1012.6 L1618.1,1003.9 L1618.4,1013.1 L1618.6,1005.7 L1618.9,1012.4 L1619.2,997.1 L1619.4,1012.8 L1619.7,998.3 L1619.9,1013.1 L1620.2,1000.5 L1620.5,1012.7 L1620.7,1000.8 L1621.0,1012.6 L1621.2,1004.9 L1621.5,1012.9 L1621.8,1002.5 L1622.0,1012.6 L1622.3,1003.0 L1622.5,1012.6 L1622.8,993.8 L1623.1,1013.1 L1623.3,996.9 L1623.6,1012.6 L1623.8,997.3 L1624.1,1012.5 L1624.4,1005.9 L1624.6,1012.9 L1624.9,1005.0 L1625.1,1012.5 L1625.4,998.7 L1625.7,1012.7 L1625.9,999.7 L1626.2,1012.6 L1626.4,1001.4 L1626.7,1012.6 L1627.0,998.9 L1627.2,1013.0 L1627.5,1000.3 L1627.7,1013.1 L1628.0,1007.0 L1628.3,1012.9 L1628.5,1008.2 L1628.8,1012.4 L1629.0,1007.7 L1629.3,1012.5 L1629.6,1002.5 L1629.8,1013.0 L1630.1,1002.6 L1630.3,1013.0 L1630.6,1003.7 L1630.9,1013.1 L1631.1,1005.9 L1631.4,1012.9 L1631.6,1002.3 L1631.9,1012.5 L1632.2,1005.5 L1632.4,1012.8 L1632.7,1005.1 L1632.9,1012.5 L1633.2,1002.2 L1633.5,1012.6 L1633.7,1002.1 L1634.0,1012.8 L1634.2,1003.9 L1634.5,1012.6 L1634.8,1000.6 L1635.0,1012.6 L1635.3,1002.3 L1635.5,1012.9 L1635.8,1004.8 L1636.1,1012.7 L1636.3,1001.3 L1636.6,1012.5 L1636.8,1004.4 L1637.1,1013.2 L1637.4,1004.1 L1637.6,1013.1 L1637.9,1005.3 L1638.1,1013.0 L1638.4,1009.6 L1638.7,1012.7 L1638.9,1009.0 L1639.2,1013.0 L1639.4,1009.1 L1639.7,1012.5 L1640.0,1005.0 L1640.2,1012.7 L1640.5,1003.9 L1640.7,1012.5 L1641.0,996.3 L1641.3,1012.5 L1641.5,996.7 L1641.8,1013.0 L1642.0,997.4 L1642.3,1012.8 L1642.6,999.3 L1642.8,1012.7 L1643.1,999.4 L1643.3,1013.1 L1643.6,1003.2 L1643.9,1013.0 L1644.1,1001.4 L1644.4,1012.6 L1644.6,1003.0 L1644.9,1013.0 L1645.2,1002.7 L1645.4,1012.7 L1645.7,1003.0 L1645.9,1012.8 L1646.2,998.1 L1646.5,1012.7 L1646.7,1001.5 L1647.0,1013.2 L1647.2,995.4 L1647.5,1013.0 L1647.8,1002.6 L1648.0,1012.8 L1648.3,1002.6 L1648.5,1012.6 L1648.8,1003.9 L1649.1,1012.5 L1649.3,1003.3 L1649.6,1013.0 L1649.8,1002.0 L1650.1,1012.5 L1650.4,1004.2 L1650.6,1013.0 L1650.9,1004.5 L1651.1,1012.6 L1651.4,1001.6 L1651.7,1012.7 L1651.9,1002.7 L1652.2,1013.0 L1652.4,1003.4 L1652.7,1012.7 L1653.0,1002.2 L1653.2,1012.9 L1653.5,1002.1 L1653.7,1012.5 L1654.0,1009.3 L1654.3,1012.5 L1654.5,1008.1 L1654.8,1013.1 L1655.0,1008.2 L1655.3,1012.8 L1655.6,1004.1 L1655.8,1012.8 L1656.1,1003.6 L1656.3,1012.8 L1656.6,1006.0 L1656.9,1012.8 L1657.1,1003.4 L1657.4,1013.1 L1657.6,1003.8 L1657.9,1012.5 L1658.2,1008.3 L1658.4,1013.2 L1658.7,1006.4 L1658.9,1012.8 L1659.2,1004.5 L1659.5,1012.4 L1659.7,1005.4 L1660.0,1012.5 L1660.2,1005.5 L1660.5,1012.7 L1660.8,1000.8 L1661.0,1013.1 L1661.3,1002.3 L1661.5,1012.9 L1661.8,1002.1 L1662.1,1012.9 L1662.3,1004.3 L1662.6,1012.7 L1662.8,1001.8 L1663.1,1013.2 L1663.4,993.5 L1663.6,1013.0 L1663.9,990.9 L1664.1,1012.9 L1664.4,1006.8 L1664.7,1012.8 L1664.9,1005.5 L1665.2,1013.0 L1665.4,1005.3 L1665.7,1012.7 L1666.0,1001.5 L1666.2,1012.7 L1666.5,1002.6 L1666.7,1012.6 L1667.0,1002.0 L1667.3,1012.4 L1667.5,1000.3 L1667.8,1012.4 L1668.0,1002.8 L1668.3,1013.2 L1668.6,1000.5 L1668.8,1012.9 L1669.1,1001.2 L1669.3,1012.5 L1669.6,1005.0 L1669.9,1013.1 L1670.1,1004.2 L1670.4,1012.6 L1670.6,1004.8 L1670.9,1012.9 L1671.2,1007.4 L1671.4,1012.5 L1671.7,1007.9 L1671.9,1012.6 L1672.2,1001.7 L1672.5,1012.5 L1672.7,1001.0 L1673.0,1013.2 L1673.2,1000.3 L1673.5,1012.5 L1673.8,996.2 L1674.0,1013.1 L1674.3,994.8 L1674.5,1013.1 L1674.8,1002.6 L1675.1,1012.8 L1675.3,1001.0 L1675.6,1012.7 L1675.8,1000.8 L1676.1,1012.9 L1676.4,1008.1 L1676.6,1013.0 L1676.9,1008.6 L1677.1,1012.4 L1677.4,1002.4 L1677.7,1012.6 L1677.9,1004.9 L1678.2,1013.1 L1678.4,1004.4 L1678.7,1013.1 L1679.0,1000.7 L1679.2,1012.9 L1679.5,994.9 L1679.7,1012.6 L1680.0,1003.2 L1680.3,1012.8 L1680.5,1001.1 L1680.8,1012.9 L1681.0,1002.0 L1681.3,1013.1 L1681.6,1005.3 L1681.8,1013.0 L1682.1,1007.9 L1682.3,1012.6 L1682.6,1008.8 L1682.9,1012.7 L1683.1,1010.0 L1683.4,1012.8 L1683.6,1009.0 L1683.9,1013.0 L1684.2,985.2 L1684.4,1012.8 L1684.7,987.9 L1684.9,1012.5 L1685.2,999.3 L1685.5,1012.8 L1685.7,1002.8 L1686.0,1012.6 L1686.2,999.2 L1686.5,1013.0 L1686.8,1001.8 L1687.0,1013.0 L1687.3,998.1 L1687.5,1012.9 L1687.8,1001.8 L1688.1,1012.6 L1688.3,1002.8 L1688.6,1012.8 L1688.8,1002.0 L1689.1,1012.9 L1689.4,1006.6 L1689.6,1013.1 L1689.9,1004.2 L1690.1,1013.0 L1690.4,1005.0 L1690.7,1013.2 L1690.9,1003.8 L1691.2,1013.1 L1691.4,1003.7 L1691.7,1012.7 L1692.0,1001.8 L1692.2,1012.7 L1692.5,999.9 L1692.7,1012.8 L1693.0,999.2 L1693.3,1012.4 L1693.5,997.8 L1693.8,1012.5 L1694.0,999.6 L1694.3,1012.5 L1694.6,1002.5 L1694.8,1013.0 L1695.1,1002.1 L1695.3,1012.9 L1695.6,1006.4 L1695.9,1013.2 L1696.1,1004.2 L1696.4,1013.0 L1696.6,1003.0 L1696.9,1012.7 L1697.2,1009.6 L1697.4,1012.7 L1697.7,1009.0 L1697.9,1012.4 L1698.2,1007.4 L1698.5,1012.6 L1698.7,1009.4 L1699.0,1012.6 L1699.2,1007.5 L1699.5,1013.2 L1699.8,999.4 L1700.0,1013.0 L1700.3,1001.4 L1700.5,1012.9 L1700.8,1005.7 L1701.1,1013.0 L1701.3,1004.8 L1701.6,1012.7 L1701.8,1002.5 L1702.1,1012.5 L1702.4,1001.6 L1702.6,1012.4 L1702.9,1000.1 L1703.1,1012.7 L1703.4,1006.4 L1703.7,1013.1 L1703.9,1006.3 L1704.2,1012.7 L1704.4,1005.9 L1704.7,1013.1 L1705.0,1008.0 L1705.2,1013.0 L1705.5,1006.8 L1705.7,1012.6 L1706.0,998.1 L1706.3,1013.1 L1706.5,1000.3 L1706.8,1012.7 L1707.0,996.7 L1707.3,1012.6 L1707.6,1003.2 L1707.8,1012.5 L1708.1,1004.0 L1708.3,1013.1 L1708.6,1003.1 L1708.9,1012.4 L1709.1,1005.1 L1709.4,1013.2 L1709.6,1005.4 L1709.9,1012.5 L1710.2,1007.4 L1710.4,1013.1 L1710.7,1007.0 L1710.9,1012.7 L1711.2,990.9 L1711.5,1013.2 L1711.7,991.1 L1712.0,1013.2 L1712.2,998.6 L1712.5,1013.1 L1712.8,1006.8 L1713.0,1013.1 L1713.3,1007.7 L1713.5,1012.6 L1713.8,1006.2 L1714.1,1012.6 L1714.3,1005.5 L1714.6,1012.5 L1714.8,1005.3 L1715.1,1012.5 L1715.4,1001.6 L1715.6,1012.6 L1715.9,1003.3 L1716.1,1012.5 L1716.4,998.0 L1716.7,1012.4 L1716.9,995.2 L1717.2,1012.9 L1717.4,999.4 L1717.7,1012.9 L1718.0,1006.1 L1718.2,1012.9 L1718.5,1005.4 L1718.7,1012.9 L1719.0,1001.8 L1719.3,1012.9 L1719.5,1000.5 L1719.8,1012.7 L1720.0,1002.5 L1720.3,1012.5 L1720.6,1001.3 L1720.8,1012.4 L1721.1,999.4 L1721.3,1013.2 L1721.6,1003.6 L1721.9,1013.2 L1722.1,1003.0 L1722.4,1013.1 L1722.6,999.6 L1722.9,1012.6 L1723.2,1002.9 L1723.4,1012.6 L1723.7,1005.0 L1723.9,1012.5 L1724.2,991.9 L1724.5,1013.1 L1724.7,992.0 L1725.0,1013.1 L1725.2,991.9 L1725.5,1012.8 L1725.8,1001.4 L1726.0,1012.8" fill="none" stroke="#000" stroke-width="1.6" stroke-linejoin="round"/>
<line x1="1244.50" y1="1017.00" x2="1244.50" y2="1011.70" stroke="#000" stroke-width="1.1"/>
<line x1="1319.50" y1="1017.00" x2="1319.50" y2="1011.70" stroke="#000" stroke-width="1.1"/>
<line x1="1393.50" y1="1017.00" x2="1393.50" y2="1011.70" stroke="#000" stroke-width="1.1"/>
<line x1="1467.50" y1="1017.00" x2="1467.50" y2="1011.70" stroke="#000" stroke-width="1.1"/>
<line x1="1542.50" y1="1017.00" x2="1542.50" y2="1011.70" stroke="#000" stroke-width="1.1"/>
<line x1="1616.50" y1="1017.00" x2="1616.50" y2="1011.70" stroke="#000" stroke-width="1.1"/>
<line x1="1691.50" y1="1017.00" x2="1691.50" y2="1011.70" stroke="#000" stroke-width="1.1"/>
<line x1="1765.50" y1="1017.00" x2="1765.50" y2="1011.70" stroke="#000" stroke-width="1.1"/>
<line x1="1205.00" y1="1017.50" x2="1210.30" y2="1017.50" stroke="#000" stroke-width="1.1"/>
<line x1="1800.00" y1="1017.50" x2="1794.70" y2="1017.50" stroke="#000" stroke-width="1.1"/>
<line x1="1205.00" y1="1004.50" x2="1208.20" y2="1004.50" stroke="#000" stroke-width="1.0"/>
<line x1="1800.00" y1="1004.50" x2="1796.80" y2="1004.50" stroke="#000" stroke-width="1.0"/>
<line x1="1205.00" y1="996.50" x2="1208.20" y2="996.50" stroke="#000" stroke-width="1.0"/>
<line x1="1800.00" y1="996.50" x2="1796.80" y2="996.50" stroke="#000" stroke-width="1.0"/>
<line x1="1205.00" y1="991.50" x2="1208.20" y2="991.50" stroke="#000" stroke-width="1.0"/>
<line x1="1800.00" y1="991.50" x2="1796.80" y2="991.50" stroke="#000" stroke-width="1.0"/>
<line x1="1205.00" y1="986.50" x2="1208.20" y2="986.50" stroke="#000" stroke-width="1.0"/>
<line x1="1800.00" y1="986.50" x2="1796.80" y2="986.50" stroke="#000" stroke-width="1.0"/>
<line x1="1205.00" y1="983.50" x2="1208.20" y2="983.50" stroke="#000" stroke-width="1.0"/>
<line x1="1800.00" y1="983.50" x2="1796.80" y2="983.50" stroke="#000" stroke-width="1.0"/>
<line x1="1205.00" y1="980.50" x2="1208.20" y2="980.50" stroke="#000" stroke-width="1.0"/>
<line x1="1800.00" y1="980.50" x2="1796.80" y2="980.50" stroke="#000" stroke-width="1.0"/>
<line x1="1205.00" y1="978.50" x2="1208.20" y2="978.50" stroke="#000" stroke-width="1.0"/>
<line x1="1800.00" y1="978.50" x2="1796.80" y2="978.50" stroke="#000" stroke-width="1.0"/>
<line x1="1205.00" y1="975.50" x2="1208.20" y2="975.50" stroke="#000" stroke-width="1.0"/>
<line x1="1800.00" y1="975.50" x2="1796.80" y2="975.50" stroke="#000" stroke-width="1.0"/>
<line x1="1205.00" y1="974.50" x2="1210.30" y2="974.50" stroke="#000" stroke-width="1.1"/>
<line x1="1800.00" y1="974.50" x2="1794.70" y2="974.50" stroke="#000" stroke-width="1.1"/>
<line x1="1205.00" y1="961.50" x2="1208.20" y2="961.50" stroke="#000" stroke-width="1.0"/>
<line x1="1800.00" y1="961.50" x2="1796.80" y2="961.50" stroke="#000" stroke-width="1.0"/>
<line x1="1205.00" y1="953.50" x2="1208.20" y2="953.50" stroke="#000" stroke-width="1.0"/>
<line x1="1800.00" y1="953.50" x2="1796.80" y2="953.50" stroke="#000" stroke-width="1.0"/>
<line x1="1205.00" y1="948.50" x2="1208.20" y2="948.50" stroke="#000" stroke-width="1.0"/>
<line x1="1800.00" y1="948.50" x2="1796.80" y2="948.50" stroke="#000" stroke-width="1.0"/>
<line x1="1205.00" y1="943.50" x2="1208.20" y2="943.50" stroke="#000" stroke-width="1.0"/>
<line x1="1800.00" y1="943.50" x2="1796.80" y2="943.50" stroke="#000" stroke-width="1.0"/>
<line x1="1205.00" y1="940.50" x2="1208.20" y2="940.50" stroke="#000" stroke-width="1.0"/>
<line x1="1800.00" y1="940.50" x2="1796.80" y2="940.50" stroke="#000" stroke-width="1.0"/>
<line x1="1205.00" y1="937.50" x2="1208.20" y2="937.50" stroke="#000" stroke-width="1.0"/>
<line x1="1800.00" y1="937.50" x2="1796.80" y2="937.50" stroke="#000" stroke-width="1.0"/>
<line x1="1205.00" y1="935.50" x2="1208.20" y2="935.50" stroke="#000" stroke-width="1.0"/>
<line x1="1800.00" y1="935.50" x2="1796.80" y2="935.50" stroke="#000" stroke-width="1.0"/>
<line x1="1205.00" y1="932.50" x2="1208.20" y2="932.50" stroke="#000" stroke-width="1.0"/>
<line x1="1800.00" y1="932.50" x2="1796.80" y2="932.50" stroke="#000" stroke-width="1.0"/>
<line x1="1205.00" y1="931.50" x2="1210.30" y2="931.50" stroke="#000" stroke-width="1.1"/>
<line x1="1800.00" y1="931.50" x2="1794.70" y2="931.50" stroke="#000" stroke-width="1.1"/>
<line x1="1205.00" y1="918.50" x2="1208.20" y2="918.50" stroke="#000" stroke-width="1.0"/>
<line x1="1800.00" y1="918.50" x2="1796.80" y2="918.50" stroke="#000" stroke-width="1.0"/>
<line x1="1205.00" y1="910.50" x2="1208.20" y2="910.50" stroke="#000" stroke-width="1.0"/>
<line x1="1800.00" y1="910.50" x2="1796.80" y2="910.50" stroke="#000" stroke-width="1.0"/>
<line x1="1205.00" y1="905.50" x2="1208.20" y2="905.50" stroke="#000" stroke-width="1.0"/>
<line x1="1800.00" y1="905.50" x2="1796.80" y2="905.50" stroke="#000" stroke-width="1.0"/>
<line x1="1205.00" y1="900.50" x2="1208.20" y2="900.50" stroke="#000" stroke-width="1.0"/>
<line x1="1800.00" y1="900.50" x2="1796.80" y2="900.50" stroke="#000" stroke-width="1.0"/>
<line x1="1205.00" y1="897.50" x2="1208.20" y2="897.50" stroke="#000" stroke-width="1.0"/>
<line x1="1800.00" y1="897.50" x2="1796.80" y2="897.50" stroke="#000" stroke-width="1.0"/>
<line x1="1205.00" y1="894.50" x2="1208.20" y2="894.50" stroke="#000" stroke-width="1.0"/>
<line x1="1800.00" y1="894.50" x2="1796.80" y2="894.50" stroke="#000" stroke-width="1.0"/>
<line x1="1205.00" y1="892.50" x2="1208.20" y2="892.50" stroke="#000" stroke-width="1.0"/>
<line x1="1800.00" y1="892.50" x2="1796.80" y2="892.50" stroke="#000" stroke-width="1.0"/>
<line x1="1205.00" y1="889.50" x2="1208.20" y2="889.50" stroke="#000" stroke-width="1.0"/>
<line x1="1800.00" y1="889.50" x2="1796.80" y2="889.50" stroke="#000" stroke-width="1.0"/>
<line x1="1205.00" y1="888.50" x2="1210.30" y2="888.50" stroke="#000" stroke-width="1.1"/>
<line x1="1800.00" y1="888.50" x2="1794.70" y2="888.50" stroke="#000" stroke-width="1.1"/>
<line x1="1205.00" y1="875.50" x2="1208.20" y2="875.50" stroke="#000" stroke-width="1.0"/>
<line x1="1800.00" y1="875.50" x2="1796.80" y2="875.50" stroke="#000" stroke-width="1.0"/>
<line x1="1205.00" y1="867.50" x2="1208.20" y2="867.50" stroke="#000" stroke-width="1.0"/>
<line x1="1800.00" y1="867.50" x2="1796.80" y2="867.50" stroke="#000" stroke-width="1.0"/>
<line x1="1205.00" y1="862.50" x2="1208.20" y2="862.50" stroke="#000" stroke-width="1.0"/>
<line x1="1800.00" y1="862.50" x2="1796.80" y2="862.50" stroke="#000" stroke-width="1.0"/>
<line x1="1205.00" y1="857.50" x2="1208.20" y2="857.50" stroke="#000" stroke-width="1.0"/>
<line x1="1800.00" y1="857.50" x2="1796.80" y2="857.50" stroke="#000" stroke-width="1.0"/>
<line x1="1205.00" y1="854.50" x2="1208.20" y2="854.50" stroke="#000" stroke-width="1.0"/>
<line x1="1800.00" y1="854.50" x2="1796.80" y2="854.50" stroke="#000" stroke-width="1.0"/>
<line x1="1205.00" y1="851.50" x2="1208.20" y2="851.50" stroke="#000" stroke-width="1.0"/>
<line x1="1800.00" y1="851.50" x2="1796.80" y2="851.50" stroke="#000" stroke-width="1.0"/>
<line x1="1205.00" y1="849.50" x2="1208.20" y2="849.50" stroke="#000" stroke-width="1.0"/>
<line x1="1800.00" y1="849.50" x2="1796.80" y2="849.50" stroke="#000" stroke-width="1.0"/>
<line x1="1205.00" y1="846.50" x2="1208.20" y2="846.50" stroke="#000" stroke-width="1.0"/>
<line x1="1800.00" y1="846.50" x2="1796.80" y2="846.50" stroke="#000" stroke-width="1.0"/>
<line x1="1205.00" y1="845.50" x2="1210.30" y2="845.50" stroke="#000" stroke-width="1.1"/>
<line x1="1800.00" y1="845.50" x2="1794.70" y2="845.50" stroke="#000" stroke-width="1.1"/>
<rect x="1205" y="845" width="595" height="172" fill="none" stroke="#000" stroke-width="2.0"/>
<text x="1153.90" y="1024.90" font-size="19.50" text-anchor="start" fill="#000">10<tspan dx="0.8" dy="-6.88" font-size="13.65">−1</tspan></text>
<text x="1165.10" y="981.90" font-size="19.50" text-anchor="start" fill="#000">10<tspan dx="0.8" dy="-6.88" font-size="13.65">0</tspan></text>
<text x="1165.10" y="938.90" font-size="19.50" text-anchor="start" fill="#000">10<tspan dx="0.8" dy="-6.88" font-size="13.65">1</tspan></text>
<text x="1165.10" y="895.90" font-size="19.50" text-anchor="start" fill="#000">10<tspan dx="0.8" dy="-6.88" font-size="13.65">2</tspan></text>
<text x="1165.10" y="852.90" font-size="19.50" text-anchor="start" fill="#000">10<tspan dx="0.8" dy="-6.88" font-size="13.65">3</tspan></text>
<text x="1245.02" y="1037.20" font-size="19.50" text-anchor="middle" fill="#000" letter-spacing="0.6">08</text>
<text x="1319.45" y="1037.20" font-size="19.50" text-anchor="middle" fill="#000" letter-spacing="0.6">09</text>
<text x="1393.88" y="1037.20" font-size="19.50" text-anchor="middle" fill="#000" letter-spacing="0.6">10</text>
<text x="1468.30" y="1037.20" font-size="19.50" text-anchor="middle" fill="#000" letter-spacing="0.6">11</text>
<text x="1542.72" y="1037.20" font-size="19.50" text-anchor="middle" fill="#000" letter-spacing="0.6">12</text>
<text x="1617.15" y="1037.20" font-size="19.50" text-anchor="middle" fill="#000" letter-spacing="0.6">13</text>
<text x="1691.58" y="1037.20" font-size="19.50" text-anchor="middle" fill="#000" letter-spacing="0.6">14</text>
<text x="1766.00" y="1037.20" font-size="19.50" text-anchor="middle" fill="#000" letter-spacing="0.6">15</text>
<text x="1502.90" y="1064.90" font-size="24.00" text-anchor="middle" fill="#000" letter-spacing="0.14">February 2019 (UT)</text>
<text x="1106.05" y="932.50" font-size="24.00" text-anchor="middle" fill="#000" transform="rotate(-90 1106.05 932.50)">&gt;10 MeV Proton Flux</text>
<g transform="translate(1138.60 1017.10) rotate(-90)" fill="#000">
<text x="-2.06" y="0.00" font-size="24.00">( cm</text>
<text x="52.30" y="-9.90" font-size="16.80">2</text>
<text x="66.50" y="0.00" font-size="24.00">s</text>
<text x="78.60" y="-9.90" font-size="16.80">−1</text>
<text x="107.90" y="0.00" font-size="24.00">sr</text>
<text x="130.80" y="-9.90" font-size="16.80">−1</text>
<text x="164.90" y="0.00" font-size="24.00">)</text>
</g>
</svg>
</body></html>
